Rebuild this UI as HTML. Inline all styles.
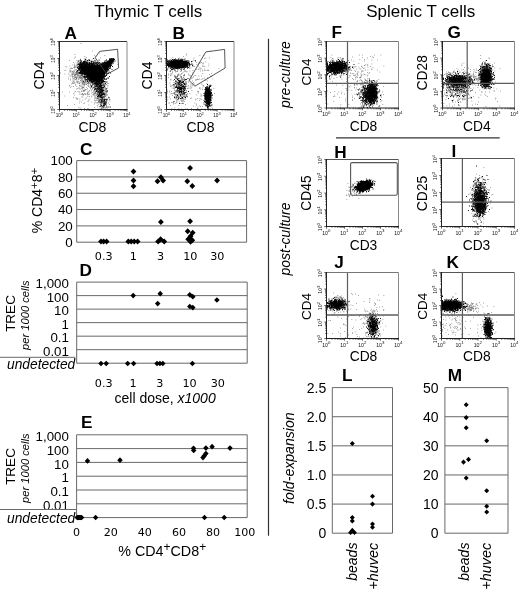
<!DOCTYPE html>
<html lang="en">
<head>
<meta charset="utf-8">
<title>Thymic and splenic T cells</title>
<style>
html,body{margin:0;padding:0;background:#fff;}
body{width:520px;height:595px;overflow:hidden;}
svg{display:block;font-family:"Liberation Sans", Arial, Helvetica, sans-serif;}
</style>
</head>
<body>
<svg width="520" height="595" viewBox="0 0 520 595" font-family='"Liberation Sans", Arial, Helvetica, sans-serif' fill="#000">
<rect x="0" y="0" width="520" height="595" fill="#fff"/>
<text x="148.3" y="17.3" font-size="17" text-anchor="middle">Thymic T cells</text>
<text x="420.7" y="17.3" font-size="17" text-anchor="middle">Splenic T cells</text>
<line x1="268.5" y1="38.8" x2="268.5" y2="535.7" stroke="#333" stroke-width="1.2"/>
<line x1="336" y1="137.8" x2="499.7" y2="137.8" stroke="#333" stroke-width="1.2"/>
<path d="M80.5 43.5h0.72M92 51h0.72M99 53h0.72M74.5 54.5h0.72M94 55.5h0.72M104.5 55.5h0.72M84.5 56.5h0.72M95 56.5h0.72M75 57h0.72M86 57.5h0.72M74 58h0.72M100 58h0.72M80 59h0.72M94.5 59h0.72M92.5 60h0.72M69 60.5h0.72M76.5 60.5h0.72M79 60.5h0.72M85 60.5h0.72M99.5 60.5h0.72M80.5 61h0.72M81.5 61h0.72M86.5 61h0.72M89 61h0.72M91 61h0.72M94.5 61h0.72M79 62h0.72M80 62h0.72M82.5 62h0.72M88 62h0.72M93 62h0.72M73 62.5h0.72M79 62.5h0.72M79.5 62.5h0.72M96 62.5h0.72M96.5 62.5h0.72M76.5 63h0.72M79.5 63h0.72M92 63h0.72M81 63.5h0.72M95.5 63.5h0.72M74 64h0.72M80 64h0.72M77 64.5h0.72M77.5 64.5h0.72M82 64.5h0.72M96.5 64.5h0.72M117.5 64.5h0.72M72.5 65h0.72M74.5 65h0.72M76 65h0.72M74.5 65.5h0.72M76.5 65.5h0.72M77 65.5h0.72M97 65.5h0.72M69.5 66h0.72M74 66h0.72M79 66h0.72M65.5 66.5h0.72M74.5 66.5h0.72M77.5 66.5h0.72M66.5 67h0.72M79 67h0.72M73.5 67.5h0.72M74 67.5h0.72M74.5 67.5h0.72M80 67.5h0.72M108 67.5h0.72M71 68h0.72M74 68h0.72M78 68h0.72M70 68.5h0.72M71.5 68.5h0.72M72 68.5h0.72M77.5 68.5h0.72M78.5 68.5h0.72M69.5 69h0.72M78 69h0.72M78.5 69h0.72M79 69h0.72M76 69.5h0.72M78 69.5h0.72M81.5 69.5h0.72M65.5 70h0.72M74.5 70h0.72M75 70h0.72M79 70h0.72M79.5 70h0.72M82.5 70h0.72M64.5 70.5h0.72M69.5 70.5h0.72M70.5 70.5h0.72M73.5 70.5h0.72M76.5 70.5h0.72M77.5 70.5h0.72M78.5 70.5h0.72M78 71h0.72M79.5 71h0.72M80 71h0.72M70 71.5h0.72M72 71.5h0.72M74 71.5h0.72M77 71.5h0.72M77.5 71.5h0.72M69 72h0.72M70 72h0.72M71 72h0.72M72 72h0.72M72.5 72h0.72M73 72h0.72M73.5 72h0.72M76 72h0.72M76.5 72h0.72M77 72h0.72M77.5 72h0.72M79 72h0.72M82.5 72h0.72M73.5 72.5h0.72M75.5 72.5h0.72M76 72.5h0.72M76.5 72.5h0.72M77.5 72.5h0.72M79.5 72.5h0.72M80.5 72.5h0.72M60 73h0.72M75 73h0.72M77 73h0.72M82.5 73h0.72M83 73h0.72M72 73.5h0.72M73.5 73.5h0.72M76 73.5h0.72M76.5 73.5h0.72M77 73.5h0.72M77.5 73.5h0.72M78 73.5h0.72M81 73.5h0.72M64.5 74h0.72M68 74h0.72M71.5 74h0.72M73.5 74h0.72M74.5 74h0.72M75 74h0.72M76 74h0.72M76.5 74h0.72M78.5 74h0.72M79.5 74h0.72M80.5 74h0.72M71.5 74.5h0.72M72 74.5h0.72M73.5 74.5h0.72M74.5 74.5h0.72M75 74.5h0.72M75.5 74.5h0.72M76 74.5h0.72M77 74.5h0.72M81 74.5h0.72M82 74.5h0.72M82.5 74.5h0.72M84.5 74.5h0.72M69.5 75h0.72M72.5 75h0.72M74.5 75h0.72M77 75h0.72M78 75h0.72M78.5 75h0.72M80 75h0.72M81 75h0.72M82 75h0.72M84.5 75h0.72M85.5 75h0.72M86 75h0.72M104 75h0.72M106.5 75h0.72M74.5 75.5h0.72M75.5 75.5h0.72M77 75.5h0.72M78 75.5h0.72M80 75.5h0.72M86 75.5h0.72M70 76h0.72M71.5 76h0.72M72 76h0.72M74 76h0.72M74.5 76h0.72M78.5 76h0.72M79 76h0.72M79.5 76h0.72M80.5 76h0.72M82.5 76h0.72M83.5 76h0.72M84 76h0.72M85.5 76h0.72M104.5 76h0.72M72.5 76.5h0.72M75.5 76.5h0.72M80 76.5h0.72M81.5 76.5h0.72M82 76.5h0.72M82.5 76.5h0.72M83 76.5h0.72M85.5 76.5h0.72M68.5 77h0.72M72.5 77h0.72M73.5 77h0.72M75 77h0.72M76 77h0.72M77 77h0.72M77.5 77h0.72M78.5 77h0.72M79 77h0.72M80 77h0.72M74.5 77.5h0.72M75 77.5h0.72M76 77.5h0.72M79 77.5h0.72M79.5 77.5h0.72M80.5 77.5h0.72M81 77.5h0.72M82.5 77.5h0.72M84 77.5h0.72M87.5 77.5h0.72M91.5 77.5h0.72M107.5 77.5h0.72M72 78h0.72M74 78h0.72M75.5 78h0.72M76.5 78h0.72M78 78h0.72M80 78h0.72M80.5 78h0.72M81 78h0.72M81.5 78h0.72M82 78h0.72M82.5 78h0.72M83.5 78h0.72M84 78h0.72M85 78h0.72M96.5 78h0.72M100 78h0.72M73.5 78.5h0.72M76 78.5h0.72M76.5 78.5h0.72M79.5 78.5h0.72M80.5 78.5h0.72M81.5 78.5h0.72M85.5 78.5h0.72M88 78.5h0.72M101.5 78.5h0.72M68 79h0.72M70 79h0.72M73.5 79h0.72M76 79h0.72M76.5 79h0.72M78.5 79h0.72M82 79h0.72M101 79h0.72M104.5 79h0.72M75 79.5h0.72M75.5 79.5h0.72M78.5 79.5h0.72M81 79.5h0.72M85 79.5h0.72M86.5 79.5h0.72M101.5 79.5h0.72M103 79.5h0.72M103.5 79.5h0.72M104 79.5h0.72M106 79.5h0.72M70 80h0.72M72.5 80h0.72M74 80h0.72M80.5 80h0.72M82 80h0.72M83.5 80h0.72M88 80h0.72M103 80h0.72M80 80.5h0.72M80.5 80.5h0.72M82 80.5h0.72M83.5 80.5h0.72M85.5 80.5h0.72M87 80.5h0.72M88.5 80.5h0.72M92.5 80.5h0.72M98 80.5h0.72M73 81h0.72M76 81h0.72M77.5 81h0.72M81 81h0.72M84 81h0.72M85 81h0.72M86 81h0.72M97 81h0.72M97.5 81h0.72M101.5 81h0.72M103.5 81h0.72M77 81.5h0.72M78.5 81.5h0.72M82 81.5h0.72M83.5 81.5h0.72M85 81.5h0.72M85.5 81.5h0.72M89 81.5h0.72M89.5 81.5h0.72M90.5 81.5h0.72M101.5 81.5h0.72M72 82h0.72M73 82h0.72M74 82h0.72M76 82h0.72M80.5 82h0.72M81.5 82h0.72M83 82h0.72M86 82h0.72M100 82h0.72M102.5 82h0.72M106 82h0.72M106.5 82h0.72M107 82h0.72M74.5 82.5h0.72M77 82.5h0.72M79.5 82.5h0.72M82 82.5h0.72M83 82.5h0.72M84 82.5h0.72M84.5 82.5h0.72M85.5 82.5h0.72M87.5 82.5h0.72M88 82.5h0.72M90 82.5h0.72M91 82.5h0.72M92 82.5h0.72M97 82.5h0.72M99 82.5h0.72M100 82.5h0.72M100.5 82.5h0.72M101.5 82.5h0.72M102.5 82.5h0.72M72.5 83h0.72M77.5 83h0.72M78 83h0.72M82 83h0.72M82.5 83h0.72M84 83h0.72M85.5 83h0.72M86.5 83h0.72M95 83h0.72M100 83h0.72M100.5 83h0.72M102.5 83h0.72M103 83h0.72M104.5 83h0.72M105 83h0.72M72 83.5h0.72M73 83.5h0.72M74.5 83.5h0.72M79 83.5h0.72M79.5 83.5h0.72M82 83.5h0.72M83.5 83.5h0.72M84.5 83.5h0.72M87 83.5h0.72M87.5 83.5h0.72M88 83.5h0.72M89 83.5h0.72M90 83.5h0.72M93.5 83.5h0.72M94.5 83.5h0.72M96.5 83.5h0.72M98 83.5h0.72M98.5 83.5h0.72M101 83.5h0.72M101.5 83.5h0.72M102 83.5h0.72M103.5 83.5h0.72M107 83.5h0.72M108 83.5h0.72M71 84h0.72M81.5 84h0.72M83 84h0.72M84 84h0.72M88 84h0.72M88.5 84h0.72M90.5 84h0.72M92.5 84h0.72M96.5 84h0.72M98.5 84h0.72M82.5 84.5h0.72M83.5 84.5h0.72M84.5 84.5h0.72M85.5 84.5h0.72M86 84.5h0.72M90 84.5h0.72M95 84.5h0.72M95.5 84.5h0.72M102 84.5h0.72M103 84.5h0.72M104 84.5h0.72M105.5 84.5h0.72M106 84.5h0.72M75 85h0.72M75.5 85h0.72M79.5 85h0.72M84 85h0.72M90 85h0.72M92 85h0.72M94 85h0.72M95.5 85h0.72M98 85h0.72M98.5 85h0.72M103 85h0.72M105.5 85h0.72M69.5 85.5h0.72M79 85.5h0.72M87.5 85.5h0.72M91 85.5h0.72M94 85.5h0.72M97.5 85.5h0.72M98 85.5h0.72M98.5 85.5h0.72M99.5 85.5h0.72M100 85.5h0.72M103 85.5h0.72M104.5 85.5h0.72M107.5 85.5h0.72M69 86h0.72M79.5 86h0.72M80 86h0.72M81 86h0.72M82 86h0.72M83 86h0.72M84 86h0.72M88 86h0.72M88.5 86h0.72M91.5 86h0.72M93.5 86h0.72M97.5 86h0.72M98 86h0.72M99 86h0.72M101.5 86h0.72M103 86h0.72M104.5 86h0.72M107.5 86h0.72M71.5 86.5h0.72M73 86.5h0.72M76.5 86.5h0.72M88.5 86.5h0.72M91.5 86.5h0.72M95 86.5h0.72M96 86.5h0.72M100.5 86.5h0.72M101 86.5h0.72M101.5 86.5h0.72M81 87h0.72M91.5 87h0.72M95 87h0.72M95.5 87h0.72M96.5 87h0.72M97.5 87h0.72M98.5 87h0.72M103.5 87h0.72M70 87.5h0.72M82 87.5h0.72M82.5 87.5h0.72M83 87.5h0.72M83.5 87.5h0.72M86 87.5h0.72M89.5 87.5h0.72M91 87.5h0.72M91.5 87.5h0.72M93 87.5h0.72M94.5 87.5h0.72M96 87.5h0.72M98 87.5h0.72M100 87.5h0.72M100.5 87.5h0.72M101.5 87.5h0.72M103.5 87.5h0.72M104 87.5h0.72M105 87.5h0.72M78 88h0.72M79 88h0.72M82.5 88h0.72M90 88h0.72M92 88h0.72M93.5 88h0.72M94.5 88h0.72M95 88h0.72M95.5 88h0.72M97 88h0.72M99 88h0.72M99.5 88h0.72M102.5 88h0.72M107 88h0.72M77 88.5h0.72M81.5 88.5h0.72M87 88.5h0.72M92.5 88.5h0.72M94 88.5h0.72M94.5 88.5h0.72M96 88.5h0.72M98 88.5h0.72M98.5 88.5h0.72M99.5 88.5h0.72M100.5 88.5h0.72M105 88.5h0.72M105.5 88.5h0.72M106.5 88.5h0.72M76 89h0.72M79.5 89h0.72M80.5 89h0.72M82 89h0.72M84 89h0.72M90 89h0.72M92 89h0.72M95.5 89h0.72M96 89h0.72M99 89h0.72M100.5 89h0.72M103 89h0.72M103.5 89h0.72M104 89h0.72M105.5 89h0.72M85 89.5h0.72M86.5 89.5h0.72M95 89.5h0.72M96 89.5h0.72M99 89.5h0.72M102 89.5h0.72M102.5 89.5h0.72M105 89.5h0.72M83.5 90h0.72M85 90h0.72M91 90h0.72M95 90h0.72M98.5 90h0.72M99 90h0.72M99.5 90h0.72M100 90h0.72M103.5 90h0.72M83 90.5h0.72M84 90.5h0.72M89 90.5h0.72M93.5 90.5h0.72M94 90.5h0.72M98 90.5h0.72M98.5 90.5h0.72M99 90.5h0.72M100 90.5h0.72M101 90.5h0.72M105 90.5h0.72M106.5 90.5h0.72M81 91h0.72M82.5 91h0.72M83.5 91h0.72M84.5 91h0.72M87.5 91h0.72M89 91h0.72M91.5 91h0.72M95.5 91h0.72M97 91h0.72M98.5 91h0.72M99.5 91h0.72M102.5 91h0.72M103 91h0.72M75 91.5h0.72M77.5 91.5h0.72M81.5 91.5h0.72M83.5 91.5h0.72M93 91.5h0.72M94.5 91.5h0.72M95 91.5h0.72M96.5 91.5h0.72M97 91.5h0.72M99 91.5h0.72M100 91.5h0.72M103 91.5h0.72M62 92h0.72M69 92h0.72M74.5 92h0.72M78.5 92h0.72M79.5 92h0.72M88 92h0.72M95.5 92h0.72M100.5 92h0.72M104 92h0.72M104.5 92h0.72M107 92h0.72M87.5 92.5h0.72M92.5 92.5h0.72M95 92.5h0.72M97.5 92.5h0.72M98 92.5h0.72M100.5 92.5h0.72M102 92.5h0.72M102.5 92.5h0.72M103.5 92.5h0.72M106 92.5h0.72M87.5 93h0.72M91 93h0.72M93.5 93h0.72M95 93h0.72M95.5 93h0.72M96.5 93h0.72M100 93h0.72M103 93h0.72M103.5 93h0.72M73 93.5h0.72M82 93.5h0.72M84 93.5h0.72M87 93.5h0.72M93.5 93.5h0.72M97.5 93.5h0.72M98 93.5h0.72M98.5 93.5h0.72M99.5 93.5h0.72M100 93.5h0.72M100.5 93.5h0.72M102 93.5h0.72M102.5 93.5h0.72M103.5 93.5h0.72M104 93.5h0.72M104.5 93.5h0.72M79 94h0.72M80.5 94h0.72M82 94h0.72M82.5 94h0.72M85 94h0.72M86.5 94h0.72M89 94h0.72M94 94h0.72M95.5 94h0.72M96 94h0.72M98.5 94h0.72M100 94h0.72M102.5 94h0.72M103 94h0.72M103.5 94h0.72M105.5 94h0.72M81 94.5h0.72M83 94.5h0.72M83.5 94.5h0.72M85 94.5h0.72M87.5 94.5h0.72M88.5 94.5h0.72M92.5 94.5h0.72M93.5 94.5h0.72M98 94.5h0.72M98.5 94.5h0.72M102.5 94.5h0.72M105 94.5h0.72M105.5 94.5h0.72M106.5 94.5h0.72M74 95h0.72M82.5 95h0.72M83 95h0.72M87.5 95h0.72M93 95h0.72M94.5 95h0.72M96.5 95h0.72M98 95h0.72M100 95h0.72M100.5 95h0.72M104 95h0.72M107 95h0.72M96 95.5h0.72M104 95.5h0.72M105 95.5h0.72M106 95.5h0.72M64.5 96h0.72M91.5 96h0.72M94 96h0.72M95 96h0.72M97 96h0.72M99.5 96h0.72M100 96h0.72M100.5 96h0.72M101.5 96h0.72M102.5 96h0.72M103 96h0.72M104 96h0.72M104.5 96h0.72M87.5 96.5h0.72M89 96.5h0.72M98 96.5h0.72M99.5 96.5h0.72M100.5 96.5h0.72M101 96.5h0.72M102.5 96.5h0.72M103.5 96.5h0.72M105 96.5h0.72M105.5 96.5h0.72M81.5 97h0.72M82.5 97h0.72M91.5 97h0.72M95.5 97h0.72M98.5 97h0.72M99 97h0.72M100.5 97h0.72M101 97h0.72M102.5 97h0.72M108 97h0.72M73 97.5h0.72M94.5 97.5h0.72M96.5 97.5h0.72M98.5 97.5h0.72M99 97.5h0.72M102 97.5h0.72M102.5 97.5h0.72M103.5 97.5h0.72M75.5 98h0.72M76.5 98h0.72M86 98h0.72M95.5 98h0.72M97 98h0.72M99 98h0.72M100.5 98h0.72M101.5 98h0.72M102.5 98h0.72M105.5 98h0.72M95.5 98.5h0.72M97 98.5h0.72M97.5 98.5h0.72M98.5 98.5h0.72M101.5 98.5h0.72M103.5 98.5h0.72M108.5 98.5h0.72M76 99h0.72M77 99h0.72M77.5 99h0.72M79.5 99h0.72M85 99h0.72M89.5 99h0.72M94 99h0.72M96 99h0.72M98.5 99h0.72M101 99h0.72M103.5 99h0.72M104 99h0.72M104.5 99h0.72M106 99h0.72M107 99h0.72M109 99h0.72M98.5 99.5h0.72M100 99.5h0.72M102 99.5h0.72M105 99.5h0.72M106 99.5h0.72M107 99.5h0.72M109.5 99.5h0.72M82.5 100h0.72M88 100h0.72M94.5 100h0.72M96.5 100h0.72M97.5 100h0.72M98.5 100h0.72M99 100h0.72M104.5 100h0.72M105.5 100h0.72M109.5 100h0.72M94.5 100.5h0.72M96.5 100.5h0.72M99 100.5h0.72M79.5 101h0.72M88.5 101h0.72M95 101h0.72M99.5 101h0.72M101 101h0.72M101.5 101h0.72M103 101h0.72M104.5 101h0.72M109.5 101h0.72M87.5 101.5h0.72M98 101.5h0.72M98.5 101.5h0.72M99.5 101.5h0.72M102 101.5h0.72M102.5 101.5h0.72M104 101.5h0.72M105 101.5h0.72M105.5 101.5h0.72M106.5 101.5h0.72M81 102h0.72M91.5 102h0.72M99.5 102h0.72M100 102h0.72M102 102h0.72M102.5 102h0.72M103 102h0.72M103.5 102h0.72M104 102h0.72M106 102h0.72M95.5 102.5h0.72M97 102.5h0.72M98 102.5h0.72M99 102.5h0.72M99.5 102.5h0.72M100 102.5h0.72M100.5 102.5h0.72M101.5 102.5h0.72M102.5 102.5h0.72M103 102.5h0.72M104.5 102.5h0.72M105 102.5h0.72M105.5 102.5h0.72M79 103h0.72M84 103h0.72M94 103h0.72M96.5 103h0.72M97.5 103h0.72M99 103h0.72M100 103h0.72M101 103h0.72M106 103h0.72M106.5 103h0.72M108 103h0.72M83.5 103.5h0.72M100.5 103.5h0.72M101.5 103.5h0.72M103 103.5h0.72M104 103.5h0.72M94 104h0.72M100 104h0.72M103.5 104h0.72M105.5 104h0.72M74 104.5h0.72M98.5 104.5h0.72M100.5 104.5h0.72M103 104.5h0.72M104 104.5h0.72M105 104.5h0.72M105.5 104.5h0.72M109 104.5h0.72M88.5 105h0.72M100 105h0.72M101 105h0.72M102.5 105h0.72M104 105h0.72M104.5 105h0.72M105.5 105h0.72M106 105h0.72M67 105.5h0.72M97 105.5h0.72M102.5 105.5h0.72M106 105.5h0.72M100 106h0.72M100.5 106h0.72M101 106h0.72M100.5 106.5h0.72M101.5 106.5h0.72M102 106.5h0.72M104.5 106.5h0.72M106 106.5h0.72M107.5 106.5h0.72M110 106.5h0.72M97.5 107h0.72M102 107h0.72M103 107h0.72M106 107h0.72M78.5 107.5h0.72M94 107.5h0.72M101.5 107.5h0.72M102.5 107.5h0.72M103 107.5h0.72M103.5 107.5h0.72M105.5 107.5h0.72M106 107.5h0.72M107 107.5h0.72M110 107.5h0.72M80.5 108h0.72M99.5 108h0.72M101 108h0.72M84 108.5h0.72M87.5 108.5h0.72M101 108.5h0.72M105.5 108.5h0.72M79.5 109h0.72M84 109h0.72M87.5 109h0.72M88 109h0.72M100.5 109h0.72M101 109h0.72M101.5 109h0.72M102 109h0.72M102.5 109h0.72M103 109h0.72M104 109h0.72M107 109h0.72" stroke="#5a5a5a" stroke-width="0.72" fill="none"/>
<path d="M93 58.5h0.95M110.5 58.5h0.95M111.5 58.5h0.95M113 58.5h0.95M84.5 59h0.95M109 59h0.95M109.5 59h0.95M110.5 59h0.95M111 59h0.95M112 59h0.95M112.5 59h0.95M113.5 59h0.95M85 59.5h0.95M109 59.5h0.95M110 59.5h0.95M110.5 59.5h0.95M111.5 59.5h0.95M112 59.5h0.95M112.5 59.5h0.95M113 59.5h0.95M114 59.5h0.95M80 60h0.95M85.5 60h0.95M88 60h0.95M89 60h0.95M98.5 60h0.95M106 60h0.95M109 60h0.95M110 60h0.95M110.5 60h0.95M111 60h0.95M111.5 60h0.95M112 60h0.95M112.5 60h0.95M113 60h0.95M87 60.5h0.95M89 60.5h0.95M94.5 60.5h0.95M105.5 60.5h0.95M109 60.5h0.95M109.5 60.5h0.95M110 60.5h0.95M110.5 60.5h0.95M111 60.5h0.95M111.5 60.5h0.95M112 60.5h0.95M112.5 60.5h0.95M78 61h0.95M80 61h0.95M81 61h0.95M84 61h0.95M90.5 61h0.95M104.5 61h0.95M107.5 61h0.95M108 61h0.95M108.5 61h0.95M109 61h0.95M109.5 61h0.95M110 61h0.95M110.5 61h0.95M111 61h0.95M111.5 61h0.95M112 61h0.95M112.5 61h0.95M113 61h0.95M113.5 61h0.95M114.5 61h0.95M83 61.5h0.95M83.5 61.5h0.95M84 61.5h0.95M85.5 61.5h0.95M91 61.5h0.95M92.5 61.5h0.95M107 61.5h0.95M107.5 61.5h0.95M108 61.5h0.95M108.5 61.5h0.95M109 61.5h0.95M109.5 61.5h0.95M110 61.5h0.95M110.5 61.5h0.95M111 61.5h0.95M111.5 61.5h0.95M112 61.5h0.95M112.5 61.5h0.95M77.5 62h0.95M81 62h0.95M84 62h0.95M84.5 62h0.95M85 62h0.95M85.5 62h0.95M87 62h0.95M92.5 62h0.95M94.5 62h0.95M95.5 62h0.95M104 62h0.95M105.5 62h0.95M106 62h0.95M107 62h0.95M107.5 62h0.95M108 62h0.95M108.5 62h0.95M109 62h0.95M109.5 62h0.95M110 62h0.95M110.5 62h0.95M111 62h0.95M111.5 62h0.95M112 62h0.95M80 62.5h0.95M81.5 62.5h0.95M82.5 62.5h0.95M83 62.5h0.95M83.5 62.5h0.95M84 62.5h0.95M86 62.5h0.95M86.5 62.5h0.95M89 62.5h0.95M91 62.5h0.95M93.5 62.5h0.95M97 62.5h0.95M99 62.5h0.95M103.5 62.5h0.95M104 62.5h0.95M104.5 62.5h0.95M105 62.5h0.95M105.5 62.5h0.95M106 62.5h0.95M106.5 62.5h0.95M107 62.5h0.95M107.5 62.5h0.95M108 62.5h0.95M108.5 62.5h0.95M109 62.5h0.95M109.5 62.5h0.95M110 62.5h0.95M110.5 62.5h0.95M111 62.5h0.95M111.5 62.5h0.95M80 63h0.95M83 63h0.95M83.5 63h0.95M84.5 63h0.95M85 63h0.95M86 63h0.95M86.5 63h0.95M87 63h0.95M88 63h0.95M89.5 63h0.95M90.5 63h0.95M93 63h0.95M93.5 63h0.95M94.5 63h0.95M95 63h0.95M96 63h0.95M96.5 63h0.95M100.5 63h0.95M102 63h0.95M102.5 63h0.95M103.5 63h0.95M104 63h0.95M104.5 63h0.95M105.5 63h0.95M106 63h0.95M106.5 63h0.95M107 63h0.95M107.5 63h0.95M108 63h0.95M108.5 63h0.95M109 63h0.95M109.5 63h0.95M110 63h0.95M110.5 63h0.95M112 63h0.95M113 63h0.95M78.5 63.5h0.95M80 63.5h0.95M81.5 63.5h0.95M82 63.5h0.95M82.5 63.5h0.95M83 63.5h0.95M83.5 63.5h0.95M84 63.5h0.95M85.5 63.5h0.95M86 63.5h0.95M87 63.5h0.95M89 63.5h0.95M90 63.5h0.95M90.5 63.5h0.95M91 63.5h0.95M92.5 63.5h0.95M93 63.5h0.95M94.5 63.5h0.95M97.5 63.5h0.95M98 63.5h0.95M100.5 63.5h0.95M102.5 63.5h0.95M103 63.5h0.95M103.5 63.5h0.95M105 63.5h0.95M105.5 63.5h0.95M106 63.5h0.95M106.5 63.5h0.95M107 63.5h0.95M107.5 63.5h0.95M108 63.5h0.95M108.5 63.5h0.95M109 63.5h0.95M109.5 63.5h0.95M110 63.5h0.95M110.5 63.5h0.95M111 63.5h0.95M77.5 64h0.95M79 64h0.95M80.5 64h0.95M81 64h0.95M81.5 64h0.95M82.5 64h0.95M83 64h0.95M83.5 64h0.95M84.5 64h0.95M85 64h0.95M86 64h0.95M86.5 64h0.95M87 64h0.95M88 64h0.95M88.5 64h0.95M89 64h0.95M89.5 64h0.95M91 64h0.95M91.5 64h0.95M92 64h0.95M92.5 64h0.95M93.5 64h0.95M95.5 64h0.95M96 64h0.95M96.5 64h0.95M99.5 64h0.95M101 64h0.95M101.5 64h0.95M102.5 64h0.95M103 64h0.95M103.5 64h0.95M104 64h0.95M105 64h0.95M105.5 64h0.95M106 64h0.95M106.5 64h0.95M107 64h0.95M107.5 64h0.95M108 64h0.95M108.5 64h0.95M109 64h0.95M109.5 64h0.95M110 64h0.95M110.5 64h0.95M111.5 64h0.95M78 64.5h0.95M79 64.5h0.95M80 64.5h0.95M80.5 64.5h0.95M81 64.5h0.95M81.5 64.5h0.95M82.5 64.5h0.95M83.5 64.5h0.95M84 64.5h0.95M84.5 64.5h0.95M85 64.5h0.95M85.5 64.5h0.95M86.5 64.5h0.95M87 64.5h0.95M87.5 64.5h0.95M88 64.5h0.95M88.5 64.5h0.95M89 64.5h0.95M90.5 64.5h0.95M91 64.5h0.95M91.5 64.5h0.95M92.5 64.5h0.95M93.5 64.5h0.95M94.5 64.5h0.95M97 64.5h0.95M98.5 64.5h0.95M99.5 64.5h0.95M100.5 64.5h0.95M101 64.5h0.95M101.5 64.5h0.95M102.5 64.5h0.95M103.5 64.5h0.95M104 64.5h0.95M104.5 64.5h0.95M105 64.5h0.95M105.5 64.5h0.95M106 64.5h0.95M106.5 64.5h0.95M107 64.5h0.95M107.5 64.5h0.95M108 64.5h0.95M108.5 64.5h0.95M109 64.5h0.95M109.5 64.5h0.95M110 64.5h0.95M110.5 64.5h0.95M78.5 65h0.95M79 65h0.95M80 65h0.95M80.5 65h0.95M81.5 65h0.95M82 65h0.95M82.5 65h0.95M83.5 65h0.95M84 65h0.95M84.5 65h0.95M85 65h0.95M85.5 65h0.95M86 65h0.95M86.5 65h0.95M87.5 65h0.95M88 65h0.95M88.5 65h0.95M89 65h0.95M89.5 65h0.95M90 65h0.95M90.5 65h0.95M91 65h0.95M91.5 65h0.95M92 65h0.95M93 65h0.95M93.5 65h0.95M94 65h0.95M94.5 65h0.95M96.5 65h0.95M97 65h0.95M97.5 65h0.95M99 65h0.95M99.5 65h0.95M100 65h0.95M100.5 65h0.95M101 65h0.95M101.5 65h0.95M102 65h0.95M103 65h0.95M103.5 65h0.95M104 65h0.95M104.5 65h0.95M105 65h0.95M105.5 65h0.95M106 65h0.95M106.5 65h0.95M107 65h0.95M107.5 65h0.95M108 65h0.95M108.5 65h0.95M109 65h0.95M109.5 65h0.95M110 65h0.95M79 65.5h0.95M80.5 65.5h0.95M81 65.5h0.95M81.5 65.5h0.95M82 65.5h0.95M82.5 65.5h0.95M83.5 65.5h0.95M84 65.5h0.95M84.5 65.5h0.95M85 65.5h0.95M85.5 65.5h0.95M86 65.5h0.95M86.5 65.5h0.95M87.5 65.5h0.95M88.5 65.5h0.95M89 65.5h0.95M89.5 65.5h0.95M90 65.5h0.95M90.5 65.5h0.95M91 65.5h0.95M91.5 65.5h0.95M92 65.5h0.95M92.5 65.5h0.95M93 65.5h0.95M94 65.5h0.95M95 65.5h0.95M95.5 65.5h0.95M96.5 65.5h0.95M97.5 65.5h0.95M98 65.5h0.95M98.5 65.5h0.95M99.5 65.5h0.95M100.5 65.5h0.95M101.5 65.5h0.95M102 65.5h0.95M102.5 65.5h0.95M103 65.5h0.95M103.5 65.5h0.95M104 65.5h0.95M104.5 65.5h0.95M105 65.5h0.95M105.5 65.5h0.95M106 65.5h0.95M106.5 65.5h0.95M107 65.5h0.95M108 65.5h0.95M108.5 65.5h0.95M109.5 65.5h0.95M110 65.5h0.95M111 65.5h0.95M79.5 66h0.95M80 66h0.95M80.5 66h0.95M81 66h0.95M81.5 66h0.95M82.5 66h0.95M83 66h0.95M83.5 66h0.95M84 66h0.95M84.5 66h0.95M85 66h0.95M85.5 66h0.95M86 66h0.95M86.5 66h0.95M87 66h0.95M87.5 66h0.95M88 66h0.95M88.5 66h0.95M89 66h0.95M89.5 66h0.95M90 66h0.95M90.5 66h0.95M91 66h0.95M91.5 66h0.95M92 66h0.95M92.5 66h0.95M93 66h0.95M94 66h0.95M94.5 66h0.95M95 66h0.95M95.5 66h0.95M96 66h0.95M96.5 66h0.95M97 66h0.95M97.5 66h0.95M98 66h0.95M98.5 66h0.95M99 66h0.95M99.5 66h0.95M100 66h0.95M100.5 66h0.95M101.5 66h0.95M102 66h0.95M102.5 66h0.95M103 66h0.95M103.5 66h0.95M104 66h0.95M104.5 66h0.95M105 66h0.95M105.5 66h0.95M106.5 66h0.95M107 66h0.95M107.5 66h0.95M108 66h0.95M110 66h0.95M78.5 66.5h0.95M79.5 66.5h0.95M80 66.5h0.95M80.5 66.5h0.95M81 66.5h0.95M81.5 66.5h0.95M82 66.5h0.95M82.5 66.5h0.95M83 66.5h0.95M83.5 66.5h0.95M84 66.5h0.95M84.5 66.5h0.95M85 66.5h0.95M85.5 66.5h0.95M86 66.5h0.95M86.5 66.5h0.95M87 66.5h0.95M87.5 66.5h0.95M88 66.5h0.95M88.5 66.5h0.95M89 66.5h0.95M89.5 66.5h0.95M90 66.5h0.95M90.5 66.5h0.95M91 66.5h0.95M91.5 66.5h0.95M92 66.5h0.95M92.5 66.5h0.95M93 66.5h0.95M93.5 66.5h0.95M94 66.5h0.95M94.5 66.5h0.95M95 66.5h0.95M95.5 66.5h0.95M96 66.5h0.95M96.5 66.5h0.95M97 66.5h0.95M97.5 66.5h0.95M99 66.5h0.95M100 66.5h0.95M100.5 66.5h0.95M101 66.5h0.95M101.5 66.5h0.95M102.5 66.5h0.95M103 66.5h0.95M103.5 66.5h0.95M104 66.5h0.95M104.5 66.5h0.95M105 66.5h0.95M105.5 66.5h0.95M106 66.5h0.95M106.5 66.5h0.95M107 66.5h0.95M107.5 66.5h0.95M108 66.5h0.95M108.5 66.5h0.95M109 66.5h0.95M110 66.5h0.95M112 66.5h0.95M75.5 67h0.95M77.5 67h0.95M78.5 67h0.95M79.5 67h0.95M80 67h0.95M80.5 67h0.95M81 67h0.95M81.5 67h0.95M82 67h0.95M82.5 67h0.95M83 67h0.95M83.5 67h0.95M84 67h0.95M84.5 67h0.95M85 67h0.95M85.5 67h0.95M86 67h0.95M86.5 67h0.95M87 67h0.95M87.5 67h0.95M88 67h0.95M88.5 67h0.95M89 67h0.95M89.5 67h0.95M90 67h0.95M90.5 67h0.95M91 67h0.95M91.5 67h0.95M92 67h0.95M92.5 67h0.95M93 67h0.95M93.5 67h0.95M94 67h0.95M94.5 67h0.95M95 67h0.95M95.5 67h0.95M96 67h0.95M96.5 67h0.95M97 67h0.95M97.5 67h0.95M98 67h0.95M98.5 67h0.95M99 67h0.95M100 67h0.95M100.5 67h0.95M101 67h0.95M101.5 67h0.95M102 67h0.95M102.5 67h0.95M103 67h0.95M103.5 67h0.95M104 67h0.95M104.5 67h0.95M105 67h0.95M105.5 67h0.95M106 67h0.95M106.5 67h0.95M107 67h0.95M107.5 67h0.95M108 67h0.95M108.5 67h0.95M110 67h0.95M77 67.5h0.95M79 67.5h0.95M79.5 67.5h0.95M80.5 67.5h0.95M81 67.5h0.95M81.5 67.5h0.95M82 67.5h0.95M82.5 67.5h0.95M83 67.5h0.95M83.5 67.5h0.95M84 67.5h0.95M84.5 67.5h0.95M85 67.5h0.95M85.5 67.5h0.95M86 67.5h0.95M86.5 67.5h0.95M87 67.5h0.95M87.5 67.5h0.95M88 67.5h0.95M88.5 67.5h0.95M89 67.5h0.95M89.5 67.5h0.95M90 67.5h0.95M90.5 67.5h0.95M91 67.5h0.95M91.5 67.5h0.95M92 67.5h0.95M92.5 67.5h0.95M93 67.5h0.95M93.5 67.5h0.95M94 67.5h0.95M94.5 67.5h0.95M95 67.5h0.95M95.5 67.5h0.95M96 67.5h0.95M96.5 67.5h0.95M97 67.5h0.95M97.5 67.5h0.95M98 67.5h0.95M98.5 67.5h0.95M99 67.5h0.95M99.5 67.5h0.95M100 67.5h0.95M100.5 67.5h0.95M101 67.5h0.95M101.5 67.5h0.95M102 67.5h0.95M102.5 67.5h0.95M103 67.5h0.95M103.5 67.5h0.95M104 67.5h0.95M104.5 67.5h0.95M105 67.5h0.95M105.5 67.5h0.95M106 67.5h0.95M106.5 67.5h0.95M107 67.5h0.95M107.5 67.5h0.95M108.5 67.5h0.95M77.5 68h0.95M79.5 68h0.95M80 68h0.95M80.5 68h0.95M81 68h0.95M81.5 68h0.95M82 68h0.95M82.5 68h0.95M83 68h0.95M83.5 68h0.95M84 68h0.95M84.5 68h0.95M85 68h0.95M85.5 68h0.95M86 68h0.95M86.5 68h0.95M87 68h0.95M87.5 68h0.95M88 68h0.95M88.5 68h0.95M89 68h0.95M89.5 68h0.95M90 68h0.95M90.5 68h0.95M91 68h0.95M91.5 68h0.95M92 68h0.95M92.5 68h0.95M93 68h0.95M93.5 68h0.95M94 68h0.95M94.5 68h0.95M95 68h0.95M95.5 68h0.95M96 68h0.95M96.5 68h0.95M97 68h0.95M97.5 68h0.95M98 68h0.95M98.5 68h0.95M99 68h0.95M99.5 68h0.95M100 68h0.95M100.5 68h0.95M101 68h0.95M101.5 68h0.95M102 68h0.95M102.5 68h0.95M103 68h0.95M103.5 68h0.95M104 68h0.95M104.5 68h0.95M105 68h0.95M105.5 68h0.95M106 68h0.95M106.5 68h0.95M107 68h0.95M107.5 68h0.95M110 68h0.95M78 68.5h0.95M79 68.5h0.95M80 68.5h0.95M80.5 68.5h0.95M81 68.5h0.95M81.5 68.5h0.95M82 68.5h0.95M82.5 68.5h0.95M83 68.5h0.95M83.5 68.5h0.95M84 68.5h0.95M84.5 68.5h0.95M85 68.5h0.95M85.5 68.5h0.95M86 68.5h0.95M86.5 68.5h0.95M87 68.5h0.95M87.5 68.5h0.95M88 68.5h0.95M88.5 68.5h0.95M89 68.5h0.95M89.5 68.5h0.95M90 68.5h0.95M90.5 68.5h0.95M91 68.5h0.95M91.5 68.5h0.95M92 68.5h0.95M92.5 68.5h0.95M93 68.5h0.95M93.5 68.5h0.95M94 68.5h0.95M94.5 68.5h0.95M95 68.5h0.95M95.5 68.5h0.95M96 68.5h0.95M96.5 68.5h0.95M97 68.5h0.95M97.5 68.5h0.95M98 68.5h0.95M98.5 68.5h0.95M99 68.5h0.95M99.5 68.5h0.95M100 68.5h0.95M100.5 68.5h0.95M101 68.5h0.95M101.5 68.5h0.95M102 68.5h0.95M102.5 68.5h0.95M103 68.5h0.95M103.5 68.5h0.95M104 68.5h0.95M104.5 68.5h0.95M105 68.5h0.95M105.5 68.5h0.95M106 68.5h0.95M106.5 68.5h0.95M107 68.5h0.95M109 68.5h0.95M109.5 68.5h0.95M79.5 69h0.95M80.5 69h0.95M81 69h0.95M81.5 69h0.95M82 69h0.95M82.5 69h0.95M83 69h0.95M83.5 69h0.95M84 69h0.95M84.5 69h0.95M85 69h0.95M85.5 69h0.95M86 69h0.95M86.5 69h0.95M87 69h0.95M87.5 69h0.95M88 69h0.95M88.5 69h0.95M89 69h0.95M89.5 69h0.95M90 69h0.95M90.5 69h0.95M91 69h0.95M91.5 69h0.95M92 69h0.95M92.5 69h0.95M93 69h0.95M93.5 69h0.95M94 69h0.95M94.5 69h0.95M95 69h0.95M95.5 69h0.95M96 69h0.95M96.5 69h0.95M97 69h0.95M97.5 69h0.95M98 69h0.95M98.5 69h0.95M99 69h0.95M99.5 69h0.95M100 69h0.95M100.5 69h0.95M101 69h0.95M101.5 69h0.95M102 69h0.95M102.5 69h0.95M103 69h0.95M103.5 69h0.95M104.5 69h0.95M105 69h0.95M105.5 69h0.95M106 69h0.95M107 69h0.95M107.5 69h0.95M108 69h0.95M78.5 69.5h0.95M79 69.5h0.95M80.5 69.5h0.95M81 69.5h0.95M82 69.5h0.95M82.5 69.5h0.95M83 69.5h0.95M83.5 69.5h0.95M84 69.5h0.95M84.5 69.5h0.95M85 69.5h0.95M85.5 69.5h0.95M86 69.5h0.95M86.5 69.5h0.95M87 69.5h0.95M87.5 69.5h0.95M88 69.5h0.95M88.5 69.5h0.95M89 69.5h0.95M89.5 69.5h0.95M90 69.5h0.95M90.5 69.5h0.95M91 69.5h0.95M91.5 69.5h0.95M92 69.5h0.95M92.5 69.5h0.95M93 69.5h0.95M93.5 69.5h0.95M94 69.5h0.95M94.5 69.5h0.95M95 69.5h0.95M95.5 69.5h0.95M96 69.5h0.95M96.5 69.5h0.95M97 69.5h0.95M97.5 69.5h0.95M98 69.5h0.95M98.5 69.5h0.95M99 69.5h0.95M99.5 69.5h0.95M100 69.5h0.95M100.5 69.5h0.95M101 69.5h0.95M101.5 69.5h0.95M102 69.5h0.95M102.5 69.5h0.95M103 69.5h0.95M103.5 69.5h0.95M104 69.5h0.95M104.5 69.5h0.95M105 69.5h0.95M105.5 69.5h0.95M106 69.5h0.95M106.5 69.5h0.95M107 69.5h0.95M108 69.5h0.95M111.5 69.5h0.95M78.5 70h0.95M80.5 70h0.95M81 70h0.95M81.5 70h0.95M82 70h0.95M83 70h0.95M83.5 70h0.95M84 70h0.95M84.5 70h0.95M85 70h0.95M85.5 70h0.95M86 70h0.95M86.5 70h0.95M87 70h0.95M87.5 70h0.95M88 70h0.95M88.5 70h0.95M89 70h0.95M89.5 70h0.95M90 70h0.95M90.5 70h0.95M91 70h0.95M91.5 70h0.95M92 70h0.95M92.5 70h0.95M93 70h0.95M93.5 70h0.95M94 70h0.95M94.5 70h0.95M95 70h0.95M95.5 70h0.95M96 70h0.95M96.5 70h0.95M97 70h0.95M97.5 70h0.95M98 70h0.95M98.5 70h0.95M99 70h0.95M99.5 70h0.95M100 70h0.95M100.5 70h0.95M101 70h0.95M101.5 70h0.95M102 70h0.95M102.5 70h0.95M103 70h0.95M103.5 70h0.95M104 70h0.95M104.5 70h0.95M105 70h0.95M106 70h0.95M106.5 70h0.95M77 70.5h0.95M79.5 70.5h0.95M80 70.5h0.95M80.5 70.5h0.95M81 70.5h0.95M81.5 70.5h0.95M82 70.5h0.95M83 70.5h0.95M83.5 70.5h0.95M84 70.5h0.95M84.5 70.5h0.95M85 70.5h0.95M85.5 70.5h0.95M86 70.5h0.95M86.5 70.5h0.95M87 70.5h0.95M87.5 70.5h0.95M88 70.5h0.95M88.5 70.5h0.95M89 70.5h0.95M89.5 70.5h0.95M90 70.5h0.95M90.5 70.5h0.95M91 70.5h0.95M91.5 70.5h0.95M92 70.5h0.95M92.5 70.5h0.95M93 70.5h0.95M93.5 70.5h0.95M94 70.5h0.95M94.5 70.5h0.95M95 70.5h0.95M95.5 70.5h0.95M96 70.5h0.95M96.5 70.5h0.95M97 70.5h0.95M97.5 70.5h0.95M98 70.5h0.95M98.5 70.5h0.95M99 70.5h0.95M99.5 70.5h0.95M100 70.5h0.95M100.5 70.5h0.95M101 70.5h0.95M101.5 70.5h0.95M102 70.5h0.95M102.5 70.5h0.95M103 70.5h0.95M103.5 70.5h0.95M104 70.5h0.95M104.5 70.5h0.95M105 70.5h0.95M106.5 70.5h0.95M107.5 70.5h0.95M80.5 71h0.95M81 71h0.95M81.5 71h0.95M82 71h0.95M82.5 71h0.95M83 71h0.95M83.5 71h0.95M84 71h0.95M85 71h0.95M85.5 71h0.95M86 71h0.95M86.5 71h0.95M87 71h0.95M87.5 71h0.95M88 71h0.95M88.5 71h0.95M89 71h0.95M89.5 71h0.95M90 71h0.95M90.5 71h0.95M91 71h0.95M91.5 71h0.95M92 71h0.95M92.5 71h0.95M93 71h0.95M93.5 71h0.95M94 71h0.95M94.5 71h0.95M95 71h0.95M95.5 71h0.95M96 71h0.95M96.5 71h0.95M97 71h0.95M97.5 71h0.95M98 71h0.95M98.5 71h0.95M99 71h0.95M99.5 71h0.95M100 71h0.95M100.5 71h0.95M101 71h0.95M101.5 71h0.95M102 71h0.95M102.5 71h0.95M103 71h0.95M103.5 71h0.95M104 71h0.95M104.5 71h0.95M105 71h0.95M105.5 71h0.95M106 71h0.95M107 71h0.95M108.5 71h0.95M76.5 71.5h0.95M80 71.5h0.95M81.5 71.5h0.95M82 71.5h0.95M82.5 71.5h0.95M83 71.5h0.95M83.5 71.5h0.95M84 71.5h0.95M84.5 71.5h0.95M85 71.5h0.95M85.5 71.5h0.95M86 71.5h0.95M86.5 71.5h0.95M87 71.5h0.95M87.5 71.5h0.95M88 71.5h0.95M88.5 71.5h0.95M89 71.5h0.95M89.5 71.5h0.95M90 71.5h0.95M90.5 71.5h0.95M91 71.5h0.95M91.5 71.5h0.95M92 71.5h0.95M92.5 71.5h0.95M93 71.5h0.95M93.5 71.5h0.95M94 71.5h0.95M94.5 71.5h0.95M95 71.5h0.95M95.5 71.5h0.95M96 71.5h0.95M96.5 71.5h0.95M97 71.5h0.95M97.5 71.5h0.95M98 71.5h0.95M98.5 71.5h0.95M99 71.5h0.95M99.5 71.5h0.95M100 71.5h0.95M100.5 71.5h0.95M101 71.5h0.95M101.5 71.5h0.95M102 71.5h0.95M102.5 71.5h0.95M103 71.5h0.95M104 71.5h0.95M104.5 71.5h0.95M105 71.5h0.95M106 71.5h0.95M80 72h0.95M80.5 72h0.95M81.5 72h0.95M82 72h0.95M83 72h0.95M83.5 72h0.95M84 72h0.95M84.5 72h0.95M85 72h0.95M85.5 72h0.95M86 72h0.95M86.5 72h0.95M87 72h0.95M87.5 72h0.95M88 72h0.95M88.5 72h0.95M89 72h0.95M89.5 72h0.95M90 72h0.95M90.5 72h0.95M91 72h0.95M91.5 72h0.95M92 72h0.95M92.5 72h0.95M93 72h0.95M93.5 72h0.95M94 72h0.95M94.5 72h0.95M95 72h0.95M95.5 72h0.95M96 72h0.95M96.5 72h0.95M97 72h0.95M97.5 72h0.95M98 72h0.95M98.5 72h0.95M99 72h0.95M99.5 72h0.95M100 72h0.95M100.5 72h0.95M101 72h0.95M101.5 72h0.95M102 72h0.95M102.5 72h0.95M103 72h0.95M103.5 72h0.95M104 72h0.95M104.5 72h0.95M106 72h0.95M106.5 72h0.95M78.5 72.5h0.95M79 72.5h0.95M80 72.5h0.95M81 72.5h0.95M81.5 72.5h0.95M82 72.5h0.95M82.5 72.5h0.95M83.5 72.5h0.95M84 72.5h0.95M84.5 72.5h0.95M85 72.5h0.95M85.5 72.5h0.95M86 72.5h0.95M86.5 72.5h0.95M87 72.5h0.95M87.5 72.5h0.95M88 72.5h0.95M88.5 72.5h0.95M89 72.5h0.95M89.5 72.5h0.95M90 72.5h0.95M90.5 72.5h0.95M91 72.5h0.95M91.5 72.5h0.95M92 72.5h0.95M92.5 72.5h0.95M93 72.5h0.95M93.5 72.5h0.95M94 72.5h0.95M94.5 72.5h0.95M95 72.5h0.95M95.5 72.5h0.95M96 72.5h0.95M96.5 72.5h0.95M97 72.5h0.95M97.5 72.5h0.95M98 72.5h0.95M98.5 72.5h0.95M99 72.5h0.95M99.5 72.5h0.95M100 72.5h0.95M100.5 72.5h0.95M101 72.5h0.95M101.5 72.5h0.95M102 72.5h0.95M102.5 72.5h0.95M103 72.5h0.95M103.5 72.5h0.95M104 72.5h0.95M104.5 72.5h0.95M105 72.5h0.95M105.5 72.5h0.95M109.5 72.5h0.95M78.5 73h0.95M79 73h0.95M81 73h0.95M82 73h0.95M83.5 73h0.95M85 73h0.95M85.5 73h0.95M86 73h0.95M86.5 73h0.95M87 73h0.95M87.5 73h0.95M88 73h0.95M88.5 73h0.95M89 73h0.95M89.5 73h0.95M90 73h0.95M90.5 73h0.95M91 73h0.95M91.5 73h0.95M92 73h0.95M92.5 73h0.95M93 73h0.95M93.5 73h0.95M94 73h0.95M94.5 73h0.95M95 73h0.95M95.5 73h0.95M96 73h0.95M96.5 73h0.95M97 73h0.95M97.5 73h0.95M98 73h0.95M98.5 73h0.95M99 73h0.95M99.5 73h0.95M100 73h0.95M100.5 73h0.95M101 73h0.95M101.5 73h0.95M102 73h0.95M102.5 73h0.95M103 73h0.95M103.5 73h0.95M104 73h0.95M105 73h0.95M105.5 73h0.95M106 73h0.95M108 73h0.95M110 73h0.95M79.5 73.5h0.95M80 73.5h0.95M80.5 73.5h0.95M81.5 73.5h0.95M82 73.5h0.95M82.5 73.5h0.95M83 73.5h0.95M83.5 73.5h0.95M84 73.5h0.95M84.5 73.5h0.95M85 73.5h0.95M85.5 73.5h0.95M86 73.5h0.95M86.5 73.5h0.95M87 73.5h0.95M88 73.5h0.95M88.5 73.5h0.95M89 73.5h0.95M89.5 73.5h0.95M90 73.5h0.95M90.5 73.5h0.95M91 73.5h0.95M91.5 73.5h0.95M92 73.5h0.95M92.5 73.5h0.95M93 73.5h0.95M93.5 73.5h0.95M94 73.5h0.95M94.5 73.5h0.95M95 73.5h0.95M95.5 73.5h0.95M96 73.5h0.95M96.5 73.5h0.95M97 73.5h0.95M97.5 73.5h0.95M98 73.5h0.95M98.5 73.5h0.95M99 73.5h0.95M99.5 73.5h0.95M100 73.5h0.95M100.5 73.5h0.95M101 73.5h0.95M101.5 73.5h0.95M102 73.5h0.95M102.5 73.5h0.95M103 73.5h0.95M103.5 73.5h0.95M104 73.5h0.95M104.5 73.5h0.95M107 73.5h0.95M108 73.5h0.95M81.5 74h0.95M82 74h0.95M83 74h0.95M83.5 74h0.95M84 74h0.95M84.5 74h0.95M85 74h0.95M85.5 74h0.95M86 74h0.95M86.5 74h0.95M87 74h0.95M87.5 74h0.95M88 74h0.95M88.5 74h0.95M89 74h0.95M89.5 74h0.95M90 74h0.95M90.5 74h0.95M91 74h0.95M91.5 74h0.95M92 74h0.95M92.5 74h0.95M93 74h0.95M93.5 74h0.95M94 74h0.95M94.5 74h0.95M95 74h0.95M95.5 74h0.95M96 74h0.95M96.5 74h0.95M97 74h0.95M97.5 74h0.95M98 74h0.95M98.5 74h0.95M99 74h0.95M99.5 74h0.95M100 74h0.95M100.5 74h0.95M101 74h0.95M101.5 74h0.95M102 74h0.95M102.5 74h0.95M103 74h0.95M103.5 74h0.95M104 74h0.95M106 74h0.95M84 74.5h0.95M85 74.5h0.95M85.5 74.5h0.95M86 74.5h0.95M86.5 74.5h0.95M87 74.5h0.95M87.5 74.5h0.95M88 74.5h0.95M88.5 74.5h0.95M89 74.5h0.95M89.5 74.5h0.95M90 74.5h0.95M90.5 74.5h0.95M91 74.5h0.95M91.5 74.5h0.95M92 74.5h0.95M92.5 74.5h0.95M93 74.5h0.95M93.5 74.5h0.95M94 74.5h0.95M94.5 74.5h0.95M95 74.5h0.95M95.5 74.5h0.95M96 74.5h0.95M96.5 74.5h0.95M97 74.5h0.95M97.5 74.5h0.95M98 74.5h0.95M98.5 74.5h0.95M99 74.5h0.95M99.5 74.5h0.95M100 74.5h0.95M100.5 74.5h0.95M101 74.5h0.95M101.5 74.5h0.95M102 74.5h0.95M102.5 74.5h0.95M103 74.5h0.95M104 74.5h0.95M81.5 75h0.95M84 75h0.95M85 75h0.95M86.5 75h0.95M87 75h0.95M87.5 75h0.95M88.5 75h0.95M89 75h0.95M89.5 75h0.95M90 75h0.95M90.5 75h0.95M91 75h0.95M91.5 75h0.95M92 75h0.95M92.5 75h0.95M93 75h0.95M93.5 75h0.95M94 75h0.95M94.5 75h0.95M95 75h0.95M95.5 75h0.95M96 75h0.95M96.5 75h0.95M97 75h0.95M97.5 75h0.95M98 75h0.95M98.5 75h0.95M99 75h0.95M99.5 75h0.95M100 75h0.95M100.5 75h0.95M101 75h0.95M101.5 75h0.95M102 75h0.95M102.5 75h0.95M103 75h0.95M103.5 75h0.95M104.5 75h0.95M106 75h0.95M81.5 75.5h0.95M86.5 75.5h0.95M87 75.5h0.95M87.5 75.5h0.95M88 75.5h0.95M88.5 75.5h0.95M89 75.5h0.95M89.5 75.5h0.95M90 75.5h0.95M90.5 75.5h0.95M91 75.5h0.95M91.5 75.5h0.95M92 75.5h0.95M92.5 75.5h0.95M93 75.5h0.95M93.5 75.5h0.95M94 75.5h0.95M94.5 75.5h0.95M95 75.5h0.95M95.5 75.5h0.95M96 75.5h0.95M96.5 75.5h0.95M97 75.5h0.95M97.5 75.5h0.95M98 75.5h0.95M98.5 75.5h0.95M99 75.5h0.95M99.5 75.5h0.95M100 75.5h0.95M100.5 75.5h0.95M101 75.5h0.95M101.5 75.5h0.95M102 75.5h0.95M102.5 75.5h0.95M103.5 75.5h0.95M104 75.5h0.95M105.5 75.5h0.95M106 75.5h0.95M86 76h0.95M87 76h0.95M88 76h0.95M88.5 76h0.95M89 76h0.95M89.5 76h0.95M90 76h0.95M90.5 76h0.95M91 76h0.95M91.5 76h0.95M92 76h0.95M92.5 76h0.95M93 76h0.95M93.5 76h0.95M94 76h0.95M94.5 76h0.95M95 76h0.95M95.5 76h0.95M96 76h0.95M96.5 76h0.95M97 76h0.95M97.5 76h0.95M98 76h0.95M98.5 76h0.95M99 76h0.95M99.5 76h0.95M100 76h0.95M100.5 76h0.95M101 76h0.95M101.5 76h0.95M102 76h0.95M102.5 76h0.95M83.5 76.5h0.95M84 76.5h0.95M84.5 76.5h0.95M86 76.5h0.95M87 76.5h0.95M88 76.5h0.95M88.5 76.5h0.95M89 76.5h0.95M89.5 76.5h0.95M90 76.5h0.95M90.5 76.5h0.95M91 76.5h0.95M91.5 76.5h0.95M92 76.5h0.95M92.5 76.5h0.95M93 76.5h0.95M93.5 76.5h0.95M94 76.5h0.95M94.5 76.5h0.95M95 76.5h0.95M95.5 76.5h0.95M96 76.5h0.95M96.5 76.5h0.95M97 76.5h0.95M97.5 76.5h0.95M98 76.5h0.95M98.5 76.5h0.95M99 76.5h0.95M99.5 76.5h0.95M100 76.5h0.95M100.5 76.5h0.95M101 76.5h0.95M101.5 76.5h0.95M102.5 76.5h0.95M103 76.5h0.95M103.5 76.5h0.95M104 76.5h0.95M105 76.5h0.95M109 76.5h0.95M83 77h0.95M84 77h0.95M84.5 77h0.95M85 77h0.95M85.5 77h0.95M86 77h0.95M86.5 77h0.95M87 77h0.95M87.5 77h0.95M88.5 77h0.95M89 77h0.95M89.5 77h0.95M90 77h0.95M90.5 77h0.95M91 77h0.95M91.5 77h0.95M92 77h0.95M92.5 77h0.95M93 77h0.95M93.5 77h0.95M94 77h0.95M94.5 77h0.95M95 77h0.95M95.5 77h0.95M96 77h0.95M96.5 77h0.95M97 77h0.95M97.5 77h0.95M98 77h0.95M98.5 77h0.95M99 77h0.95M99.5 77h0.95M100 77h0.95M100.5 77h0.95M101.5 77h0.95M102 77h0.95M102.5 77h0.95M103 77h0.95M84.5 77.5h0.95M85.5 77.5h0.95M88 77.5h0.95M89 77.5h0.95M89.5 77.5h0.95M90 77.5h0.95M90.5 77.5h0.95M91 77.5h0.95M92 77.5h0.95M92.5 77.5h0.95M93 77.5h0.95M93.5 77.5h0.95M94 77.5h0.95M94.5 77.5h0.95M95 77.5h0.95M95.5 77.5h0.95M96 77.5h0.95M96.5 77.5h0.95M97 77.5h0.95M97.5 77.5h0.95M98 77.5h0.95M98.5 77.5h0.95M99 77.5h0.95M99.5 77.5h0.95M100 77.5h0.95M101 77.5h0.95M101.5 77.5h0.95M102 77.5h0.95M102.5 77.5h0.95M103 77.5h0.95M103.5 77.5h0.95M87 78h0.95M87.5 78h0.95M88.5 78h0.95M89.5 78h0.95M90.5 78h0.95M91 78h0.95M91.5 78h0.95M92 78h0.95M92.5 78h0.95M93 78h0.95M93.5 78h0.95M94 78h0.95M94.5 78h0.95M95 78h0.95M95.5 78h0.95M96 78h0.95M97 78h0.95M97.5 78h0.95M98 78h0.95M98.5 78h0.95M99 78h0.95M99.5 78h0.95M100.5 78h0.95M101 78h0.95M102 78h0.95M104 78h0.95M108 78h0.95M84.5 78.5h0.95M87 78.5h0.95M88.5 78.5h0.95M89.5 78.5h0.95M90 78.5h0.95M90.5 78.5h0.95M91 78.5h0.95M91.5 78.5h0.95M92 78.5h0.95M92.5 78.5h0.95M93 78.5h0.95M93.5 78.5h0.95M94 78.5h0.95M94.5 78.5h0.95M95 78.5h0.95M95.5 78.5h0.95M96 78.5h0.95M96.5 78.5h0.95M97 78.5h0.95M97.5 78.5h0.95M98 78.5h0.95M98.5 78.5h0.95M99 78.5h0.95M99.5 78.5h0.95M100 78.5h0.95M100.5 78.5h0.95M101 78.5h0.95M102.5 78.5h0.95M103.5 78.5h0.95M106.5 78.5h0.95M87.5 79h0.95M88 79h0.95M88.5 79h0.95M89 79h0.95M90 79h0.95M90.5 79h0.95M91 79h0.95M91.5 79h0.95M92 79h0.95M92.5 79h0.95M93 79h0.95M94 79h0.95M94.5 79h0.95M95 79h0.95M95.5 79h0.95M96 79h0.95M96.5 79h0.95M97 79h0.95M97.5 79h0.95M98 79h0.95M98.5 79h0.95M99 79h0.95M99.5 79h0.95M100 79h0.95M100.5 79h0.95M101.5 79h0.95M102 79h0.95M102.5 79h0.95M104 79h0.95M105.5 79h0.95M84.5 79.5h0.95M86 79.5h0.95M88.5 79.5h0.95M89 79.5h0.95M89.5 79.5h0.95M90 79.5h0.95M90.5 79.5h0.95M91 79.5h0.95M91.5 79.5h0.95M92 79.5h0.95M92.5 79.5h0.95M93 79.5h0.95M93.5 79.5h0.95M94 79.5h0.95M94.5 79.5h0.95M95 79.5h0.95M95.5 79.5h0.95M96 79.5h0.95M96.5 79.5h0.95M97 79.5h0.95M97.5 79.5h0.95M98 79.5h0.95M98.5 79.5h0.95M99 79.5h0.95M99.5 79.5h0.95M100 79.5h0.95M100.5 79.5h0.95M101 79.5h0.95M102 79.5h0.95M105.5 79.5h0.95M85 80h0.95M86.5 80h0.95M87 80h0.95M87.5 80h0.95M89.5 80h0.95M90 80h0.95M90.5 80h0.95M91 80h0.95M91.5 80h0.95M93 80h0.95M93.5 80h0.95M94 80h0.95M94.5 80h0.95M95 80h0.95M95.5 80h0.95M96 80h0.95M96.5 80h0.95M97 80h0.95M97.5 80h0.95M98 80h0.95M98.5 80h0.95M99 80h0.95M99.5 80h0.95M100.5 80h0.95M101.5 80h0.95M102 80h0.95M89 80.5h0.95M89.5 80.5h0.95M90 80.5h0.95M91 80.5h0.95M91.5 80.5h0.95M93 80.5h0.95M93.5 80.5h0.95M94 80.5h0.95M94.5 80.5h0.95M95 80.5h0.95M95.5 80.5h0.95M96 80.5h0.95M96.5 80.5h0.95M97 80.5h0.95M97.5 80.5h0.95M98.5 80.5h0.95M99 80.5h0.95M99.5 80.5h0.95M100 80.5h0.95M100.5 80.5h0.95M101 80.5h0.95M101.5 80.5h0.95M102 80.5h0.95M103 80.5h0.95M89 81h0.95M90 81h0.95M91 81h0.95M91.5 81h0.95M92 81h0.95M93 81h0.95M94 81h0.95M94.5 81h0.95M95 81h0.95M95.5 81h0.95M96.5 81h0.95M98 81h0.95M98.5 81h0.95M99 81h0.95M99.5 81h0.95M100 81h0.95M102 81h0.95M83 81.5h0.95M87 81.5h0.95M91 81.5h0.95M92 81.5h0.95M92.5 81.5h0.95M93 81.5h0.95M93.5 81.5h0.95M95.5 81.5h0.95M96 81.5h0.95M96.5 81.5h0.95M97 81.5h0.95M97.5 81.5h0.95M98 81.5h0.95M98.5 81.5h0.95M99 81.5h0.95M99.5 81.5h0.95M101 81.5h0.95M102 81.5h0.95M102.5 81.5h0.95M103 81.5h0.95M104 81.5h0.95M104.5 81.5h0.95M88 82h0.95M89.5 82h0.95M91.5 82h0.95M92 82h0.95M93 82h0.95M93.5 82h0.95M94.5 82h0.95M95.5 82h0.95M96 82h0.95M97 82h0.95M97.5 82h0.95M98 82h0.95M98.5 82h0.95M99.5 82h0.95M100.5 82h0.95M101 82h0.95M102 82h0.95M103.5 82h0.95M105.5 82h0.95M91.5 82.5h0.95M92.5 82.5h0.95M94.5 82.5h0.95M95 82.5h0.95M96 82.5h0.95M96.5 82.5h0.95M98.5 82.5h0.95M99.5 82.5h0.95M101 82.5h0.95M102 82.5h0.95M91.5 83h0.95M94.5 83h0.95M96.5 83h0.95M97 83h0.95M97.5 83h0.95M98 83h0.95M98.5 83h0.95M99 83h0.95M101 83h0.95M94 83.5h0.95M95 83.5h0.95M96 83.5h0.95M97 83.5h0.95M97.5 83.5h0.95M99 83.5h0.95M100 83.5h0.95M100.5 83.5h0.95M105 83.5h0.95M92 84h0.95M93 84h0.95M93.5 84h0.95M95 84h0.95M95.5 84h0.95M96 84h0.95M97 84h0.95M97.5 84h0.95M98 84h0.95M99.5 84h0.95M100 84h0.95M100.5 84h0.95M103.5 84h0.95M94.5 84.5h0.95M96.5 84.5h0.95M97 84.5h0.95M97.5 84.5h0.95M98 84.5h0.95M100 84.5h0.95M100.5 84.5h0.95M96 85h0.95M96.5 85h0.95M97.5 85h0.95M99 85h0.95M99.5 85h0.95M100 85h0.95M100.5 85h0.95M102.5 85h0.95M91.5 85.5h0.95M96 85.5h0.95M96.5 85.5h0.95M99 85.5h0.95M100.5 85.5h0.95M101 85.5h0.95M101.5 85.5h0.95M90.5 86h0.95M94.5 86h0.95M95 86h0.95M96 86h0.95M97 86h0.95M98.5 86h0.95M100 86h0.95M100.5 86h0.95M102.5 86h0.95M104 86h0.95M91 86.5h0.95M94.5 86.5h0.95M96.5 86.5h0.95M98.5 86.5h0.95M99 86.5h0.95M100 86.5h0.95M104 86.5h0.95M97 87h0.95M98 87h0.95M99 87h0.95M100.5 87h0.95M101 87h0.95M93.5 87.5h0.95M99.5 87.5h0.95M101 87.5h0.95M102 87.5h0.95M102.5 87.5h0.95M103 87.5h0.95M97.5 88h0.95M98 88h0.95M98.5 88h0.95M100 88h0.95M100.5 88h0.95M101 88h0.95M95 88.5h0.95M96.5 88.5h0.95M97 88.5h0.95M99 88.5h0.95M101.5 88.5h0.95M97 89h0.95M99.5 89h0.95M101 89h0.95M101.5 89h0.95M102.5 89h0.95M106 89h0.95M94 89.5h0.95M95.5 89.5h0.95M98 89.5h0.95M99.5 89.5h0.95M100 89.5h0.95M100.5 89.5h0.95M101 89.5h0.95M96.5 90h0.95M97 90h0.95M101 90h0.95M101.5 90h0.95M102 90h0.95M96.5 90.5h0.95M99.5 90.5h0.95M100.5 90.5h0.95M102 90.5h0.95M102.5 90.5h0.95M103 90.5h0.95M103.5 90.5h0.95M96 91h0.95M99 91h0.95M100 91h0.95M101 91h0.95M102 91h0.95M106.5 91h0.95M107 91h0.95M96 91.5h0.95M98 91.5h0.95M99.5 91.5h0.95M100.5 91.5h0.95M101.5 91.5h0.95M102 91.5h0.95M105.5 91.5h0.95M97 92h0.95M98.5 92h0.95M101 92h0.95M102 92h0.95M98.5 92.5h0.95M99 92.5h0.95M100 92.5h0.95M101 92.5h0.95M94.5 93h0.95M99.5 93h0.95M102.5 93h0.95M105.5 93h0.95M99 93.5h0.95M101 93.5h0.95M103 93.5h0.95M97 94h0.95M102 94h0.95M104 94h0.95M99 94.5h0.95M100.5 94.5h0.95M101 94.5h0.95M102 94.5h0.95M103 94.5h0.95M104 94.5h0.95M97.5 95h0.95M98.5 95h0.95M99.5 95h0.95M101.5 95h0.95M102 95h0.95M98 95.5h0.95M98.5 95.5h0.95M100 95.5h0.95M100.5 95.5h0.95M101 95.5h0.95M99 96h0.95M97 96.5h0.95M97.5 96.5h0.95M98.5 96.5h0.95M100 96.5h0.95M101.5 96.5h0.95M100 97h0.95M103 97h0.95M104 97h0.95M100.5 97.5h0.95M101 97.5h0.95M101.5 97.5h0.95M108.5 97.5h0.95M97.5 98h0.95M102 98h0.95M100.5 99h0.95M102 99h0.95M103.5 99.5h0.95M104 99.5h0.95M104.5 99.5h0.95M105.5 99.5h0.95M99.5 100h0.95M100.5 100h0.95M101 100h0.95M101.5 100h0.95M102.5 100h0.95M106 100h0.95M106.5 100h0.95M101.5 100.5h0.95M104 100.5h0.95M98.5 101h0.95M102.5 101h0.95M103.5 101h0.95M101 101.5h0.95M103.5 101.5h0.95M100.5 102h0.95M101.5 102h0.95M104.5 102h0.95M105.5 102h0.95M101.5 103h0.95M103.5 103h0.95M104 103h0.95M105.5 103h0.95M103.5 103.5h0.95M104.5 103.5h0.95M104.5 104h0.95M105 104h0.95M104.5 104.5h0.95M100.5 105h0.95M103 105h0.95M101 105.5h0.95M103 105.5h0.95M104 105.5h0.95M99.5 106.5h0.95M102.5 106.5h0.95M103.5 107h0.95M108.5 107h0.95" stroke="#000" stroke-width="0.95" fill="none"/>
<polygon points="95.2,57.7 99.6,51.4 117.6,49.3 118.6,68 106.9,74.2" fill="none" stroke="#444" stroke-width="0.9"/>
<line x1="59.5" y1="41.5" x2="127" y2="41.5" stroke="#333" stroke-width="1"/>
<line x1="127" y1="41.5" x2="127" y2="109.5" stroke="#8a8a8a" stroke-width="1"/>
<line x1="59.5" y1="41" x2="59.5" y2="110" stroke="#222" stroke-width="1"/>
<line x1="59" y1="109.5" x2="127.5" y2="109.5" stroke="#222" stroke-width="1"/>
<path d="M59.5 109.5v2.2M59.5 109.5h-2.2M64.58 109.5v1.3M59.5 104.38h-1.3M67.55 109.5v1.3M59.5 101.39h-1.3M69.66 109.5v1.3M59.5 99.26h-1.3M71.3 109.5v1.3M59.5 97.62h-1.3M72.63 109.5v1.3M59.5 96.27h-1.3M73.76 109.5v1.3M59.5 95.13h-1.3M74.74 109.5v1.3M59.5 94.15h-1.3M75.6 109.5v1.3M59.5 93.28h-1.3M76.38 109.5v2.2M59.5 92.5h-2.2M81.45 109.5v1.3M59.5 87.38h-1.3M84.43 109.5v1.3M59.5 84.39h-1.3M86.53 109.5v1.3M59.5 82.26h-1.3M88.17 109.5v1.3M59.5 80.62h-1.3M89.51 109.5v1.3M59.5 79.27h-1.3M90.64 109.5v1.3M59.5 78.13h-1.3M91.61 109.5v1.3M59.5 77.15h-1.3M92.48 109.5v1.3M59.5 76.28h-1.3M93.25 109.5v2.2M59.5 75.5h-2.2M98.33 109.5v1.3M59.5 70.38h-1.3M101.3 109.5v1.3M59.5 67.39h-1.3M103.41 109.5v1.3M59.5 65.26h-1.3M105.05 109.5v1.3M59.5 63.62h-1.3M106.38 109.5v1.3M59.5 62.27h-1.3M107.51 109.5v1.3M59.5 61.13h-1.3M108.49 109.5v1.3M59.5 60.15h-1.3M109.35 109.5v1.3M59.5 59.28h-1.3M110.12 109.5v2.2M59.5 58.5h-2.2M115.2 109.5v1.3M59.5 53.38h-1.3M118.18 109.5v1.3M59.5 50.39h-1.3M120.28 109.5v1.3M59.5 48.26h-1.3M121.92 109.5v1.3M59.5 46.62h-1.3M123.26 109.5v1.3M59.5 45.27h-1.3M124.39 109.5v1.3M59.5 44.13h-1.3M125.36 109.5v1.3M59.5 43.15h-1.3M126.23 109.5v1.3M59.5 42.28h-1.3M127 109.5v2.2M59.5 41.5h-2.2" stroke="#222" stroke-width="0.7" fill="none"/>
<text x="55.65" y="117.07" font-size="4.7" fill="#111">10<tspan dy="-2.12" font-size="3.95">0</tspan></text>
<text x="55.4" y="113.73" font-size="4.7" fill="#111" transform="rotate(-90 55.4 113.73)">10<tspan dy="-2.12" font-size="3.95">0</tspan></text>
<text x="72.52" y="117.07" font-size="4.7" fill="#111">10<tspan dy="-2.12" font-size="3.95">1</tspan></text>
<text x="55.4" y="96.73" font-size="4.7" fill="#111" transform="rotate(-90 55.4 96.73)">10<tspan dy="-2.12" font-size="3.95">1</tspan></text>
<text x="89.4" y="117.07" font-size="4.7" fill="#111">10<tspan dy="-2.12" font-size="3.95">2</tspan></text>
<text x="55.4" y="79.73" font-size="4.7" fill="#111" transform="rotate(-90 55.4 79.73)">10<tspan dy="-2.12" font-size="3.95">2</tspan></text>
<text x="106.27" y="117.07" font-size="4.7" fill="#111">10<tspan dy="-2.12" font-size="3.95">3</tspan></text>
<text x="55.4" y="62.73" font-size="4.7" fill="#111" transform="rotate(-90 55.4 62.73)">10<tspan dy="-2.12" font-size="3.95">3</tspan></text>
<text x="123.15" y="117.07" font-size="4.7" fill="#111">10<tspan dy="-2.12" font-size="3.95">4</tspan></text>
<text x="55.4" y="45.73" font-size="4.7" fill="#111" transform="rotate(-90 55.4 45.73)">10<tspan dy="-2.12" font-size="3.95">4</tspan></text>
<text x="64.4" y="38.6" font-size="17.2" font-weight="bold">A</text>
<text x="44.4" y="75.5" font-size="14" text-anchor="middle" transform="rotate(-90 44.4 75.5)">CD4</text>
<text x="92.4" y="131.6" font-size="14" text-anchor="middle">CD8</text>
<path d="M210.5 51.5h0.72M186 54h0.72M186 55h0.72M199.5 55.5h0.72M203.5 55.5h0.72M183 56.5h0.72M172.5 57.5h0.72M179 58h0.72M193.5 58h0.72M205.5 58h0.72M209 58h0.72M204 58.5h0.72M171 59h0.72M180.5 59h0.72M167 59.5h0.72M170 59.5h0.72M173 59.5h0.72M174.5 59.5h0.72M176.5 59.5h0.72M167 60h0.72M169 60h0.72M172 60h0.72M174 60h0.72M178 60h0.72M178.5 60h0.72M193 60h0.72M175 60.5h0.72M176.5 60.5h0.72M177.5 60.5h0.72M194.5 60.5h0.72M195 60.5h0.72M167 61h0.72M184.5 61h0.72M185.5 61h0.72M188 61h0.72M189 61h0.72M170 61.5h0.72M172.5 61.5h0.72M184.5 61.5h0.72M168.5 62h0.72M171 62h0.72M189 62h0.72M205.5 62h0.72M167 62.5h0.72M169 62.5h0.72M188.5 62.5h0.72M196.5 62.5h0.72M200.5 62.5h0.72M201 62.5h0.72M167 63h0.72M167.5 63h0.72M170.5 63h0.72M191 63h0.72M198.5 63h0.72M203 63h0.72M199.5 63.5h0.72M202.5 63.5h0.72M208.5 64h0.72M189.5 64.5h0.72M192.5 64.5h0.72M196.5 64.5h0.72M167 65h0.72M202.5 65h0.72M198 66h0.72M203.5 66h0.72M208.5 66h0.72M185 66.5h0.72M194 66.5h0.72M202.5 66.5h0.72M204.5 66.5h0.72M168 67h0.72M174 67h0.72M183.5 67h0.72M189 67h0.72M189.5 67h0.72M168 67.5h0.72M169.5 67.5h0.72M175 67.5h0.72M184 67.5h0.72M199.5 67.5h0.72M168.5 68h0.72M169.5 68h0.72M170.5 68h0.72M172.5 68h0.72M173.5 68h0.72M174 68h0.72M187.5 68h0.72M190.5 68h0.72M167 68.5h0.72M170 68.5h0.72M179 68.5h0.72M184 68.5h0.72M189 68.5h0.72M200.5 68.5h0.72M218.5 68.5h0.72M167 69h0.72M172 69h0.72M178.5 69h0.72M181 69h0.72M182.5 69h0.72M198.5 69h0.72M200.5 69h0.72M204.5 69h0.72M167 69.5h0.72M167.5 69.5h0.72M172.5 69.5h0.72M180 69.5h0.72M180.5 69.5h0.72M183 69.5h0.72M196.5 69.5h0.72M198.5 69.5h0.72M178.5 70h0.72M202 70h0.72M207.5 70h0.72M167 70.5h0.72M171.5 70.5h0.72M174 70.5h0.72M174.5 70.5h0.72M175 70.5h0.72M184.5 70.5h0.72M192.5 70.5h0.72M204 70.5h0.72M205.5 70.5h0.72M207.5 70.5h0.72M208 70.5h0.72M175 71h0.72M175.5 71h0.72M177 71h0.72M181 71h0.72M185 71h0.72M189.5 71h0.72M200 71h0.72M202.5 71h0.72M169.5 71.5h0.72M172.5 71.5h0.72M176.5 71.5h0.72M177 71.5h0.72M180 71.5h0.72M184.5 71.5h0.72M186.5 71.5h0.72M175.5 72h0.72M183.5 72h0.72M186.5 72h0.72M172 72.5h0.72M182 73h0.72M192.5 73h0.72M171.5 73.5h0.72M178.5 73.5h0.72M181.5 73.5h0.72M202.5 73.5h0.72M211 73.5h0.72M168 74h0.72M170 74h0.72M181 74h0.72M188 74h0.72M171.5 74.5h0.72M177.5 74.5h0.72M178 74.5h0.72M184 74.5h0.72M192.5 74.5h0.72M209 74.5h0.72M168 75h0.72M178.5 75h0.72M179.5 75h0.72M180 75h0.72M184 75h0.72M188.5 75h0.72M170 75.5h0.72M170.5 75.5h0.72M174 75.5h0.72M178 75.5h0.72M189.5 75.5h0.72M194.5 75.5h0.72M195.5 75.5h0.72M174.5 76h0.72M175 76h0.72M190 76h0.72M198.5 76h0.72M201 76h0.72M210.5 76h0.72M174 76.5h0.72M175 76.5h0.72M176 76.5h0.72M177 76.5h0.72M180 76.5h0.72M193 76.5h0.72M210.5 76.5h0.72M211.5 76.5h0.72M174 77h0.72M175 77h0.72M183.5 77h0.72M191 77h0.72M168 77.5h0.72M180.5 77.5h0.72M183 77.5h0.72M192.5 77.5h0.72M207.5 77.5h0.72M175.5 78h0.72M177 78h0.72M182.5 78h0.72M204 78h0.72M175 78.5h0.72M181 78.5h0.72M184 78.5h0.72M191.5 78.5h0.72M202.5 78.5h0.72M207 78.5h0.72M176 79h0.72M180.5 79h0.72M181.5 79h0.72M182.5 79h0.72M183.5 79h0.72M190.5 79h0.72M197.5 79h0.72M199.5 79h0.72M212.5 79h0.72M170.5 79.5h0.72M178.5 79.5h0.72M181.5 79.5h0.72M182.5 79.5h0.72M183.5 79.5h0.72M195.5 79.5h0.72M196.5 79.5h0.72M197 79.5h0.72M198.5 79.5h0.72M201.5 79.5h0.72M170.5 80h0.72M181.5 80h0.72M182 80h0.72M189.5 80h0.72M204.5 80h0.72M205.5 80h0.72M173 80.5h0.72M181 80.5h0.72M184.5 80.5h0.72M195.5 80.5h0.72M185 81h0.72M192 81h0.72M207 81h0.72M180.5 81.5h0.72M185.5 81.5h0.72M176.5 82h0.72M180 82h0.72M181 82h0.72M182.5 82h0.72M183.5 82h0.72M186.5 82h0.72M188 82h0.72M173.5 82.5h0.72M177 82.5h0.72M180 82.5h0.72M185.5 82.5h0.72M193 82.5h0.72M169.5 83h0.72M174 83h0.72M176 83h0.72M177 83h0.72M177.5 83h0.72M178.5 83h0.72M179.5 83h0.72M180 83h0.72M180.5 83h0.72M184.5 83h0.72M186 83h0.72M176.5 83.5h0.72M180 83.5h0.72M181.5 83.5h0.72M186 83.5h0.72M192 83.5h0.72M206.5 83.5h0.72M185.5 84h0.72M190.5 84h0.72M193 84h0.72M194 84h0.72M201 84h0.72M173 84.5h0.72M174 84.5h0.72M175.5 84.5h0.72M178 84.5h0.72M181 84.5h0.72M182.5 84.5h0.72M185 84.5h0.72M186 84.5h0.72M170 85h0.72M172.5 85h0.72M175.5 85h0.72M177 85h0.72M182.5 85h0.72M183.5 85h0.72M191.5 85h0.72M202 85h0.72M209.5 85h0.72M210 85h0.72M172.5 85.5h0.72M174 85.5h0.72M176.5 85.5h0.72M179.5 85.5h0.72M182.5 85.5h0.72M183.5 85.5h0.72M185 85.5h0.72M188 85.5h0.72M192.5 85.5h0.72M203 85.5h0.72M171 86h0.72M173 86h0.72M174 86h0.72M176 86h0.72M179.5 86h0.72M184.5 86h0.72M186.5 86h0.72M190 86h0.72M170 86.5h0.72M173.5 86.5h0.72M175 86.5h0.72M175.5 86.5h0.72M177 86.5h0.72M177.5 86.5h0.72M180 86.5h0.72M184 86.5h0.72M185.5 86.5h0.72M186.5 86.5h0.72M203.5 86.5h0.72M210.5 86.5h0.72M179.5 87h0.72M180 87h0.72M182 87h0.72M184.5 87h0.72M188.5 87h0.72M191.5 87h0.72M174.5 87.5h0.72M176.5 87.5h0.72M199.5 87.5h0.72M172.5 88h0.72M173.5 88h0.72M178 88h0.72M182 88h0.72M184.5 88h0.72M190 88h0.72M191 88h0.72M202.5 88h0.72M173.5 88.5h0.72M174.5 88.5h0.72M177.5 88.5h0.72M180 88.5h0.72M185.5 88.5h0.72M187 88.5h0.72M188.5 88.5h0.72M199 88.5h0.72M213.5 88.5h0.72M177.5 89h0.72M178 89h0.72M179.5 89h0.72M180 89h0.72M181 89h0.72M182 89h0.72M182.5 89h0.72M200 89h0.72M210.5 89h0.72M176.5 89.5h0.72M178.5 89.5h0.72M179 89.5h0.72M181.5 89.5h0.72M202 89.5h0.72M167 90h0.72M174 90h0.72M184 90h0.72M205.5 90h0.72M174.5 90.5h0.72M176.5 90.5h0.72M178 90.5h0.72M185.5 90.5h0.72M186 90.5h0.72M191.5 90.5h0.72M169.5 91h0.72M175 91h0.72M179.5 91h0.72M180.5 91h0.72M181.5 91h0.72M183 91h0.72M184 91h0.72M184.5 91h0.72M204.5 91h0.72M167 91.5h0.72M171 91.5h0.72M175 91.5h0.72M179 91.5h0.72M182 91.5h0.72M186.5 91.5h0.72M197.5 91.5h0.72M198 91.5h0.72M210.5 91.5h0.72M169 92h0.72M175 92h0.72M177.5 92h0.72M178 92h0.72M180.5 92h0.72M197.5 92h0.72M173.5 92.5h0.72M177.5 92.5h0.72M179.5 92.5h0.72M183.5 92.5h0.72M185 92.5h0.72M204 92.5h0.72M204.5 92.5h0.72M167 93h0.72M175.5 93h0.72M178.5 93h0.72M180.5 93h0.72M183 93h0.72M185.5 93h0.72M198 93h0.72M204.5 93h0.72M171 93.5h0.72M172 93.5h0.72M173 93.5h0.72M178.5 93.5h0.72M181.5 93.5h0.72M182.5 93.5h0.72M183 93.5h0.72M184.5 93.5h0.72M187 93.5h0.72M189.5 93.5h0.72M204 93.5h0.72M204.5 93.5h0.72M214 93.5h0.72M170.5 94h0.72M174.5 94h0.72M179 94h0.72M180.5 94h0.72M182 94h0.72M200.5 94h0.72M174 94.5h0.72M175 94.5h0.72M176.5 94.5h0.72M177 94.5h0.72M181 94.5h0.72M182 94.5h0.72M185.5 94.5h0.72M176.5 95h0.72M181 95h0.72M187 95h0.72M196.5 95h0.72M201.5 95h0.72M204 95h0.72M172 95.5h0.72M180.5 95.5h0.72M182 95.5h0.72M204 95.5h0.72M184.5 96h0.72M185 96h0.72M200.5 96h0.72M201 96h0.72M176.5 96.5h0.72M177.5 96.5h0.72M178 96.5h0.72M183 96.5h0.72M167 97h0.72M169 97h0.72M175 97h0.72M182 97h0.72M184 97h0.72M187 97h0.72M210 97h0.72M176 97.5h0.72M177 97.5h0.72M178.5 97.5h0.72M174 98h0.72M175 98h0.72M177.5 98h0.72M185 98h0.72M191 98h0.72M204 98h0.72M176 98.5h0.72M180.5 98.5h0.72M190 98.5h0.72M197 98.5h0.72M199.5 98.5h0.72M209 98.5h0.72M210.5 98.5h0.72M170 99h0.72M175.5 99h0.72M180.5 99h0.72M181 99h0.72M183.5 99h0.72M185 99h0.72M195.5 99h0.72M200 99h0.72M209.5 99h0.72M184.5 99.5h0.72M201.5 99.5h0.72M167 100h0.72M176 100h0.72M182.5 100h0.72M183 100h0.72M195.5 100h0.72M177.5 100.5h0.72M180.5 100.5h0.72M199 100.5h0.72M203 100.5h0.72M205.5 100.5h0.72M209 100.5h0.72M211 100.5h0.72M176.5 101h0.72M183 101h0.72M210 101h0.72M210.5 101h0.72M184 101.5h0.72M204.5 101.5h0.72M210 101.5h0.72M173 102h0.72M176.5 102h0.72M179 102h0.72M182.5 102h0.72M210.5 102h0.72M171 102.5h0.72M172.5 102.5h0.72M176.5 102.5h0.72M203.5 102.5h0.72M204.5 102.5h0.72M205 102.5h0.72M168.5 103h0.72M169 103h0.72M173 103h0.72M174.5 103h0.72M194.5 103h0.72M175.5 103.5h0.72M180.5 103.5h0.72M181.5 103.5h0.72M207.5 103.5h0.72M209.5 103.5h0.72M173 104h0.72M196 104h0.72M206 104h0.72M211 104h0.72M185 104.5h0.72M204.5 104.5h0.72M205.5 104.5h0.72M196 105h0.72M206.5 105h0.72M208 105h0.72M209.5 105h0.72M210.5 105h0.72M170 105.5h0.72M178.5 105.5h0.72M193 106h0.72M199.5 106h0.72M206.5 106h0.72M200 106.5h0.72M202 106.5h0.72M206.5 106.5h0.72M197.5 107h0.72M208 107h0.72M211.5 107h0.72M174.5 108h0.72M171.5 108.5h0.72M178.5 108.5h0.72M191 108.5h0.72M197 108.5h0.72M197.5 108.5h0.72M208 108.5h0.72M212 108.5h0.72M181 109h0.72M185 109h0.72M186.5 109h0.72M187 109h0.72M201 109h0.72M204.5 109h0.72M210 109h0.72" stroke="#5a5a5a" stroke-width="0.72" fill="none"/>
<path d="M175 59h0.95M178 59h0.95M181.5 59h0.95M184.5 59h0.95M172 59.5h0.95M174 59.5h0.95M177.5 59.5h0.95M180.5 59.5h0.95M181.5 59.5h0.95M183.5 59.5h0.95M172.5 60h0.95M173.5 60h0.95M175 60h0.95M176 60h0.95M179 60h0.95M180 60h0.95M182 60h0.95M167.5 60.5h0.95M170.5 60.5h0.95M171 60.5h0.95M173 60.5h0.95M173.5 60.5h0.95M174.5 60.5h0.95M175.5 60.5h0.95M176 60.5h0.95M177 60.5h0.95M178.5 60.5h0.95M179.5 60.5h0.95M180 60.5h0.95M180.5 60.5h0.95M181 60.5h0.95M181.5 60.5h0.95M182 60.5h0.95M187.5 60.5h0.95M168 61h0.95M169 61h0.95M169.5 61h0.95M171.5 61h0.95M172.5 61h0.95M173.5 61h0.95M174 61h0.95M174.5 61h0.95M175 61h0.95M175.5 61h0.95M177 61h0.95M177.5 61h0.95M178 61h0.95M178.5 61h0.95M179 61h0.95M179.5 61h0.95M180 61h0.95M180.5 61h0.95M181 61h0.95M181.5 61h0.95M182 61h0.95M183 61h0.95M184 61h0.95M185 61h0.95M186 61h0.95M186.5 61h0.95M195 61h0.95M167 61.5h0.95M167.5 61.5h0.95M169.5 61.5h0.95M170.5 61.5h0.95M171 61.5h0.95M172 61.5h0.95M173 61.5h0.95M173.5 61.5h0.95M174 61.5h0.95M174.5 61.5h0.95M175 61.5h0.95M175.5 61.5h0.95M176 61.5h0.95M176.5 61.5h0.95M177 61.5h0.95M177.5 61.5h0.95M178 61.5h0.95M178.5 61.5h0.95M179 61.5h0.95M179.5 61.5h0.95M180 61.5h0.95M180.5 61.5h0.95M181 61.5h0.95M181.5 61.5h0.95M182 61.5h0.95M183 61.5h0.95M183.5 61.5h0.95M184 61.5h0.95M185 61.5h0.95M185.5 61.5h0.95M186 61.5h0.95M191 61.5h0.95M191.5 61.5h0.95M167 62h0.95M168 62h0.95M169.5 62h0.95M170 62h0.95M170.5 62h0.95M171.5 62h0.95M172 62h0.95M172.5 62h0.95M173 62h0.95M173.5 62h0.95M174 62h0.95M174.5 62h0.95M175 62h0.95M175.5 62h0.95M176 62h0.95M176.5 62h0.95M177 62h0.95M177.5 62h0.95M178 62h0.95M178.5 62h0.95M179 62h0.95M179.5 62h0.95M180 62h0.95M180.5 62h0.95M181 62h0.95M181.5 62h0.95M182 62h0.95M182.5 62h0.95M183 62h0.95M183.5 62h0.95M184 62h0.95M184.5 62h0.95M185 62h0.95M185.5 62h0.95M187 62h0.95M187.5 62h0.95M188 62h0.95M168.5 62.5h0.95M169.5 62.5h0.95M170 62.5h0.95M170.5 62.5h0.95M171 62.5h0.95M171.5 62.5h0.95M172 62.5h0.95M172.5 62.5h0.95M173 62.5h0.95M173.5 62.5h0.95M174 62.5h0.95M174.5 62.5h0.95M175 62.5h0.95M175.5 62.5h0.95M176 62.5h0.95M176.5 62.5h0.95M177 62.5h0.95M177.5 62.5h0.95M178 62.5h0.95M178.5 62.5h0.95M179 62.5h0.95M179.5 62.5h0.95M180 62.5h0.95M180.5 62.5h0.95M181 62.5h0.95M181.5 62.5h0.95M182.5 62.5h0.95M183 62.5h0.95M183.5 62.5h0.95M184.5 62.5h0.95M185 62.5h0.95M185.5 62.5h0.95M186 62.5h0.95M186.5 62.5h0.95M187 62.5h0.95M188 62.5h0.95M168 63h0.95M169 63h0.95M169.5 63h0.95M171 63h0.95M171.5 63h0.95M172 63h0.95M172.5 63h0.95M173 63h0.95M173.5 63h0.95M174 63h0.95M174.5 63h0.95M175 63h0.95M175.5 63h0.95M176 63h0.95M176.5 63h0.95M177 63h0.95M177.5 63h0.95M178 63h0.95M178.5 63h0.95M179 63h0.95M179.5 63h0.95M180 63h0.95M180.5 63h0.95M181 63h0.95M181.5 63h0.95M182 63h0.95M182.5 63h0.95M183 63h0.95M183.5 63h0.95M184 63h0.95M184.5 63h0.95M185 63h0.95M186 63h0.95M186.5 63h0.95M187 63h0.95M188.5 63h0.95M167 63.5h0.95M167.5 63.5h0.95M168.5 63.5h0.95M169 63.5h0.95M169.5 63.5h0.95M170 63.5h0.95M170.5 63.5h0.95M171 63.5h0.95M171.5 63.5h0.95M172 63.5h0.95M172.5 63.5h0.95M173 63.5h0.95M173.5 63.5h0.95M174 63.5h0.95M174.5 63.5h0.95M175 63.5h0.95M175.5 63.5h0.95M176 63.5h0.95M176.5 63.5h0.95M177 63.5h0.95M177.5 63.5h0.95M178 63.5h0.95M178.5 63.5h0.95M179 63.5h0.95M179.5 63.5h0.95M180 63.5h0.95M180.5 63.5h0.95M181 63.5h0.95M181.5 63.5h0.95M182 63.5h0.95M182.5 63.5h0.95M183 63.5h0.95M183.5 63.5h0.95M184 63.5h0.95M184.5 63.5h0.95M185 63.5h0.95M185.5 63.5h0.95M186 63.5h0.95M186.5 63.5h0.95M187.5 63.5h0.95M188.5 63.5h0.95M189 63.5h0.95M167 64h0.95M167.5 64h0.95M169 64h0.95M170 64h0.95M170.5 64h0.95M171 64h0.95M171.5 64h0.95M172 64h0.95M172.5 64h0.95M173 64h0.95M173.5 64h0.95M174 64h0.95M174.5 64h0.95M175 64h0.95M175.5 64h0.95M176 64h0.95M176.5 64h0.95M177 64h0.95M177.5 64h0.95M178 64h0.95M178.5 64h0.95M179 64h0.95M179.5 64h0.95M180 64h0.95M180.5 64h0.95M181 64h0.95M181.5 64h0.95M182 64h0.95M182.5 64h0.95M183 64h0.95M183.5 64h0.95M184 64h0.95M184.5 64h0.95M185 64h0.95M185.5 64h0.95M186 64h0.95M186.5 64h0.95M187 64h0.95M187.5 64h0.95M188.5 64h0.95M191.5 64h0.95M167 64.5h0.95M168 64.5h0.95M168.5 64.5h0.95M169.5 64.5h0.95M170 64.5h0.95M170.5 64.5h0.95M171 64.5h0.95M171.5 64.5h0.95M172 64.5h0.95M172.5 64.5h0.95M173 64.5h0.95M173.5 64.5h0.95M174 64.5h0.95M174.5 64.5h0.95M175 64.5h0.95M175.5 64.5h0.95M176 64.5h0.95M176.5 64.5h0.95M177 64.5h0.95M177.5 64.5h0.95M178 64.5h0.95M178.5 64.5h0.95M179 64.5h0.95M179.5 64.5h0.95M180 64.5h0.95M180.5 64.5h0.95M181 64.5h0.95M181.5 64.5h0.95M182 64.5h0.95M182.5 64.5h0.95M183 64.5h0.95M183.5 64.5h0.95M184 64.5h0.95M184.5 64.5h0.95M185 64.5h0.95M185.5 64.5h0.95M186 64.5h0.95M187 64.5h0.95M187.5 64.5h0.95M189 64.5h0.95M190.5 64.5h0.95M168.5 65h0.95M169 65h0.95M170 65h0.95M170.5 65h0.95M171 65h0.95M171.5 65h0.95M172 65h0.95M172.5 65h0.95M173 65h0.95M173.5 65h0.95M174 65h0.95M174.5 65h0.95M175 65h0.95M175.5 65h0.95M176 65h0.95M176.5 65h0.95M177 65h0.95M177.5 65h0.95M178 65h0.95M178.5 65h0.95M179 65h0.95M179.5 65h0.95M180 65h0.95M180.5 65h0.95M181 65h0.95M181.5 65h0.95M182 65h0.95M182.5 65h0.95M183 65h0.95M183.5 65h0.95M184 65h0.95M184.5 65h0.95M185 65h0.95M185.5 65h0.95M186 65h0.95M186.5 65h0.95M187 65h0.95M189 65h0.95M189.5 65h0.95M167 65.5h0.95M168 65.5h0.95M168.5 65.5h0.95M169 65.5h0.95M170 65.5h0.95M170.5 65.5h0.95M171 65.5h0.95M171.5 65.5h0.95M172 65.5h0.95M172.5 65.5h0.95M173 65.5h0.95M173.5 65.5h0.95M174 65.5h0.95M174.5 65.5h0.95M175 65.5h0.95M175.5 65.5h0.95M176 65.5h0.95M176.5 65.5h0.95M177 65.5h0.95M177.5 65.5h0.95M178 65.5h0.95M178.5 65.5h0.95M179 65.5h0.95M179.5 65.5h0.95M180 65.5h0.95M180.5 65.5h0.95M181 65.5h0.95M181.5 65.5h0.95M182 65.5h0.95M182.5 65.5h0.95M183 65.5h0.95M183.5 65.5h0.95M184 65.5h0.95M184.5 65.5h0.95M185 65.5h0.95M185.5 65.5h0.95M186 65.5h0.95M186.5 65.5h0.95M187.5 65.5h0.95M192 65.5h0.95M169 66h0.95M169.5 66h0.95M170 66h0.95M170.5 66h0.95M171.5 66h0.95M172 66h0.95M172.5 66h0.95M173.5 66h0.95M174 66h0.95M174.5 66h0.95M175 66h0.95M175.5 66h0.95M176 66h0.95M176.5 66h0.95M177 66h0.95M177.5 66h0.95M178 66h0.95M178.5 66h0.95M179 66h0.95M179.5 66h0.95M180 66h0.95M180.5 66h0.95M181 66h0.95M181.5 66h0.95M182 66h0.95M182.5 66h0.95M183 66h0.95M183.5 66h0.95M184 66h0.95M184.5 66h0.95M185 66h0.95M185.5 66h0.95M186.5 66h0.95M187 66h0.95M187.5 66h0.95M189 66h0.95M192.5 66h0.95M168 66.5h0.95M168.5 66.5h0.95M169.5 66.5h0.95M170.5 66.5h0.95M171 66.5h0.95M172 66.5h0.95M172.5 66.5h0.95M173 66.5h0.95M173.5 66.5h0.95M174 66.5h0.95M174.5 66.5h0.95M175 66.5h0.95M175.5 66.5h0.95M176 66.5h0.95M176.5 66.5h0.95M177 66.5h0.95M177.5 66.5h0.95M178 66.5h0.95M178.5 66.5h0.95M179 66.5h0.95M179.5 66.5h0.95M180 66.5h0.95M180.5 66.5h0.95M181 66.5h0.95M181.5 66.5h0.95M182 66.5h0.95M182.5 66.5h0.95M183 66.5h0.95M183.5 66.5h0.95M184 66.5h0.95M184.5 66.5h0.95M186 66.5h0.95M187 66.5h0.95M170.5 67h0.95M171.5 67h0.95M172 67h0.95M172.5 67h0.95M173.5 67h0.95M174.5 67h0.95M175 67h0.95M175.5 67h0.95M176 67h0.95M176.5 67h0.95M177 67h0.95M177.5 67h0.95M178 67h0.95M178.5 67h0.95M179 67h0.95M179.5 67h0.95M180 67h0.95M180.5 67h0.95M181 67h0.95M181.5 67h0.95M182 67h0.95M182.5 67h0.95M183 67h0.95M185 67h0.95M187 67h0.95M171 67.5h0.95M171.5 67.5h0.95M172 67.5h0.95M172.5 67.5h0.95M173.5 67.5h0.95M174 67.5h0.95M174.5 67.5h0.95M175.5 67.5h0.95M176 67.5h0.95M176.5 67.5h0.95M177 67.5h0.95M177.5 67.5h0.95M178 67.5h0.95M178.5 67.5h0.95M179 67.5h0.95M179.5 67.5h0.95M180 67.5h0.95M181 67.5h0.95M181.5 67.5h0.95M182 67.5h0.95M183 67.5h0.95M183.5 67.5h0.95M185 67.5h0.95M186.5 67.5h0.95M188 67.5h0.95M170 68h0.95M171 68h0.95M172 68h0.95M174.5 68h0.95M175.5 68h0.95M176.5 68h0.95M177 68h0.95M177.5 68h0.95M178 68h0.95M179 68h0.95M181 68h0.95M181.5 68h0.95M183.5 68h0.95M184 68h0.95M187 68h0.95M173 68.5h0.95M174.5 68.5h0.95M175.5 68.5h0.95M176 68.5h0.95M177.5 68.5h0.95M179.5 68.5h0.95M174.5 69h0.95M177 69h0.95M171 69.5h0.95M172 69.5h0.95M173.5 69.5h0.95M183.5 69.5h0.95M181 70h0.95M170 71h0.95M183.5 75.5h0.95M177 76h0.95M181 77h0.95M175.5 77.5h0.95M176.5 78.5h0.95M178.5 78.5h0.95M187.5 78.5h0.95M177.5 79h0.95M174 79.5h0.95M177 79.5h0.95M185 79.5h0.95M186 79.5h0.95M184 80h0.95M178 80.5h0.95M178.5 80.5h0.95M179.5 80.5h0.95M175 81h0.95M176.5 81h0.95M178.5 81h0.95M179.5 81h0.95M180 81h0.95M182.5 81h0.95M175.5 81.5h0.95M179 81.5h0.95M180 81.5h0.95M182.5 81.5h0.95M183 81.5h0.95M178.5 82h0.95M179 82h0.95M181.5 82h0.95M183 82h0.95M177.5 82.5h0.95M179 82.5h0.95M181.5 82.5h0.95M182 82.5h0.95M175.5 83h0.95M178 83h0.95M181 83h0.95M183 83h0.95M175 83.5h0.95M178.5 83.5h0.95M179.5 83.5h0.95M183.5 83.5h0.95M184.5 83.5h0.95M177.5 84h0.95M178 84h0.95M184 84h0.95M173.5 84.5h0.95M179 84.5h0.95M181.5 84.5h0.95M184 84.5h0.95M184.5 84.5h0.95M207 84.5h0.95M176 85h0.95M177.5 85h0.95M178.5 85h0.95M180 85h0.95M181 85h0.95M181.5 85h0.95M180 85.5h0.95M209.5 85.5h0.95M210.5 85.5h0.95M178.5 86h0.95M181 86h0.95M182.5 86h0.95M183 86h0.95M207.5 86h0.95M176 86.5h0.95M182 86.5h0.95M182.5 86.5h0.95M183 86.5h0.95M184.5 86.5h0.95M209 86.5h0.95M210 86.5h0.95M178 87h0.95M178.5 87h0.95M179 87h0.95M181.5 87h0.95M183 87h0.95M183.5 87h0.95M185 87h0.95M206 87h0.95M206.5 87h0.95M207 87h0.95M209 87h0.95M175 87.5h0.95M176 87.5h0.95M177 87.5h0.95M178.5 87.5h0.95M180 87.5h0.95M181 87.5h0.95M184 87.5h0.95M205 87.5h0.95M206.5 87.5h0.95M208.5 87.5h0.95M209 87.5h0.95M177.5 88h0.95M178.5 88h0.95M179 88h0.95M179.5 88h0.95M180 88h0.95M180.5 88h0.95M181.5 88h0.95M182.5 88h0.95M205.5 88h0.95M207 88h0.95M208 88h0.95M209 88h0.95M177 88.5h0.95M178 88.5h0.95M179 88.5h0.95M179.5 88.5h0.95M180.5 88.5h0.95M181 88.5h0.95M181.5 88.5h0.95M182.5 88.5h0.95M183.5 88.5h0.95M184.5 88.5h0.95M205.5 88.5h0.95M206 88.5h0.95M206.5 88.5h0.95M207.5 88.5h0.95M208.5 88.5h0.95M209 88.5h0.95M177 89h0.95M183.5 89h0.95M184 89h0.95M185 89h0.95M205 89h0.95M205.5 89h0.95M206 89h0.95M207 89h0.95M208 89h0.95M209 89h0.95M179.5 89.5h0.95M180 89.5h0.95M180.5 89.5h0.95M181 89.5h0.95M183 89.5h0.95M204.5 89.5h0.95M205 89.5h0.95M205.5 89.5h0.95M206.5 89.5h0.95M207 89.5h0.95M207.5 89.5h0.95M208 89.5h0.95M208.5 89.5h0.95M210.5 89.5h0.95M177 90h0.95M179 90h0.95M181 90h0.95M205 90h0.95M206 90h0.95M206.5 90h0.95M207 90h0.95M207.5 90h0.95M208 90h0.95M208.5 90h0.95M209 90h0.95M210.5 90h0.95M178.5 90.5h0.95M181.5 90.5h0.95M183.5 90.5h0.95M184 90.5h0.95M205.5 90.5h0.95M206 90.5h0.95M206.5 90.5h0.95M207 90.5h0.95M207.5 90.5h0.95M208 90.5h0.95M208.5 90.5h0.95M209 90.5h0.95M210.5 90.5h0.95M176 91h0.95M177 91h0.95M178.5 91h0.95M180 91h0.95M205.5 91h0.95M206.5 91h0.95M207 91h0.95M207.5 91h0.95M208 91h0.95M208.5 91h0.95M209 91h0.95M209.5 91h0.95M178.5 91.5h0.95M179.5 91.5h0.95M180 91.5h0.95M180.5 91.5h0.95M181 91.5h0.95M182.5 91.5h0.95M183 91.5h0.95M188 91.5h0.95M205 91.5h0.95M205.5 91.5h0.95M206.5 91.5h0.95M207 91.5h0.95M207.5 91.5h0.95M208 91.5h0.95M209 91.5h0.95M209.5 91.5h0.95M176.5 92h0.95M179 92h0.95M179.5 92h0.95M181 92h0.95M183 92h0.95M205 92h0.95M205.5 92h0.95M206 92h0.95M206.5 92h0.95M207 92h0.95M207.5 92h0.95M208.5 92h0.95M209 92h0.95M209.5 92h0.95M210 92h0.95M179 92.5h0.95M181 92.5h0.95M184.5 92.5h0.95M185.5 92.5h0.95M205 92.5h0.95M205.5 92.5h0.95M206 92.5h0.95M206.5 92.5h0.95M207 92.5h0.95M207.5 92.5h0.95M208 92.5h0.95M208.5 92.5h0.95M209 92.5h0.95M210 92.5h0.95M211 92.5h0.95M174 93h0.95M179.5 93h0.95M181 93h0.95M182 93h0.95M183.5 93h0.95M184 93h0.95M205 93h0.95M205.5 93h0.95M206 93h0.95M206.5 93h0.95M207 93h0.95M207.5 93h0.95M208 93h0.95M208.5 93h0.95M209 93h0.95M210 93h0.95M211 93h0.95M183.5 93.5h0.95M203.5 93.5h0.95M205 93.5h0.95M205.5 93.5h0.95M206 93.5h0.95M206.5 93.5h0.95M207 93.5h0.95M207.5 93.5h0.95M208 93.5h0.95M208.5 93.5h0.95M209 93.5h0.95M210 93.5h0.95M210.5 93.5h0.95M183.5 94h0.95M184 94h0.95M204.5 94h0.95M205 94h0.95M205.5 94h0.95M206 94h0.95M206.5 94h0.95M207 94h0.95M207.5 94h0.95M208 94h0.95M208.5 94h0.95M209.5 94h0.95M210 94h0.95M210.5 94h0.95M211 94h0.95M180 94.5h0.95M182.5 94.5h0.95M204.5 94.5h0.95M205 94.5h0.95M205.5 94.5h0.95M206 94.5h0.95M206.5 94.5h0.95M207 94.5h0.95M207.5 94.5h0.95M208 94.5h0.95M208.5 94.5h0.95M209 94.5h0.95M210 94.5h0.95M175.5 95h0.95M177 95h0.95M178.5 95h0.95M186 95h0.95M204.5 95h0.95M205 95h0.95M205.5 95h0.95M206 95h0.95M206.5 95h0.95M207 95h0.95M207.5 95h0.95M208 95h0.95M208.5 95h0.95M209 95h0.95M209.5 95h0.95M210 95h0.95M212 95h0.95M177 95.5h0.95M180 95.5h0.95M203.5 95.5h0.95M205 95.5h0.95M205.5 95.5h0.95M206 95.5h0.95M206.5 95.5h0.95M207 95.5h0.95M207.5 95.5h0.95M208 95.5h0.95M208.5 95.5h0.95M209 95.5h0.95M209.5 95.5h0.95M210 95.5h0.95M210.5 95.5h0.95M211.5 95.5h0.95M183.5 96h0.95M204 96h0.95M205 96h0.95M205.5 96h0.95M206 96h0.95M206.5 96h0.95M207 96h0.95M207.5 96h0.95M208 96h0.95M208.5 96h0.95M209 96h0.95M209.5 96h0.95M210 96h0.95M210.5 96h0.95M180.5 96.5h0.95M186.5 96.5h0.95M204.5 96.5h0.95M205 96.5h0.95M205.5 96.5h0.95M206 96.5h0.95M206.5 96.5h0.95M207 96.5h0.95M207.5 96.5h0.95M208 96.5h0.95M208.5 96.5h0.95M209.5 96.5h0.95M210 96.5h0.95M210.5 96.5h0.95M174 97h0.95M176 97h0.95M178.5 97h0.95M184.5 97h0.95M204.5 97h0.95M205.5 97h0.95M206 97h0.95M206.5 97h0.95M207 97h0.95M207.5 97h0.95M208 97h0.95M208.5 97h0.95M209.5 97h0.95M174 97.5h0.95M181.5 97.5h0.95M182 97.5h0.95M185 97.5h0.95M205 97.5h0.95M205.5 97.5h0.95M206 97.5h0.95M206.5 97.5h0.95M207 97.5h0.95M207.5 97.5h0.95M208 97.5h0.95M208.5 97.5h0.95M209 97.5h0.95M209.5 97.5h0.95M210 97.5h0.95M210.5 97.5h0.95M178.5 98h0.95M182 98h0.95M182.5 98h0.95M204.5 98h0.95M205 98h0.95M205.5 98h0.95M206 98h0.95M206.5 98h0.95M207 98h0.95M207.5 98h0.95M208 98h0.95M208.5 98h0.95M209 98h0.95M209.5 98h0.95M210 98h0.95M211.5 98h0.95M178 98.5h0.95M180 98.5h0.95M181.5 98.5h0.95M205 98.5h0.95M205.5 98.5h0.95M206 98.5h0.95M206.5 98.5h0.95M207 98.5h0.95M207.5 98.5h0.95M208 98.5h0.95M208.5 98.5h0.95M204 99h0.95M205.5 99h0.95M206 99h0.95M206.5 99h0.95M207 99h0.95M207.5 99h0.95M208 99h0.95M208.5 99h0.95M209 99h0.95M210 99h0.95M210.5 99h0.95M177.5 99.5h0.95M205 99.5h0.95M205.5 99.5h0.95M206 99.5h0.95M206.5 99.5h0.95M207 99.5h0.95M207.5 99.5h0.95M208 99.5h0.95M208.5 99.5h0.95M209 99.5h0.95M209.5 99.5h0.95M210 99.5h0.95M205.5 100h0.95M206 100h0.95M206.5 100h0.95M207 100h0.95M207.5 100h0.95M208 100h0.95M208.5 100h0.95M209 100h0.95M209.5 100h0.95M210 100h0.95M210.5 100h0.95M206 100.5h0.95M206.5 100.5h0.95M207 100.5h0.95M207.5 100.5h0.95M208 100.5h0.95M208.5 100.5h0.95M210 100.5h0.95M181.5 101h0.95M204 101h0.95M205.5 101h0.95M206 101h0.95M206.5 101h0.95M207 101h0.95M207.5 101h0.95M208 101h0.95M208.5 101h0.95M209.5 101h0.95M173.5 101.5h0.95M204 101.5h0.95M205.5 101.5h0.95M206 101.5h0.95M206.5 101.5h0.95M207 101.5h0.95M207.5 101.5h0.95M208 101.5h0.95M208.5 101.5h0.95M209 101.5h0.95M205 102h0.95M205.5 102h0.95M206 102h0.95M206.5 102h0.95M207 102h0.95M208 102h0.95M208.5 102h0.95M209 102h0.95M205.5 102.5h0.95M206.5 102.5h0.95M207 102.5h0.95M207.5 102.5h0.95M208 102.5h0.95M208.5 102.5h0.95M209 102.5h0.95M209.5 102.5h0.95M210.5 102.5h0.95M211 102.5h0.95M206.5 103h0.95M207 103h0.95M207.5 103h0.95M208 103h0.95M208.5 103h0.95M209.5 103h0.95M210 103h0.95M179 103.5h0.95M182.5 103.5h0.95M206 103.5h0.95M207 103.5h0.95M208 103.5h0.95M208.5 103.5h0.95M209 103.5h0.95M203.5 104h0.95M205.5 104h0.95M206.5 104h0.95M207.5 104h0.95M208 104h0.95M208.5 104h0.95M207.5 104.5h0.95M208 104.5h0.95M209 104.5h0.95M205.5 105h0.95M207 105h0.95M207.5 105h0.95M208.5 105h0.95M209 105h0.95M211.5 105h0.95M205.5 105.5h0.95M206.5 105.5h0.95M209 105.5h0.95M210.5 105.5h0.95M205.5 106h0.95M207.5 106h0.95M207 106.5h0.95M208 106.5h0.95M209.5 106.5h0.95M207.5 107h0.95M207 107.5h0.95M207.5 107.5h0.95M207 108h0.95M207.5 109h0.95M208.5 109h0.95" stroke="#000" stroke-width="0.95" fill="none"/>
<polygon points="189,80.4 205.8,51.9 224.6,49.4 225.1,68 194.9,86.2" fill="none" stroke="#444" stroke-width="0.9"/>
<line x1="166.5" y1="41.5" x2="234" y2="41.5" stroke="#333" stroke-width="1"/>
<line x1="234" y1="41.5" x2="234" y2="109.5" stroke="#8a8a8a" stroke-width="1"/>
<line x1="166.5" y1="41" x2="166.5" y2="110" stroke="#222" stroke-width="1"/>
<line x1="166" y1="109.5" x2="234.5" y2="109.5" stroke="#222" stroke-width="1"/>
<path d="M166.5 109.5v2.2M166.5 109.5h-2.2M171.58 109.5v1.3M166.5 104.38h-1.3M174.55 109.5v1.3M166.5 101.39h-1.3M176.66 109.5v1.3M166.5 99.26h-1.3M178.3 109.5v1.3M166.5 97.62h-1.3M179.63 109.5v1.3M166.5 96.27h-1.3M180.76 109.5v1.3M166.5 95.13h-1.3M181.74 109.5v1.3M166.5 94.15h-1.3M182.6 109.5v1.3M166.5 93.28h-1.3M183.38 109.5v2.2M166.5 92.5h-2.2M188.45 109.5v1.3M166.5 87.38h-1.3M191.43 109.5v1.3M166.5 84.39h-1.3M193.53 109.5v1.3M166.5 82.26h-1.3M195.17 109.5v1.3M166.5 80.62h-1.3M196.51 109.5v1.3M166.5 79.27h-1.3M197.64 109.5v1.3M166.5 78.13h-1.3M198.61 109.5v1.3M166.5 77.15h-1.3M199.48 109.5v1.3M166.5 76.28h-1.3M200.25 109.5v2.2M166.5 75.5h-2.2M205.33 109.5v1.3M166.5 70.38h-1.3M208.3 109.5v1.3M166.5 67.39h-1.3M210.41 109.5v1.3M166.5 65.26h-1.3M212.05 109.5v1.3M166.5 63.62h-1.3M213.38 109.5v1.3M166.5 62.27h-1.3M214.51 109.5v1.3M166.5 61.13h-1.3M215.49 109.5v1.3M166.5 60.15h-1.3M216.35 109.5v1.3M166.5 59.28h-1.3M217.12 109.5v2.2M166.5 58.5h-2.2M222.2 109.5v1.3M166.5 53.38h-1.3M225.18 109.5v1.3M166.5 50.39h-1.3M227.28 109.5v1.3M166.5 48.26h-1.3M228.92 109.5v1.3M166.5 46.62h-1.3M230.26 109.5v1.3M166.5 45.27h-1.3M231.39 109.5v1.3M166.5 44.13h-1.3M232.36 109.5v1.3M166.5 43.15h-1.3M233.23 109.5v1.3M166.5 42.28h-1.3M234 109.5v2.2M166.5 41.5h-2.2" stroke="#222" stroke-width="0.7" fill="none"/>
<text x="162.65" y="117.07" font-size="4.7" fill="#111">10<tspan dy="-2.12" font-size="3.95">0</tspan></text>
<text x="162.4" y="113.73" font-size="4.7" fill="#111" transform="rotate(-90 162.4 113.73)">10<tspan dy="-2.12" font-size="3.95">0</tspan></text>
<text x="179.52" y="117.07" font-size="4.7" fill="#111">10<tspan dy="-2.12" font-size="3.95">1</tspan></text>
<text x="162.4" y="96.73" font-size="4.7" fill="#111" transform="rotate(-90 162.4 96.73)">10<tspan dy="-2.12" font-size="3.95">1</tspan></text>
<text x="196.4" y="117.07" font-size="4.7" fill="#111">10<tspan dy="-2.12" font-size="3.95">2</tspan></text>
<text x="162.4" y="79.73" font-size="4.7" fill="#111" transform="rotate(-90 162.4 79.73)">10<tspan dy="-2.12" font-size="3.95">2</tspan></text>
<text x="213.27" y="117.07" font-size="4.7" fill="#111">10<tspan dy="-2.12" font-size="3.95">3</tspan></text>
<text x="162.4" y="62.73" font-size="4.7" fill="#111" transform="rotate(-90 162.4 62.73)">10<tspan dy="-2.12" font-size="3.95">3</tspan></text>
<text x="230.15" y="117.07" font-size="4.7" fill="#111">10<tspan dy="-2.12" font-size="3.95">4</tspan></text>
<text x="162.4" y="45.73" font-size="4.7" fill="#111" transform="rotate(-90 162.4 45.73)">10<tspan dy="-2.12" font-size="3.95">4</tspan></text>
<text x="172.6" y="38.6" font-size="17.2" font-weight="bold">B</text>
<text x="152.2" y="75.5" font-size="14" text-anchor="middle" transform="rotate(-90 152.2 75.5)">CD4</text>
<text x="200.5" y="131.6" font-size="14" text-anchor="middle">CD8</text>
<path d="M331.5 55h0.72M359 55h0.72M362 55h0.72M374 55h0.72M380.5 55h0.72M370 56.5h0.72M352 57h0.72M372 57h0.72M330.5 57.5h0.72M338.5 57.5h0.72M340 57.5h0.72M362 57.5h0.72M373 57.5h0.72M337 58h0.72M367 58h0.72M332 58.5h0.72M332.5 58.5h0.72M340.5 59h0.72M341.5 59h0.72M343 59h0.72M331.5 59.5h0.72M337.5 59.5h0.72M341.5 59.5h0.72M342 59.5h0.72M359.5 59.5h0.72M364 59.5h0.72M333.5 60h0.72M339.5 60h0.72M351 60h0.72M371.5 60h0.72M377 60h0.72M337.5 60.5h0.72M330.5 61h0.72M331.5 61h0.72M333 61h0.72M353.5 61h0.72M364 61h0.72M328 61.5h0.72M334 61.5h0.72M331 62h0.72M344.5 62h0.72M346 62h0.72M330 62.5h0.72M335.5 62.5h0.72M338.5 62.5h0.72M327 63h0.72M340 63h0.72M345 63h0.72M342.5 63.5h0.72M345.5 63.5h0.72M358.5 63.5h0.72M341 64h0.72M346 64h0.72M371.5 64h0.72M327.5 64.5h0.72M347.5 64.5h0.72M348.5 64.5h0.72M365.5 64.5h0.72M345.5 65h0.72M367 65h0.72M367.5 65h0.72M334 65.5h0.72M364 65.5h0.72M364.5 65.5h0.72M343 66h0.72M345.5 66h0.72M361.5 66h0.72M383.5 66h0.72M352 66.5h0.72M352.5 66.5h0.72M355.5 66.5h0.72M361 66.5h0.72M370 66.5h0.72M328.5 67h0.72M332.5 67h0.72M353.5 67h0.72M354.5 67h0.72M358.5 67h0.72M367.5 67h0.72M362 67.5h0.72M372.5 67.5h0.72M343 68h0.72M364.5 68h0.72M341 68.5h0.72M348 68.5h0.72M353 68.5h0.72M359.5 68.5h0.72M363 68.5h0.72M347 69h0.72M350 69h0.72M356 69h0.72M360.5 69h0.72M371.5 69h0.72M329 69.5h0.72M339.5 69.5h0.72M349 69.5h0.72M371.5 69.5h0.72M328 70h0.72M335 70h0.72M340.5 70h0.72M341.5 70h0.72M344.5 70h0.72M346 70h0.72M349 70h0.72M350.5 70h0.72M365 70h0.72M367.5 70h0.72M377 70h0.72M328.5 70.5h0.72M330.5 70.5h0.72M343 70.5h0.72M345.5 70.5h0.72M351 70.5h0.72M354.5 70.5h0.72M362.5 70.5h0.72M329 71h0.72M335.5 71h0.72M342 71h0.72M348 71h0.72M361 71h0.72M327 71.5h0.72M328.5 71.5h0.72M336.5 71.5h0.72M339 71.5h0.72M347.5 71.5h0.72M355 71.5h0.72M362.5 71.5h0.72M340.5 72h0.72M342.5 72h0.72M347 72h0.72M348 72h0.72M357 72h0.72M358 72h0.72M361.5 72h0.72M379.5 72h0.72M328 72.5h0.72M329.5 72.5h0.72M334 72.5h0.72M336 72.5h0.72M339 72.5h0.72M340 72.5h0.72M342 72.5h0.72M346.5 72.5h0.72M367 72.5h0.72M369 72.5h0.72M327 73h0.72M329.5 73h0.72M336 73h0.72M339.5 73h0.72M345 73h0.72M350 73h0.72M333 73.5h0.72M339.5 73.5h0.72M344 73.5h0.72M347 73.5h0.72M350.5 73.5h0.72M352 73.5h0.72M353.5 73.5h0.72M357 73.5h0.72M368.5 73.5h0.72M331 74h0.72M332 74h0.72M334 74h0.72M343 74h0.72M343.5 74h0.72M346.5 74h0.72M356.5 74h0.72M360.5 74h0.72M363.5 74h0.72M336.5 74.5h0.72M341.5 74.5h0.72M357 74.5h0.72M361.5 74.5h0.72M364 74.5h0.72M331 75h0.72M332.5 75h0.72M343.5 75h0.72M353.5 75h0.72M355 75h0.72M365.5 75h0.72M367.5 75h0.72M327 75.5h0.72M334.5 75.5h0.72M340.5 75.5h0.72M341 75.5h0.72M349.5 75.5h0.72M353.5 75.5h0.72M354.5 75.5h0.72M357.5 75.5h0.72M361 75.5h0.72M339 76h0.72M349.5 76h0.72M361.5 76h0.72M367 76h0.72M356.5 76.5h0.72M360.5 76.5h0.72M331 77h0.72M340.5 77h0.72M355.5 77h0.72M329 77.5h0.72M336.5 77.5h0.72M348.5 77.5h0.72M355.5 77.5h0.72M357 77.5h0.72M359.5 77.5h0.72M360 77.5h0.72M360.5 77.5h0.72M359.5 78h0.72M329 78.5h0.72M333.5 78.5h0.72M352 78.5h0.72M367.5 78.5h0.72M330 79h0.72M341.5 79h0.72M346.5 79h0.72M355 79h0.72M364.5 79h0.72M329.5 79.5h0.72M353 79.5h0.72M360.5 79.5h0.72M365 79.5h0.72M378.5 79.5h0.72M367.5 80h0.72M357 80.5h0.72M359.5 80.5h0.72M361 80.5h0.72M361.5 80.5h0.72M372.5 80.5h0.72M327 81h0.72M347 81h0.72M367 81h0.72M332 81.5h0.72M346 81.5h0.72M356.5 81.5h0.72M357 81.5h0.72M364 81.5h0.72M368.5 81.5h0.72M361.5 82h0.72M362 82h0.72M362.5 82h0.72M347.5 82.5h0.72M365 82.5h0.72M362 83h0.72M364 83h0.72M329.5 83.5h0.72M367.5 83.5h0.72M354 84h0.72M356.5 84h0.72M359.5 84h0.72M361.5 84h0.72M366 84h0.72M373 84h0.72M354 84.5h0.72M356 84.5h0.72M368 84.5h0.72M377 84.5h0.72M336 85h0.72M354.5 85h0.72M357 85h0.72M360.5 85h0.72M367 85h0.72M342.5 85.5h0.72M354 85.5h0.72M363 85.5h0.72M364 85.5h0.72M364.5 85.5h0.72M365.5 85.5h0.72M368.5 85.5h0.72M369.5 85.5h0.72M371.5 85.5h0.72M348 86h0.72M350.5 86h0.72M374.5 86h0.72M365 86.5h0.72M367.5 86.5h0.72M377.5 86.5h0.72M383 86.5h0.72M349 87h0.72M365 87h0.72M354 87.5h0.72M361 87.5h0.72M362 87.5h0.72M368 87.5h0.72M369.5 87.5h0.72M347 88h0.72M347.5 88h0.72M354 88h0.72M356 88h0.72M362.5 88h0.72M365 88h0.72M345.5 88.5h0.72M359 88.5h0.72M365 88.5h0.72M346 89h0.72M359.5 89h0.72M362.5 89h0.72M364 89h0.72M357 89.5h0.72M358.5 89.5h0.72M359 89.5h0.72M362 89.5h0.72M348.5 90h0.72M355.5 90h0.72M360.5 90h0.72M362.5 90h0.72M364 90h0.72M367.5 90h0.72M346.5 90.5h0.72M351.5 90.5h0.72M362.5 90.5h0.72M365 90.5h0.72M327 91h0.72M360 91h0.72M360.5 91h0.72M363 91h0.72M379.5 91h0.72M334.5 91.5h0.72M360 91.5h0.72M360.5 91.5h0.72M362.5 91.5h0.72M338.5 92h0.72M341.5 92h0.72M361.5 92h0.72M369 92h0.72M382 92h0.72M330 92.5h0.72M358 92.5h0.72M359.5 92.5h0.72M360.5 92.5h0.72M367 92.5h0.72M358 93h0.72M360 93h0.72M365 93h0.72M341 93.5h0.72M356.5 93.5h0.72M361.5 93.5h0.72M337 94h0.72M344 94h0.72M362 94h0.72M362.5 94h0.72M364.5 94h0.72M354.5 94.5h0.72M356 94.5h0.72M357.5 94.5h0.72M358 94.5h0.72M359 94.5h0.72M360.5 94.5h0.72M362 94.5h0.72M363 94.5h0.72M383 94.5h0.72M334 95h0.72M366.5 95h0.72M357 95.5h0.72M359 95.5h0.72M363 95.5h0.72M364.5 95.5h0.72M352 96h0.72M364 96h0.72M365 96h0.72M376 96h0.72M333 96.5h0.72M334.5 96.5h0.72M359 96.5h0.72M360 96.5h0.72M363.5 96.5h0.72M364 96.5h0.72M365.5 96.5h0.72M366 96.5h0.72M376 96.5h0.72M380.5 96.5h0.72M359 97h0.72M360.5 97h0.72M361 97h0.72M363 97h0.72M364 97h0.72M339 97.5h0.72M352 97.5h0.72M360 97.5h0.72M363.5 97.5h0.72M381 97.5h0.72M358.5 98h0.72M359 98h0.72M359.5 98h0.72M363 98h0.72M363.5 98h0.72M367 98h0.72M378 98h0.72M354 98.5h0.72M360 98.5h0.72M362 98.5h0.72M363.5 98.5h0.72M345 99h0.72M367.5 99h0.72M352 99.5h0.72M362 99.5h0.72M362.5 99.5h0.72M363 99.5h0.72M367 99.5h0.72M369.5 99.5h0.72M375 99.5h0.72M361.5 100h0.72M363 100h0.72M366 100h0.72M368.5 100h0.72M375.5 100h0.72M352 100.5h0.72M361 100.5h0.72M381.5 100.5h0.72M345 101h0.72M367 101h0.72M333.5 101.5h0.72M362 101.5h0.72M375 101.5h0.72M380.5 101.5h0.72M362.5 102h0.72M363 102h0.72M364 102h0.72M365 102h0.72M361 102.5h0.72M364 102.5h0.72M367 102.5h0.72M376 102.5h0.72M364 103h0.72M368 103.5h0.72M327.5 104h0.72M360 104h0.72M371.5 104h0.72M374 104h0.72M340.5 104.5h0.72M348.5 104.5h0.72M362 104.5h0.72M365.5 104.5h0.72M372 104.5h0.72M382.5 104.5h0.72M363.5 105h0.72M364.5 105h0.72M366 105.5h0.72M370 105.5h0.72M361 106h0.72M366 106h0.72M368 106h0.72M369.5 106h0.72M363 106.5h0.72M378 106.5h0.72M340 107h0.72M360.5 107h0.72M361.5 107h0.72M353.5 107.5h0.72M359 107.5h0.72M361 107.5h0.72M364 107.5h0.72M366 107.5h0.72M370 107.5h0.72" stroke="#5a5a5a" stroke-width="0.72" fill="none"/>
<path d="M342.5 58.5h0.95M338 59.5h0.95M339 60.5h0.95M341.5 60.5h0.95M347.5 60.5h0.95M332 61h0.95M332.5 61h0.95M336 61h0.95M339 61h0.95M342.5 61h0.95M337.5 61.5h0.95M338.5 61.5h0.95M339 61.5h0.95M339.5 61.5h0.95M340 61.5h0.95M342 61.5h0.95M342.5 61.5h0.95M344 61.5h0.95M327 62h0.95M330 62h0.95M332.5 62h0.95M336 62h0.95M336.5 62h0.95M337.5 62h0.95M339 62h0.95M340.5 62h0.95M341 62h0.95M342.5 62h0.95M344 62h0.95M329 62.5h0.95M331.5 62.5h0.95M332 62.5h0.95M332.5 62.5h0.95M333.5 62.5h0.95M334.5 62.5h0.95M335 62.5h0.95M336.5 62.5h0.95M337 62.5h0.95M337.5 62.5h0.95M340 62.5h0.95M340.5 62.5h0.95M342 62.5h0.95M344.5 62.5h0.95M346 62.5h0.95M349 62.5h0.95M329.5 63h0.95M331.5 63h0.95M332 63h0.95M332.5 63h0.95M333.5 63h0.95M334 63h0.95M335 63h0.95M335.5 63h0.95M336 63h0.95M337 63h0.95M337.5 63h0.95M338 63h0.95M338.5 63h0.95M339 63h0.95M339.5 63h0.95M340.5 63h0.95M341 63h0.95M343.5 63h0.95M327 63.5h0.95M330 63.5h0.95M332.5 63.5h0.95M333 63.5h0.95M334 63.5h0.95M334.5 63.5h0.95M336 63.5h0.95M336.5 63.5h0.95M337 63.5h0.95M337.5 63.5h0.95M338 63.5h0.95M338.5 63.5h0.95M340.5 63.5h0.95M341.5 63.5h0.95M342 63.5h0.95M343 63.5h0.95M343.5 63.5h0.95M344 63.5h0.95M344.5 63.5h0.95M345 63.5h0.95M327 64h0.95M329.5 64h0.95M330 64h0.95M332 64h0.95M332.5 64h0.95M333 64h0.95M333.5 64h0.95M334 64h0.95M334.5 64h0.95M335 64h0.95M335.5 64h0.95M336 64h0.95M336.5 64h0.95M337 64h0.95M337.5 64h0.95M338 64h0.95M338.5 64h0.95M339 64h0.95M339.5 64h0.95M340 64h0.95M340.5 64h0.95M342 64h0.95M343 64h0.95M343.5 64h0.95M344 64h0.95M344.5 64h0.95M345.5 64h0.95M327 64.5h0.95M329 64.5h0.95M329.5 64.5h0.95M330.5 64.5h0.95M331 64.5h0.95M332 64.5h0.95M332.5 64.5h0.95M333 64.5h0.95M333.5 64.5h0.95M334 64.5h0.95M334.5 64.5h0.95M335 64.5h0.95M335.5 64.5h0.95M336 64.5h0.95M336.5 64.5h0.95M337 64.5h0.95M337.5 64.5h0.95M338.5 64.5h0.95M339 64.5h0.95M339.5 64.5h0.95M340 64.5h0.95M340.5 64.5h0.95M341 64.5h0.95M341.5 64.5h0.95M342 64.5h0.95M343.5 64.5h0.95M345 64.5h0.95M345.5 64.5h0.95M353.5 64.5h0.95M327 65h0.95M329 65h0.95M329.5 65h0.95M330 65h0.95M330.5 65h0.95M331.5 65h0.95M332 65h0.95M332.5 65h0.95M333.5 65h0.95M334 65h0.95M334.5 65h0.95M335 65h0.95M335.5 65h0.95M336.5 65h0.95M337 65h0.95M337.5 65h0.95M338 65h0.95M338.5 65h0.95M339 65h0.95M339.5 65h0.95M340 65h0.95M340.5 65h0.95M341 65h0.95M341.5 65h0.95M342 65h0.95M342.5 65h0.95M344 65h0.95M345 65h0.95M327 65.5h0.95M327.5 65.5h0.95M329 65.5h0.95M329.5 65.5h0.95M330 65.5h0.95M330.5 65.5h0.95M331 65.5h0.95M332 65.5h0.95M332.5 65.5h0.95M333 65.5h0.95M333.5 65.5h0.95M334.5 65.5h0.95M335 65.5h0.95M335.5 65.5h0.95M336 65.5h0.95M336.5 65.5h0.95M337 65.5h0.95M337.5 65.5h0.95M338 65.5h0.95M339 65.5h0.95M339.5 65.5h0.95M340 65.5h0.95M340.5 65.5h0.95M341 65.5h0.95M341.5 65.5h0.95M342 65.5h0.95M342.5 65.5h0.95M343 65.5h0.95M343.5 65.5h0.95M344 65.5h0.95M344.5 65.5h0.95M345 65.5h0.95M345.5 65.5h0.95M346 65.5h0.95M327 66h0.95M327.5 66h0.95M328.5 66h0.95M330 66h0.95M330.5 66h0.95M331 66h0.95M331.5 66h0.95M332 66h0.95M332.5 66h0.95M333 66h0.95M333.5 66h0.95M334 66h0.95M334.5 66h0.95M335 66h0.95M335.5 66h0.95M336 66h0.95M336.5 66h0.95M337 66h0.95M337.5 66h0.95M338 66h0.95M338.5 66h0.95M339 66h0.95M339.5 66h0.95M340 66h0.95M341 66h0.95M341.5 66h0.95M342 66h0.95M342.5 66h0.95M343.5 66h0.95M344 66h0.95M344.5 66h0.95M346 66h0.95M346.5 66h0.95M328 66.5h0.95M328.5 66.5h0.95M329 66.5h0.95M330 66.5h0.95M330.5 66.5h0.95M331 66.5h0.95M332 66.5h0.95M333.5 66.5h0.95M334 66.5h0.95M334.5 66.5h0.95M335 66.5h0.95M335.5 66.5h0.95M336 66.5h0.95M336.5 66.5h0.95M337 66.5h0.95M337.5 66.5h0.95M338 66.5h0.95M338.5 66.5h0.95M339 66.5h0.95M339.5 66.5h0.95M340 66.5h0.95M340.5 66.5h0.95M341 66.5h0.95M341.5 66.5h0.95M342 66.5h0.95M343.5 66.5h0.95M344 66.5h0.95M344.5 66.5h0.95M345.5 66.5h0.95M346 66.5h0.95M349.5 66.5h0.95M327 67h0.95M327.5 67h0.95M328 67h0.95M329 67h0.95M329.5 67h0.95M330 67h0.95M330.5 67h0.95M331 67h0.95M331.5 67h0.95M332 67h0.95M333 67h0.95M333.5 67h0.95M334 67h0.95M334.5 67h0.95M335 67h0.95M335.5 67h0.95M336 67h0.95M336.5 67h0.95M337 67h0.95M337.5 67h0.95M338 67h0.95M338.5 67h0.95M339 67h0.95M339.5 67h0.95M340 67h0.95M340.5 67h0.95M341 67h0.95M341.5 67h0.95M342 67h0.95M342.5 67h0.95M343 67h0.95M343.5 67h0.95M344 67h0.95M344.5 67h0.95M345 67h0.95M345.5 67h0.95M346.5 67h0.95M347 67h0.95M348.5 67h0.95M327 67.5h0.95M327.5 67.5h0.95M328 67.5h0.95M329 67.5h0.95M329.5 67.5h0.95M330 67.5h0.95M331 67.5h0.95M331.5 67.5h0.95M332 67.5h0.95M332.5 67.5h0.95M333.5 67.5h0.95M334 67.5h0.95M334.5 67.5h0.95M335 67.5h0.95M335.5 67.5h0.95M336 67.5h0.95M336.5 67.5h0.95M337 67.5h0.95M337.5 67.5h0.95M338 67.5h0.95M338.5 67.5h0.95M339 67.5h0.95M339.5 67.5h0.95M340 67.5h0.95M340.5 67.5h0.95M341 67.5h0.95M341.5 67.5h0.95M342 67.5h0.95M342.5 67.5h0.95M343.5 67.5h0.95M344 67.5h0.95M344.5 67.5h0.95M346 67.5h0.95M348 67.5h0.95M349 67.5h0.95M352 67.5h0.95M327 68h0.95M328 68h0.95M329 68h0.95M329.5 68h0.95M330 68h0.95M330.5 68h0.95M331 68h0.95M331.5 68h0.95M332 68h0.95M332.5 68h0.95M333 68h0.95M333.5 68h0.95M334 68h0.95M334.5 68h0.95M335 68h0.95M335.5 68h0.95M336 68h0.95M336.5 68h0.95M337 68h0.95M337.5 68h0.95M338 68h0.95M338.5 68h0.95M339 68h0.95M339.5 68h0.95M340 68h0.95M340.5 68h0.95M341 68h0.95M341.5 68h0.95M342 68h0.95M342.5 68h0.95M344.5 68h0.95M346 68h0.95M347.5 68h0.95M349.5 68h0.95M327 68.5h0.95M327.5 68.5h0.95M328.5 68.5h0.95M329 68.5h0.95M329.5 68.5h0.95M330.5 68.5h0.95M331 68.5h0.95M331.5 68.5h0.95M332 68.5h0.95M332.5 68.5h0.95M333 68.5h0.95M333.5 68.5h0.95M334 68.5h0.95M334.5 68.5h0.95M335 68.5h0.95M335.5 68.5h0.95M336 68.5h0.95M336.5 68.5h0.95M337 68.5h0.95M337.5 68.5h0.95M338 68.5h0.95M338.5 68.5h0.95M339 68.5h0.95M339.5 68.5h0.95M340 68.5h0.95M340.5 68.5h0.95M341.5 68.5h0.95M342 68.5h0.95M342.5 68.5h0.95M343 68.5h0.95M343.5 68.5h0.95M344 68.5h0.95M344.5 68.5h0.95M345.5 68.5h0.95M346.5 68.5h0.95M347.5 68.5h0.95M327 69h0.95M328 69h0.95M328.5 69h0.95M329 69h0.95M329.5 69h0.95M330 69h0.95M330.5 69h0.95M331 69h0.95M331.5 69h0.95M332 69h0.95M332.5 69h0.95M333 69h0.95M333.5 69h0.95M334 69h0.95M334.5 69h0.95M335 69h0.95M335.5 69h0.95M336 69h0.95M336.5 69h0.95M337 69h0.95M337.5 69h0.95M338 69h0.95M338.5 69h0.95M339 69h0.95M339.5 69h0.95M340 69h0.95M340.5 69h0.95M341 69h0.95M341.5 69h0.95M342.5 69h0.95M343.5 69h0.95M344 69h0.95M345 69h0.95M346 69h0.95M327 69.5h0.95M327.5 69.5h0.95M328 69.5h0.95M331 69.5h0.95M331.5 69.5h0.95M332 69.5h0.95M332.5 69.5h0.95M333 69.5h0.95M333.5 69.5h0.95M334 69.5h0.95M335 69.5h0.95M335.5 69.5h0.95M336 69.5h0.95M336.5 69.5h0.95M337 69.5h0.95M337.5 69.5h0.95M338 69.5h0.95M339 69.5h0.95M340.5 69.5h0.95M341 69.5h0.95M341.5 69.5h0.95M342 69.5h0.95M345.5 69.5h0.95M346.5 69.5h0.95M347.5 69.5h0.95M327 70h0.95M327.5 70h0.95M328.5 70h0.95M329.5 70h0.95M330 70h0.95M330.5 70h0.95M331 70h0.95M331.5 70h0.95M332 70h0.95M332.5 70h0.95M333 70h0.95M333.5 70h0.95M334 70h0.95M334.5 70h0.95M335.5 70h0.95M336 70h0.95M336.5 70h0.95M338 70h0.95M338.5 70h0.95M339 70h0.95M339.5 70h0.95M340 70h0.95M341 70h0.95M342 70h0.95M342.5 70h0.95M343 70h0.95M345.5 70h0.95M348.5 70h0.95M327 70.5h0.95M327.5 70.5h0.95M328 70.5h0.95M329.5 70.5h0.95M330 70.5h0.95M331 70.5h0.95M331.5 70.5h0.95M332 70.5h0.95M332.5 70.5h0.95M333 70.5h0.95M333.5 70.5h0.95M334 70.5h0.95M334.5 70.5h0.95M335 70.5h0.95M335.5 70.5h0.95M336 70.5h0.95M336.5 70.5h0.95M337 70.5h0.95M337.5 70.5h0.95M338 70.5h0.95M338.5 70.5h0.95M339 70.5h0.95M340 70.5h0.95M340.5 70.5h0.95M342 70.5h0.95M343.5 70.5h0.95M327 71h0.95M327.5 71h0.95M328 71h0.95M329.5 71h0.95M330 71h0.95M331.5 71h0.95M332 71h0.95M332.5 71h0.95M333 71h0.95M333.5 71h0.95M334 71h0.95M334.5 71h0.95M335 71h0.95M336 71h0.95M336.5 71h0.95M337 71h0.95M337.5 71h0.95M338.5 71h0.95M339 71h0.95M339.5 71h0.95M340 71h0.95M340.5 71h0.95M341.5 71h0.95M343 71h0.95M343.5 71h0.95M344 71h0.95M345.5 71h0.95M346.5 71h0.95M347 71h0.95M329.5 71.5h0.95M330.5 71.5h0.95M331 71.5h0.95M331.5 71.5h0.95M332 71.5h0.95M332.5 71.5h0.95M333 71.5h0.95M333.5 71.5h0.95M334 71.5h0.95M334.5 71.5h0.95M336 71.5h0.95M337 71.5h0.95M338.5 71.5h0.95M340 71.5h0.95M340.5 71.5h0.95M341.5 71.5h0.95M342.5 71.5h0.95M344.5 71.5h0.95M328.5 72h0.95M329 72h0.95M330 72h0.95M332.5 72h0.95M333 72h0.95M333.5 72h0.95M334 72h0.95M334.5 72h0.95M335.5 72h0.95M336.5 72h0.95M337 72h0.95M338.5 72h0.95M341 72h0.95M342 72h0.95M329 72.5h0.95M330 72.5h0.95M330.5 72.5h0.95M333.5 72.5h0.95M334.5 72.5h0.95M335 72.5h0.95M335.5 72.5h0.95M336.5 72.5h0.95M337 72.5h0.95M337.5 72.5h0.95M338.5 72.5h0.95M339.5 72.5h0.95M341 72.5h0.95M331 73h0.95M333 73h0.95M333.5 73h0.95M334 73h0.95M334.5 73h0.95M335.5 73h0.95M337 73h0.95M338 73h0.95M338.5 73h0.95M339 73h0.95M342.5 73h0.95M327 73.5h0.95M328 73.5h0.95M334.5 73.5h0.95M335 73.5h0.95M335.5 73.5h0.95M337 73.5h0.95M341 73.5h0.95M343.5 73.5h0.95M332.5 74h0.95M327 74.5h0.95M331.5 74.5h0.95M334 74.5h0.95M335.5 74.5h0.95M346 74.5h0.95M335.5 75h0.95M329.5 75.5h0.95M329 76.5h0.95M340 77h0.95M369 79h0.95M365.5 80.5h0.95M369 80.5h0.95M373 80.5h0.95M370.5 81h0.95M371.5 81h0.95M374 81h0.95M376.5 81h0.95M366.5 82h0.95M369 82h0.95M371 82h0.95M371.5 82h0.95M374.5 82h0.95M364.5 82.5h0.95M371.5 82.5h0.95M372 82.5h0.95M367 83h0.95M369 83h0.95M371.5 83h0.95M372 83h0.95M372.5 83h0.95M376 83h0.95M368.5 83.5h0.95M369.5 83.5h0.95M370.5 83.5h0.95M371 83.5h0.95M371.5 83.5h0.95M372.5 83.5h0.95M373.5 83.5h0.95M374 83.5h0.95M360.5 84h0.95M368 84h0.95M369 84h0.95M369.5 84h0.95M371 84h0.95M371.5 84h0.95M372 84h0.95M372.5 84h0.95M376 84h0.95M369 84.5h0.95M370 84.5h0.95M371 84.5h0.95M371.5 84.5h0.95M372 84.5h0.95M372.5 84.5h0.95M373.5 84.5h0.95M374.5 84.5h0.95M376.5 84.5h0.95M362.5 85h0.95M369.5 85h0.95M370 85h0.95M371 85h0.95M372 85h0.95M372.5 85h0.95M373.5 85h0.95M374 85h0.95M375 85h0.95M375.5 85h0.95M376 85h0.95M376.5 85h0.95M367 85.5h0.95M368 85.5h0.95M370.5 85.5h0.95M371 85.5h0.95M372 85.5h0.95M372.5 85.5h0.95M373.5 85.5h0.95M374.5 85.5h0.95M376 85.5h0.95M377.5 85.5h0.95M364.5 86h0.95M365 86h0.95M367.5 86h0.95M369 86h0.95M369.5 86h0.95M370 86h0.95M370.5 86h0.95M371 86h0.95M371.5 86h0.95M372.5 86h0.95M362.5 86.5h0.95M363 86.5h0.95M367 86.5h0.95M368.5 86.5h0.95M369 86.5h0.95M369.5 86.5h0.95M370 86.5h0.95M370.5 86.5h0.95M371 86.5h0.95M371.5 86.5h0.95M372 86.5h0.95M372.5 86.5h0.95M373 86.5h0.95M373.5 86.5h0.95M374 86.5h0.95M374.5 86.5h0.95M375 86.5h0.95M375.5 86.5h0.95M367 87h0.95M368.5 87h0.95M369 87h0.95M369.5 87h0.95M370 87h0.95M370.5 87h0.95M371 87h0.95M371.5 87h0.95M372 87h0.95M372.5 87h0.95M373 87h0.95M374 87h0.95M375 87h0.95M363 87.5h0.95M364.5 87.5h0.95M367 87.5h0.95M367.5 87.5h0.95M368.5 87.5h0.95M369 87.5h0.95M370 87.5h0.95M370.5 87.5h0.95M371 87.5h0.95M372 87.5h0.95M372.5 87.5h0.95M373 87.5h0.95M373.5 87.5h0.95M374 87.5h0.95M375.5 87.5h0.95M364 88h0.95M366 88h0.95M367 88h0.95M367.5 88h0.95M368 88h0.95M368.5 88h0.95M369 88h0.95M369.5 88h0.95M370 88h0.95M370.5 88h0.95M371 88h0.95M371.5 88h0.95M372 88h0.95M372.5 88h0.95M373 88h0.95M373.5 88h0.95M375 88h0.95M375.5 88h0.95M376 88h0.95M364 88.5h0.95M364.5 88.5h0.95M365.5 88.5h0.95M366 88.5h0.95M367 88.5h0.95M367.5 88.5h0.95M368.5 88.5h0.95M369 88.5h0.95M370 88.5h0.95M370.5 88.5h0.95M371 88.5h0.95M371.5 88.5h0.95M372 88.5h0.95M372.5 88.5h0.95M373 88.5h0.95M373.5 88.5h0.95M374 88.5h0.95M374.5 88.5h0.95M375 88.5h0.95M375.5 88.5h0.95M376.5 88.5h0.95M363 89h0.95M365 89h0.95M368.5 89h0.95M369 89h0.95M369.5 89h0.95M370 89h0.95M370.5 89h0.95M371 89h0.95M371.5 89h0.95M372 89h0.95M372.5 89h0.95M373 89h0.95M373.5 89h0.95M374 89h0.95M374.5 89h0.95M375.5 89h0.95M376 89h0.95M376.5 89h0.95M377 89h0.95M361.5 89.5h0.95M364 89.5h0.95M366 89.5h0.95M366.5 89.5h0.95M367.5 89.5h0.95M368 89.5h0.95M368.5 89.5h0.95M369 89.5h0.95M369.5 89.5h0.95M370 89.5h0.95M370.5 89.5h0.95M371 89.5h0.95M371.5 89.5h0.95M372 89.5h0.95M372.5 89.5h0.95M373 89.5h0.95M373.5 89.5h0.95M374 89.5h0.95M375 89.5h0.95M358 90h0.95M364.5 90h0.95M366.5 90h0.95M367 90h0.95M368 90h0.95M368.5 90h0.95M369 90h0.95M369.5 90h0.95M370 90h0.95M370.5 90h0.95M371 90h0.95M371.5 90h0.95M372 90h0.95M372.5 90h0.95M373 90h0.95M374 90h0.95M374.5 90h0.95M375 90h0.95M375.5 90h0.95M376 90h0.95M379 90h0.95M361.5 90.5h0.95M362 90.5h0.95M367.5 90.5h0.95M368 90.5h0.95M368.5 90.5h0.95M369 90.5h0.95M369.5 90.5h0.95M370 90.5h0.95M370.5 90.5h0.95M371 90.5h0.95M371.5 90.5h0.95M372 90.5h0.95M372.5 90.5h0.95M373 90.5h0.95M373.5 90.5h0.95M374 90.5h0.95M374.5 90.5h0.95M361.5 91h0.95M364 91h0.95M364.5 91h0.95M365 91h0.95M365.5 91h0.95M366.5 91h0.95M367 91h0.95M367.5 91h0.95M368 91h0.95M368.5 91h0.95M369 91h0.95M369.5 91h0.95M370 91h0.95M370.5 91h0.95M371 91h0.95M371.5 91h0.95M372 91h0.95M372.5 91h0.95M373 91h0.95M373.5 91h0.95M374 91h0.95M374.5 91h0.95M375 91h0.95M375.5 91h0.95M376.5 91h0.95M365.5 91.5h0.95M366.5 91.5h0.95M367.5 91.5h0.95M368 91.5h0.95M368.5 91.5h0.95M369 91.5h0.95M369.5 91.5h0.95M370 91.5h0.95M370.5 91.5h0.95M371 91.5h0.95M371.5 91.5h0.95M372 91.5h0.95M372.5 91.5h0.95M373 91.5h0.95M373.5 91.5h0.95M374 91.5h0.95M374.5 91.5h0.95M375 91.5h0.95M375.5 91.5h0.95M376 91.5h0.95M378.5 91.5h0.95M361 92h0.95M364 92h0.95M364.5 92h0.95M366 92h0.95M367 92h0.95M367.5 92h0.95M368 92h0.95M368.5 92h0.95M369.5 92h0.95M370 92h0.95M370.5 92h0.95M371 92h0.95M371.5 92h0.95M372 92h0.95M372.5 92h0.95M373 92h0.95M373.5 92h0.95M374 92h0.95M374.5 92h0.95M375 92h0.95M375.5 92h0.95M376 92h0.95M377 92h0.95M378.5 92h0.95M362.5 92.5h0.95M363 92.5h0.95M363.5 92.5h0.95M365 92.5h0.95M365.5 92.5h0.95M366.5 92.5h0.95M367.5 92.5h0.95M368 92.5h0.95M368.5 92.5h0.95M369 92.5h0.95M369.5 92.5h0.95M370 92.5h0.95M370.5 92.5h0.95M371 92.5h0.95M371.5 92.5h0.95M372 92.5h0.95M372.5 92.5h0.95M373 92.5h0.95M373.5 92.5h0.95M374 92.5h0.95M374.5 92.5h0.95M375 92.5h0.95M375.5 92.5h0.95M376 92.5h0.95M376.5 92.5h0.95M363.5 93h0.95M364 93h0.95M366 93h0.95M366.5 93h0.95M367 93h0.95M367.5 93h0.95M368 93h0.95M368.5 93h0.95M369 93h0.95M369.5 93h0.95M370 93h0.95M370.5 93h0.95M371 93h0.95M371.5 93h0.95M372 93h0.95M372.5 93h0.95M373 93h0.95M373.5 93h0.95M374 93h0.95M374.5 93h0.95M376.5 93h0.95M377.5 93h0.95M358.5 93.5h0.95M362.5 93.5h0.95M363.5 93.5h0.95M364 93.5h0.95M365.5 93.5h0.95M366 93.5h0.95M367 93.5h0.95M367.5 93.5h0.95M368 93.5h0.95M368.5 93.5h0.95M369 93.5h0.95M369.5 93.5h0.95M370 93.5h0.95M370.5 93.5h0.95M371 93.5h0.95M371.5 93.5h0.95M372 93.5h0.95M372.5 93.5h0.95M373 93.5h0.95M373.5 93.5h0.95M374 93.5h0.95M374.5 93.5h0.95M375.5 93.5h0.95M376 93.5h0.95M376.5 93.5h0.95M363 94h0.95M363.5 94h0.95M364 94h0.95M365 94h0.95M365.5 94h0.95M366 94h0.95M366.5 94h0.95M367 94h0.95M367.5 94h0.95M368 94h0.95M368.5 94h0.95M369 94h0.95M369.5 94h0.95M370 94h0.95M370.5 94h0.95M371 94h0.95M371.5 94h0.95M372 94h0.95M372.5 94h0.95M373 94h0.95M373.5 94h0.95M374 94h0.95M375 94h0.95M375.5 94h0.95M376 94h0.95M376.5 94h0.95M357 94.5h0.95M362.5 94.5h0.95M365 94.5h0.95M365.5 94.5h0.95M366.5 94.5h0.95M367.5 94.5h0.95M369 94.5h0.95M369.5 94.5h0.95M370.5 94.5h0.95M371 94.5h0.95M371.5 94.5h0.95M372 94.5h0.95M373 94.5h0.95M373.5 94.5h0.95M374 94.5h0.95M374.5 94.5h0.95M375 94.5h0.95M376 94.5h0.95M363 95h0.95M364.5 95h0.95M365.5 95h0.95M366 95h0.95M367 95h0.95M368 95h0.95M368.5 95h0.95M369 95h0.95M369.5 95h0.95M370 95h0.95M370.5 95h0.95M371 95h0.95M371.5 95h0.95M372 95h0.95M372.5 95h0.95M373 95h0.95M373.5 95h0.95M374 95h0.95M374.5 95h0.95M375 95h0.95M375.5 95h0.95M376 95h0.95M376.5 95h0.95M380.5 95h0.95M362.5 95.5h0.95M364 95.5h0.95M365 95.5h0.95M366 95.5h0.95M366.5 95.5h0.95M367.5 95.5h0.95M368 95.5h0.95M368.5 95.5h0.95M369 95.5h0.95M369.5 95.5h0.95M370 95.5h0.95M370.5 95.5h0.95M371 95.5h0.95M371.5 95.5h0.95M372 95.5h0.95M372.5 95.5h0.95M373 95.5h0.95M373.5 95.5h0.95M374 95.5h0.95M374.5 95.5h0.95M375 95.5h0.95M375.5 95.5h0.95M376 95.5h0.95M380 95.5h0.95M364.5 96h0.95M365.5 96h0.95M366 96h0.95M366.5 96h0.95M367 96h0.95M368 96h0.95M368.5 96h0.95M369 96h0.95M369.5 96h0.95M370 96h0.95M370.5 96h0.95M371 96h0.95M371.5 96h0.95M372 96h0.95M372.5 96h0.95M373 96h0.95M373.5 96h0.95M374 96h0.95M374.5 96h0.95M375 96h0.95M375.5 96h0.95M376.5 96h0.95M360.5 96.5h0.95M363 96.5h0.95M364.5 96.5h0.95M365 96.5h0.95M366.5 96.5h0.95M367 96.5h0.95M367.5 96.5h0.95M368 96.5h0.95M368.5 96.5h0.95M369 96.5h0.95M369.5 96.5h0.95M370 96.5h0.95M370.5 96.5h0.95M371 96.5h0.95M371.5 96.5h0.95M372 96.5h0.95M372.5 96.5h0.95M373 96.5h0.95M373.5 96.5h0.95M374 96.5h0.95M374.5 96.5h0.95M375 96.5h0.95M375.5 96.5h0.95M376.5 96.5h0.95M364.5 97h0.95M365 97h0.95M365.5 97h0.95M366 97h0.95M366.5 97h0.95M367.5 97h0.95M368 97h0.95M368.5 97h0.95M369.5 97h0.95M370 97h0.95M370.5 97h0.95M371 97h0.95M371.5 97h0.95M372 97h0.95M372.5 97h0.95M373 97h0.95M373.5 97h0.95M374 97h0.95M374.5 97h0.95M375 97h0.95M375.5 97h0.95M376 97h0.95M376.5 97h0.95M360.5 97.5h0.95M362 97.5h0.95M362.5 97.5h0.95M364 97.5h0.95M365 97.5h0.95M366.5 97.5h0.95M367 97.5h0.95M367.5 97.5h0.95M368 97.5h0.95M368.5 97.5h0.95M369.5 97.5h0.95M370 97.5h0.95M370.5 97.5h0.95M371 97.5h0.95M371.5 97.5h0.95M372 97.5h0.95M372.5 97.5h0.95M373 97.5h0.95M373.5 97.5h0.95M374 97.5h0.95M375 97.5h0.95M375.5 97.5h0.95M377 97.5h0.95M362 98h0.95M366 98h0.95M367.5 98h0.95M368 98h0.95M368.5 98h0.95M369 98h0.95M369.5 98h0.95M370 98h0.95M370.5 98h0.95M371 98h0.95M371.5 98h0.95M372 98h0.95M372.5 98h0.95M373 98h0.95M373.5 98h0.95M374 98h0.95M374.5 98h0.95M375 98h0.95M375.5 98h0.95M376 98h0.95M359 98.5h0.95M363 98.5h0.95M365.5 98.5h0.95M366 98.5h0.95M366.5 98.5h0.95M367 98.5h0.95M367.5 98.5h0.95M368 98.5h0.95M368.5 98.5h0.95M369 98.5h0.95M370 98.5h0.95M370.5 98.5h0.95M371 98.5h0.95M371.5 98.5h0.95M372 98.5h0.95M374 98.5h0.95M374.5 98.5h0.95M375.5 98.5h0.95M376.5 98.5h0.95M362.5 99h0.95M365 99h0.95M366 99h0.95M366.5 99h0.95M367 99h0.95M368 99h0.95M369.5 99h0.95M370 99h0.95M370.5 99h0.95M371 99h0.95M371.5 99h0.95M372 99h0.95M373.5 99h0.95M374 99h0.95M374.5 99h0.95M376 99h0.95M365 99.5h0.95M365.5 99.5h0.95M366.5 99.5h0.95M367.5 99.5h0.95M368 99.5h0.95M368.5 99.5h0.95M369 99.5h0.95M370 99.5h0.95M370.5 99.5h0.95M371.5 99.5h0.95M372 99.5h0.95M372.5 99.5h0.95M373 99.5h0.95M373.5 99.5h0.95M374 99.5h0.95M375.5 99.5h0.95M380 99.5h0.95M363.5 100h0.95M365 100h0.95M365.5 100h0.95M368 100h0.95M369 100h0.95M369.5 100h0.95M370 100h0.95M370.5 100h0.95M371.5 100h0.95M372 100h0.95M372.5 100h0.95M373 100h0.95M376.5 100h0.95M360.5 100.5h0.95M362 100.5h0.95M363.5 100.5h0.95M364 100.5h0.95M365 100.5h0.95M366 100.5h0.95M367.5 100.5h0.95M368 100.5h0.95M369 100.5h0.95M369.5 100.5h0.95M370 100.5h0.95M370.5 100.5h0.95M371 100.5h0.95M371.5 100.5h0.95M372 100.5h0.95M372.5 100.5h0.95M373.5 100.5h0.95M374.5 100.5h0.95M375 100.5h0.95M362.5 101h0.95M366 101h0.95M368.5 101h0.95M369.5 101h0.95M370 101h0.95M371 101h0.95M371.5 101h0.95M372 101h0.95M372.5 101h0.95M373 101h0.95M373.5 101h0.95M374 101h0.95M375.5 101h0.95M377 101h0.95M363.5 101.5h0.95M365 101.5h0.95M366.5 101.5h0.95M368 101.5h0.95M368.5 101.5h0.95M369 101.5h0.95M370 101.5h0.95M370.5 101.5h0.95M371.5 101.5h0.95M372.5 101.5h0.95M373.5 101.5h0.95M376.5 101.5h0.95M363.5 102h0.95M366 102h0.95M366.5 102h0.95M370 102h0.95M370.5 102h0.95M371.5 102h0.95M373.5 102h0.95M374 102h0.95M376.5 102h0.95M365.5 102.5h0.95M366 102.5h0.95M369 102.5h0.95M369.5 102.5h0.95M370 102.5h0.95M370.5 102.5h0.95M371 102.5h0.95M373 102.5h0.95M374 102.5h0.95M362 103h0.95M367 103h0.95M368.5 103h0.95M369.5 103h0.95M372 103h0.95M365 103.5h0.95M370.5 103.5h0.95M371 103.5h0.95M372.5 103.5h0.95M373 103.5h0.95M374 103.5h0.95M364 104h0.95M365.5 104h0.95M368 104h0.95M369.5 104h0.95M376.5 104h0.95M366.5 104.5h0.95M370 104.5h0.95M370.5 104.5h0.95M366 105h0.95M370 105h0.95M370.5 105h0.95M372.5 105h0.95M362.5 106h0.95M363.5 106h0.95M369 106h0.95M379 106h0.95M372 107h0.95M363 107.5h0.95M367 107.5h0.95M369.5 107.5h0.95" stroke="#000" stroke-width="0.95" fill="none"/>
<line x1="347.5" y1="41.5" x2="347.5" y2="108" stroke="#5c5c5c" stroke-width="1.2"/>
<line x1="326.5" y1="83.4" x2="398.5" y2="83.4" stroke="#5c5c5c" stroke-width="1.2"/>
<line x1="326.5" y1="41.5" x2="398.5" y2="41.5" stroke="#777" stroke-width="1"/>
<line x1="398.5" y1="41.5" x2="398.5" y2="108" stroke="#8a8a8a" stroke-width="1"/>
<line x1="326.5" y1="41" x2="326.5" y2="108.5" stroke="#222" stroke-width="1"/>
<line x1="326" y1="108" x2="399" y2="108" stroke="#222" stroke-width="1"/>
<path d="M326.5 108v2.2M326.5 108h-2.2M331.92 108v1.3M326.5 103h-1.3M335.09 108v1.3M326.5 100.07h-1.3M337.34 108v1.3M326.5 97.99h-1.3M339.08 108v1.3M326.5 96.38h-1.3M340.51 108v1.3M326.5 95.06h-1.3M341.71 108v1.3M326.5 93.95h-1.3M342.76 108v1.3M326.5 92.99h-1.3M343.68 108v1.3M326.5 92.14h-1.3M344.5 108v2.2M326.5 91.38h-2.2M349.92 108v1.3M326.5 86.37h-1.3M353.09 108v1.3M326.5 83.44h-1.3M355.34 108v1.3M326.5 81.37h-1.3M357.08 108v1.3M326.5 79.75h-1.3M358.51 108v1.3M326.5 78.44h-1.3M359.71 108v1.3M326.5 77.33h-1.3M360.76 108v1.3M326.5 76.36h-1.3M361.68 108v1.3M326.5 75.51h-1.3M362.5 108v2.2M326.5 74.75h-2.2M367.92 108v1.3M326.5 69.75h-1.3M371.09 108v1.3M326.5 66.82h-1.3M373.34 108v1.3M326.5 64.74h-1.3M375.08 108v1.3M326.5 63.13h-1.3M376.51 108v1.3M326.5 61.81h-1.3M377.71 108v1.3M326.5 60.7h-1.3M378.76 108v1.3M326.5 59.74h-1.3M379.68 108v1.3M326.5 58.89h-1.3M380.5 108v2.2M326.5 58.12h-2.2M385.92 108v1.3M326.5 53.12h-1.3M389.09 108v1.3M326.5 50.19h-1.3M391.34 108v1.3M326.5 48.12h-1.3M393.08 108v1.3M326.5 46.5h-1.3M394.51 108v1.3M326.5 45.19h-1.3M395.71 108v1.3M326.5 44.08h-1.3M396.76 108v1.3M326.5 43.11h-1.3M397.68 108v1.3M326.5 42.26h-1.3M398.5 108v2.2M326.5 41.5h-2.2" stroke="#222" stroke-width="0.7" fill="none"/>
<text x="322.24" y="116.04" font-size="5.2" fill="#111">10<tspan dy="-2.34" font-size="4.37">0</tspan></text>
<text x="322.4" y="112.68" font-size="5.2" fill="#111" transform="rotate(-90 322.4 112.68)">10<tspan dy="-2.34" font-size="4.37">0</tspan></text>
<text x="340.24" y="116.04" font-size="5.2" fill="#111">10<tspan dy="-2.34" font-size="4.37">1</tspan></text>
<text x="322.4" y="96.06" font-size="5.2" fill="#111" transform="rotate(-90 322.4 96.06)">10<tspan dy="-2.34" font-size="4.37">1</tspan></text>
<text x="358.24" y="116.04" font-size="5.2" fill="#111">10<tspan dy="-2.34" font-size="4.37">2</tspan></text>
<text x="322.4" y="79.43" font-size="5.2" fill="#111" transform="rotate(-90 322.4 79.43)">10<tspan dy="-2.34" font-size="4.37">2</tspan></text>
<text x="376.24" y="116.04" font-size="5.2" fill="#111">10<tspan dy="-2.34" font-size="4.37">3</tspan></text>
<text x="322.4" y="62.8" font-size="5.2" fill="#111" transform="rotate(-90 322.4 62.8)">10<tspan dy="-2.34" font-size="4.37">3</tspan></text>
<text x="394.24" y="116.04" font-size="5.2" fill="#111">10<tspan dy="-2.34" font-size="4.37">4</tspan></text>
<text x="322.4" y="46.18" font-size="5.2" fill="#111" transform="rotate(-90 322.4 46.18)">10<tspan dy="-2.34" font-size="4.37">4</tspan></text>
<text x="331.5" y="38.2" font-size="17.2" font-weight="bold">F</text>
<text x="311.3" y="72" font-size="13.5" text-anchor="middle" transform="rotate(-90 311.3 72)">CD4</text>
<text x="363.5" y="131.3" font-size="13.8" text-anchor="middle">CD8</text>
<path d="M480 55.5h0.72M488.5 58h0.72M480.5 58.5h0.72M489 58.5h0.72M485 61h0.72M483.5 61.5h0.72M484 62.5h0.72M485 62.5h0.72M463.5 63h0.72M484.5 63h0.72M494 63h0.72M489.5 63.5h0.72M461.5 64h0.72M481 64h0.72M484 64h0.72M485 64h0.72M481 64.5h0.72M484 64.5h0.72M492 64.5h0.72M482 65h0.72M484.5 65h0.72M461.5 65.5h0.72M479.5 65.5h0.72M481.5 65.5h0.72M488 65.5h0.72M480.5 66h0.72M482 66h0.72M483.5 66h0.72M485 66h0.72M488 66h0.72M490.5 66h0.72M492 66h0.72M485 66.5h0.72M485.5 66.5h0.72M488 66.5h0.72M483 67h0.72M483.5 67h0.72M484.5 67h0.72M486.5 67h0.72M487 67h0.72M490.5 67h0.72M464 67.5h0.72M481 67.5h0.72M481.5 67.5h0.72M483 67.5h0.72M484.5 67.5h0.72M485 67.5h0.72M487 67.5h0.72M488 67.5h0.72M491.5 67.5h0.72M468 68h0.72M490.5 68h0.72M494.5 68h0.72M456.5 68.5h0.72M480.5 68.5h0.72M481.5 68.5h0.72M486 68.5h0.72M486.5 68.5h0.72M499.5 68.5h0.72M476 69h0.72M482.5 69h0.72M484 69h0.72M490 69h0.72M490.5 69h0.72M463 69.5h0.72M470 69.5h0.72M473.5 69.5h0.72M485 69.5h0.72M489 69.5h0.72M491 69.5h0.72M458.5 70h0.72M461.5 70h0.72M480.5 70h0.72M481.5 70h0.72M487.5 70h0.72M492.5 70h0.72M476.5 70.5h0.72M480 70.5h0.72M481 70.5h0.72M491.5 70.5h0.72M454 71h0.72M457 71h0.72M464.5 71h0.72M474.5 71h0.72M480.5 71h0.72M481 71h0.72M482 71h0.72M494.5 71h0.72M457.5 71.5h0.72M470 71.5h0.72M490.5 71.5h0.72M446 72h0.72M448 72h0.72M459.5 72h0.72M463.5 72h0.72M473 72h0.72M478.5 72h0.72M480.5 72h0.72M488 72h0.72M488.5 72h0.72M448.5 72.5h0.72M454.5 72.5h0.72M457 72.5h0.72M459.5 72.5h0.72M467.5 72.5h0.72M475 72.5h0.72M476 72.5h0.72M481.5 72.5h0.72M491 72.5h0.72M452 73h0.72M466 73h0.72M481.5 73h0.72M447.5 73.5h0.72M457 73.5h0.72M464 73.5h0.72M467 73.5h0.72M473 73.5h0.72M479 73.5h0.72M445.5 74h0.72M451.5 74h0.72M455 74h0.72M461 74h0.72M464 74h0.72M468 74h0.72M470.5 74h0.72M478.5 74h0.72M480.5 74h0.72M492 74h0.72M444 74.5h0.72M448 74.5h0.72M449 74.5h0.72M453 74.5h0.72M468.5 74.5h0.72M473 74.5h0.72M493.5 74.5h0.72M453 75h0.72M454.5 75h0.72M457 75h0.72M457.5 75h0.72M458.5 75h0.72M469.5 75h0.72M472.5 75h0.72M473.5 75h0.72M481 75h0.72M481.5 75h0.72M490.5 75h0.72M443 75.5h0.72M446.5 75.5h0.72M447.5 75.5h0.72M451 75.5h0.72M466 75.5h0.72M478 75.5h0.72M491.5 75.5h0.72M447 76h0.72M448.5 76h0.72M452.5 76h0.72M455.5 76h0.72M456 76h0.72M459 76h0.72M462 76h0.72M463 76h0.72M466.5 76h0.72M471.5 76h0.72M473.5 76h0.72M474.5 76h0.72M476.5 76h0.72M479.5 76h0.72M480 76h0.72M494 76h0.72M446.5 76.5h0.72M455.5 76.5h0.72M457 76.5h0.72M457.5 76.5h0.72M461 76.5h0.72M464 76.5h0.72M469.5 76.5h0.72M470 76.5h0.72M471.5 76.5h0.72M473.5 76.5h0.72M475 76.5h0.72M450 77h0.72M452 77h0.72M459.5 77h0.72M461.5 77h0.72M462 77h0.72M464 77h0.72M465.5 77h0.72M470 77h0.72M473 77h0.72M473.5 77h0.72M475.5 77h0.72M478 77h0.72M488 77h0.72M452 77.5h0.72M452.5 77.5h0.72M455 77.5h0.72M457.5 77.5h0.72M459 77.5h0.72M460.5 77.5h0.72M463.5 77.5h0.72M465 77.5h0.72M468 77.5h0.72M468.5 77.5h0.72M470 77.5h0.72M470.5 77.5h0.72M473 77.5h0.72M473.5 77.5h0.72M478 77.5h0.72M479.5 77.5h0.72M483 77.5h0.72M450 78h0.72M455 78h0.72M457.5 78h0.72M458.5 78h0.72M467.5 78h0.72M468 78h0.72M469 78h0.72M470 78h0.72M474.5 78h0.72M476.5 78h0.72M489.5 78h0.72M448 78.5h0.72M449.5 78.5h0.72M459 78.5h0.72M462.5 78.5h0.72M463.5 78.5h0.72M464.5 78.5h0.72M469.5 78.5h0.72M474.5 78.5h0.72M475.5 78.5h0.72M476 78.5h0.72M477.5 78.5h0.72M479 78.5h0.72M448.5 79h0.72M450.5 79h0.72M452 79h0.72M452.5 79h0.72M455.5 79h0.72M463 79h0.72M464 79h0.72M465.5 79h0.72M471.5 79h0.72M478.5 79h0.72M479 79h0.72M480 79h0.72M448.5 79.5h0.72M452 79.5h0.72M456 79.5h0.72M458.5 79.5h0.72M460 79.5h0.72M462 79.5h0.72M463.5 79.5h0.72M471.5 79.5h0.72M472.5 79.5h0.72M476 79.5h0.72M447.5 80h0.72M449 80h0.72M450 80h0.72M451 80h0.72M455 80h0.72M456 80h0.72M462 80h0.72M464 80h0.72M470.5 80h0.72M475.5 80h0.72M476.5 80h0.72M477.5 80h0.72M444.5 80.5h0.72M445.5 80.5h0.72M447.5 80.5h0.72M448 80.5h0.72M449.5 80.5h0.72M452 80.5h0.72M455.5 80.5h0.72M462.5 80.5h0.72M464 80.5h0.72M464.5 80.5h0.72M468.5 80.5h0.72M471 80.5h0.72M472 80.5h0.72M473.5 80.5h0.72M478 80.5h0.72M446.5 81h0.72M448.5 81h0.72M449.5 81h0.72M461.5 81h0.72M463 81h0.72M473 81h0.72M479.5 81h0.72M447.5 81.5h0.72M452.5 81.5h0.72M453 81.5h0.72M462 81.5h0.72M467 81.5h0.72M468 81.5h0.72M468.5 81.5h0.72M470.5 81.5h0.72M471.5 81.5h0.72M477.5 81.5h0.72M443 82h0.72M446 82h0.72M446.5 82h0.72M447.5 82h0.72M454.5 82h0.72M456 82h0.72M461 82h0.72M463.5 82h0.72M466 82h0.72M467.5 82h0.72M487 82h0.72M492 82h0.72M495 82h0.72M446.5 82.5h0.72M448 82.5h0.72M450 82.5h0.72M451.5 82.5h0.72M454.5 82.5h0.72M457 82.5h0.72M461.5 82.5h0.72M463.5 82.5h0.72M465.5 82.5h0.72M466.5 82.5h0.72M469 82.5h0.72M471 82.5h0.72M472.5 82.5h0.72M448.5 83h0.72M449 83h0.72M450.5 83h0.72M457 83h0.72M464 83h0.72M467 83h0.72M470.5 83h0.72M478.5 83h0.72M487 83h0.72M490 83h0.72M449 83.5h0.72M449.5 83.5h0.72M450 83.5h0.72M454 83.5h0.72M459 83.5h0.72M459.5 83.5h0.72M461 83.5h0.72M462.5 83.5h0.72M466 83.5h0.72M471 83.5h0.72M472 83.5h0.72M472.5 83.5h0.72M485 83.5h0.72M489 83.5h0.72M497.5 83.5h0.72M446 84h0.72M447 84h0.72M448 84h0.72M448.5 84h0.72M450.5 84h0.72M451.5 84h0.72M452.5 84h0.72M453 84h0.72M453.5 84h0.72M454 84h0.72M455.5 84h0.72M457.5 84h0.72M458 84h0.72M458.5 84h0.72M459 84h0.72M461 84h0.72M468.5 84h0.72M469 84h0.72M481 84h0.72M481.5 84h0.72M493 84h0.72M445 84.5h0.72M446 84.5h0.72M447.5 84.5h0.72M448 84.5h0.72M450.5 84.5h0.72M452 84.5h0.72M453.5 84.5h0.72M456 84.5h0.72M462 84.5h0.72M464 84.5h0.72M466.5 84.5h0.72M469 84.5h0.72M471.5 84.5h0.72M474.5 84.5h0.72M480.5 84.5h0.72M481 84.5h0.72M443.5 85h0.72M444.5 85h0.72M449.5 85h0.72M450 85h0.72M450.5 85h0.72M452.5 85h0.72M455.5 85h0.72M457 85h0.72M459.5 85h0.72M461 85h0.72M463 85h0.72M467 85h0.72M472.5 85h0.72M480 85h0.72M480.5 85h0.72M481.5 85h0.72M443 85.5h0.72M446 85.5h0.72M446.5 85.5h0.72M448 85.5h0.72M450.5 85.5h0.72M451 85.5h0.72M453 85.5h0.72M454 85.5h0.72M458.5 85.5h0.72M459 85.5h0.72M462 85.5h0.72M468 85.5h0.72M468.5 85.5h0.72M475.5 85.5h0.72M478 85.5h0.72M480.5 85.5h0.72M484.5 85.5h0.72M443 86h0.72M448.5 86h0.72M450.5 86h0.72M455 86h0.72M458 86h0.72M459.5 86h0.72M465 86h0.72M465.5 86h0.72M468.5 86h0.72M469.5 86h0.72M443 86.5h0.72M449 86.5h0.72M451 86.5h0.72M452 86.5h0.72M452.5 86.5h0.72M454 86.5h0.72M457.5 86.5h0.72M458 86.5h0.72M458.5 86.5h0.72M460.5 86.5h0.72M462 86.5h0.72M462.5 86.5h0.72M490 86.5h0.72M443 87h0.72M448 87h0.72M449.5 87h0.72M451 87h0.72M453.5 87h0.72M457 87h0.72M459 87h0.72M459.5 87h0.72M463 87h0.72M490.5 87h0.72M491 87h0.72M443 87.5h0.72M446.5 87.5h0.72M448 87.5h0.72M448.5 87.5h0.72M449 87.5h0.72M450.5 87.5h0.72M453.5 87.5h0.72M455 87.5h0.72M456.5 87.5h0.72M459 87.5h0.72M462 87.5h0.72M477.5 87.5h0.72M485.5 87.5h0.72M448 88h0.72M448.5 88h0.72M454.5 88h0.72M455 88h0.72M456 88h0.72M456.5 88h0.72M458 88h0.72M459.5 88h0.72M460 88h0.72M461 88h0.72M462 88h0.72M463.5 88h0.72M464 88h0.72M469.5 88h0.72M473 88h0.72M482 88h0.72M493.5 88h0.72M450 88.5h0.72M453.5 88.5h0.72M457 88.5h0.72M458.5 88.5h0.72M461.5 88.5h0.72M468 88.5h0.72M470.5 88.5h0.72M490 88.5h0.72M445.5 89h0.72M450 89h0.72M450.5 89h0.72M451 89h0.72M455 89h0.72M457.5 89h0.72M458 89h0.72M462 89h0.72M464 89h0.72M468.5 89h0.72M483.5 89h0.72M486 89h0.72M496.5 89h0.72M448 89.5h0.72M452 89.5h0.72M453.5 89.5h0.72M458.5 89.5h0.72M461.5 89.5h0.72M472 89.5h0.72M448 90h0.72M448.5 90h0.72M450 90h0.72M451 90h0.72M451.5 90h0.72M453.5 90h0.72M455.5 90h0.72M458.5 90h0.72M460 90h0.72M460.5 90h0.72M464 90h0.72M479.5 90h0.72M443.5 90.5h0.72M449 90.5h0.72M454.5 90.5h0.72M455 90.5h0.72M455.5 90.5h0.72M456.5 90.5h0.72M457 90.5h0.72M462 90.5h0.72M463 90.5h0.72M464 90.5h0.72M468 90.5h0.72M446.5 91h0.72M455 91h0.72M458.5 91h0.72M460.5 91h0.72M461 91h0.72M462 91h0.72M462.5 91h0.72M463 91h0.72M464 91h0.72M467.5 91h0.72M493.5 91h0.72M494 91h0.72M500 91h0.72M449 91.5h0.72M456 91.5h0.72M457.5 91.5h0.72M467 91.5h0.72M481.5 91.5h0.72M450.5 92h0.72M451.5 92h0.72M454 92h0.72M456 92h0.72M461 92h0.72M461.5 92h0.72M467 92h0.72M468.5 92h0.72M485 92h0.72M489 92h0.72M449 92.5h0.72M450 92.5h0.72M460.5 92.5h0.72M461 92.5h0.72M463 92.5h0.72M463.5 92.5h0.72M475 92.5h0.72M481.5 92.5h0.72M444 93h0.72M451.5 93h0.72M458 93h0.72M459 93h0.72M461.5 93h0.72M462 93h0.72M465 93h0.72M466.5 93h0.72M451.5 93.5h0.72M452 93.5h0.72M455 93.5h0.72M456 93.5h0.72M460.5 93.5h0.72M465.5 93.5h0.72M450.5 94h0.72M451.5 94h0.72M458.5 94h0.72M466 94h0.72M484.5 94h0.72M444.5 94.5h0.72M451 94.5h0.72M452 94.5h0.72M455 94.5h0.72M459.5 94.5h0.72M463 94.5h0.72M464.5 94.5h0.72M449 95h0.72M454 95h0.72M454.5 95h0.72M460 95h0.72M469 95h0.72M480.5 95h0.72M445 95.5h0.72M452 95.5h0.72M456 95.5h0.72M459 95.5h0.72M465.5 95.5h0.72M466.5 95.5h0.72M485.5 95.5h0.72M443 96h0.72M447.5 96h0.72M450 96h0.72M454 96h0.72M453 96.5h0.72M457 96.5h0.72M463.5 96.5h0.72M473 96.5h0.72M487 96.5h0.72M446 97h0.72M456 97h0.72M456.5 97h0.72M464.5 97h0.72M467 97h0.72M470.5 97h0.72M463.5 97.5h0.72M478.5 97.5h0.72M458 98h0.72M460.5 98h0.72M469 98h0.72M470 98h0.72M495.5 98h0.72M460.5 98.5h0.72M468 98.5h0.72M471 98.5h0.72M458.5 99h0.72M462 99h0.72M464.5 99h0.72M465 99h0.72M495 99h0.72M445.5 99.5h0.72M459 99.5h0.72M464 99.5h0.72M453 100h0.72M457.5 100h0.72M458.5 100h0.72M462.5 100h0.72M467 100h0.72M451.5 100.5h0.72M452.5 100.5h0.72M457.5 100.5h0.72M471.5 101h0.72M452 101.5h0.72M457.5 101.5h0.72M497 101.5h0.72M455 102h0.72M460 102h0.72M460.5 102h0.72M478 102h0.72M452.5 102.5h0.72M443.5 103.5h0.72M449 104h0.72M475 104h0.72M477 104.5h0.72M454 105h0.72M472 105h0.72M459.5 105.5h0.72M443 106h0.72M446.5 106h0.72M449 106h0.72M499.5 106h0.72M452 106.5h0.72M485.5 106.5h0.72M453.5 107.5h0.72" stroke="#5a5a5a" stroke-width="0.72" fill="none"/>
<path d="M486 60.5h0.95M482 63h0.95M484.5 63.5h0.95M487.5 63.5h0.95M482 64h0.95M486.5 64h0.95M485.5 64.5h0.95M486 64.5h0.95M488 64.5h0.95M488.5 64.5h0.95M487 65h0.95M486 65.5h0.95M489 65.5h0.95M490 65.5h0.95M485.5 66h0.95M486.5 66h0.95M487 66h0.95M487.5 66h0.95M480.5 66.5h0.95M483 66.5h0.95M484 66.5h0.95M486 66.5h0.95M486.5 66.5h0.95M492.5 66.5h0.95M480 67h0.95M481.5 67h0.95M482 67h0.95M484 67h0.95M485.5 67h0.95M486 67h0.95M487.5 67h0.95M489 67h0.95M482 67.5h0.95M482.5 67.5h0.95M483.5 67.5h0.95M486.5 67.5h0.95M489 67.5h0.95M483.5 68h0.95M485 68h0.95M486 68h0.95M487 68h0.95M487.5 68h0.95M489 68h0.95M489.5 68h0.95M490 68h0.95M480 68.5h0.95M482.5 68.5h0.95M484 68.5h0.95M485.5 68.5h0.95M490.5 68.5h0.95M491 68.5h0.95M480.5 69h0.95M482 69h0.95M483.5 69h0.95M484.5 69h0.95M485 69h0.95M485.5 69h0.95M486.5 69h0.95M487 69h0.95M487.5 69h0.95M488 69h0.95M488.5 69h0.95M489.5 69h0.95M479 69.5h0.95M480.5 69.5h0.95M483 69.5h0.95M483.5 69.5h0.95M484.5 69.5h0.95M486 69.5h0.95M486.5 69.5h0.95M487 69.5h0.95M488.5 69.5h0.95M490.5 69.5h0.95M482 70h0.95M482.5 70h0.95M483 70h0.95M483.5 70h0.95M484 70h0.95M484.5 70h0.95M485.5 70h0.95M486 70h0.95M486.5 70h0.95M487 70h0.95M488 70h0.95M489 70h0.95M478 70.5h0.95M481.5 70.5h0.95M482 70.5h0.95M482.5 70.5h0.95M483 70.5h0.95M483.5 70.5h0.95M484 70.5h0.95M484.5 70.5h0.95M485 70.5h0.95M485.5 70.5h0.95M486 70.5h0.95M486.5 70.5h0.95M487 70.5h0.95M487.5 70.5h0.95M488 70.5h0.95M488.5 70.5h0.95M489.5 70.5h0.95M490 70.5h0.95M481.5 71h0.95M482.5 71h0.95M483 71h0.95M483.5 71h0.95M484 71h0.95M485 71h0.95M485.5 71h0.95M486 71h0.95M486.5 71h0.95M487 71h0.95M487.5 71h0.95M488 71h0.95M488.5 71h0.95M489 71h0.95M489.5 71h0.95M490 71h0.95M491 71h0.95M457 71.5h0.95M479.5 71.5h0.95M480 71.5h0.95M482.5 71.5h0.95M483 71.5h0.95M483.5 71.5h0.95M484.5 71.5h0.95M485 71.5h0.95M485.5 71.5h0.95M486 71.5h0.95M486.5 71.5h0.95M487 71.5h0.95M487.5 71.5h0.95M488 71.5h0.95M489.5 71.5h0.95M491 71.5h0.95M453 72h0.95M481 72h0.95M482.5 72h0.95M483 72h0.95M484 72h0.95M484.5 72h0.95M485 72h0.95M485.5 72h0.95M486 72h0.95M486.5 72h0.95M487 72h0.95M487.5 72h0.95M489.5 72h0.95M490 72h0.95M490.5 72h0.95M491 72h0.95M462.5 72.5h0.95M480 72.5h0.95M482.5 72.5h0.95M483 72.5h0.95M483.5 72.5h0.95M484 72.5h0.95M484.5 72.5h0.95M485 72.5h0.95M485.5 72.5h0.95M486 72.5h0.95M486.5 72.5h0.95M487 72.5h0.95M487.5 72.5h0.95M488 72.5h0.95M488.5 72.5h0.95M489 72.5h0.95M493 72.5h0.95M449.5 73h0.95M455 73h0.95M465.5 73h0.95M478.5 73h0.95M482 73h0.95M482.5 73h0.95M483 73h0.95M483.5 73h0.95M484 73h0.95M484.5 73h0.95M485 73h0.95M485.5 73h0.95M486 73h0.95M486.5 73h0.95M487 73h0.95M487.5 73h0.95M488 73h0.95M488.5 73h0.95M489 73h0.95M493 73h0.95M458 73.5h0.95M463.5 73.5h0.95M479.5 73.5h0.95M481 73.5h0.95M481.5 73.5h0.95M482.5 73.5h0.95M483 73.5h0.95M483.5 73.5h0.95M484 73.5h0.95M484.5 73.5h0.95M485 73.5h0.95M485.5 73.5h0.95M486 73.5h0.95M486.5 73.5h0.95M487 73.5h0.95M487.5 73.5h0.95M488 73.5h0.95M488.5 73.5h0.95M489 73.5h0.95M490 73.5h0.95M490.5 73.5h0.95M491.5 73.5h0.95M446.5 74h0.95M450 74h0.95M455.5 74h0.95M458 74h0.95M463 74h0.95M469 74h0.95M480 74h0.95M481.5 74h0.95M482 74h0.95M483 74h0.95M483.5 74h0.95M484 74h0.95M484.5 74h0.95M485 74h0.95M485.5 74h0.95M486 74h0.95M486.5 74h0.95M487 74h0.95M487.5 74h0.95M488 74h0.95M488.5 74h0.95M489 74h0.95M490.5 74h0.95M448.5 74.5h0.95M479 74.5h0.95M480.5 74.5h0.95M481 74.5h0.95M481.5 74.5h0.95M482 74.5h0.95M482.5 74.5h0.95M483 74.5h0.95M484 74.5h0.95M484.5 74.5h0.95M485 74.5h0.95M485.5 74.5h0.95M486 74.5h0.95M486.5 74.5h0.95M487 74.5h0.95M487.5 74.5h0.95M488 74.5h0.95M488.5 74.5h0.95M489 74.5h0.95M489.5 74.5h0.95M490 74.5h0.95M490.5 74.5h0.95M492.5 74.5h0.95M449.5 75h0.95M450.5 75h0.95M456 75h0.95M467 75h0.95M468 75h0.95M478 75h0.95M480 75h0.95M480.5 75h0.95M482 75h0.95M482.5 75h0.95M483 75h0.95M483.5 75h0.95M484 75h0.95M484.5 75h0.95M485 75h0.95M485.5 75h0.95M486 75h0.95M486.5 75h0.95M487 75h0.95M487.5 75h0.95M488 75h0.95M488.5 75h0.95M489 75h0.95M489.5 75h0.95M490 75h0.95M493 75h0.95M451.5 75.5h0.95M454 75.5h0.95M455 75.5h0.95M455.5 75.5h0.95M456 75.5h0.95M456.5 75.5h0.95M457.5 75.5h0.95M459 75.5h0.95M460.5 75.5h0.95M462 75.5h0.95M465.5 75.5h0.95M466.5 75.5h0.95M478.5 75.5h0.95M479.5 75.5h0.95M481 75.5h0.95M481.5 75.5h0.95M482 75.5h0.95M482.5 75.5h0.95M483 75.5h0.95M483.5 75.5h0.95M484 75.5h0.95M484.5 75.5h0.95M485 75.5h0.95M485.5 75.5h0.95M486 75.5h0.95M486.5 75.5h0.95M487 75.5h0.95M487.5 75.5h0.95M488 75.5h0.95M488.5 75.5h0.95M489 75.5h0.95M490 75.5h0.95M490.5 75.5h0.95M494 75.5h0.95M446.5 76h0.95M451 76h0.95M452 76h0.95M454 76h0.95M454.5 76h0.95M456.5 76h0.95M458.5 76h0.95M459.5 76h0.95M460 76h0.95M461 76h0.95M463.5 76h0.95M464 76h0.95M467 76h0.95M470.5 76h0.95M481 76h0.95M481.5 76h0.95M482 76h0.95M482.5 76h0.95M483.5 76h0.95M484 76h0.95M484.5 76h0.95M485 76h0.95M485.5 76h0.95M486 76h0.95M486.5 76h0.95M487 76h0.95M487.5 76h0.95M488 76h0.95M488.5 76h0.95M489 76h0.95M489.5 76h0.95M490 76h0.95M490.5 76h0.95M447.5 76.5h0.95M448.5 76.5h0.95M453 76.5h0.95M453.5 76.5h0.95M454 76.5h0.95M456 76.5h0.95M456.5 76.5h0.95M458 76.5h0.95M458.5 76.5h0.95M459 76.5h0.95M459.5 76.5h0.95M460 76.5h0.95M462 76.5h0.95M464.5 76.5h0.95M481 76.5h0.95M482 76.5h0.95M482.5 76.5h0.95M483 76.5h0.95M483.5 76.5h0.95M484 76.5h0.95M484.5 76.5h0.95M485 76.5h0.95M485.5 76.5h0.95M486 76.5h0.95M486.5 76.5h0.95M487 76.5h0.95M488 76.5h0.95M488.5 76.5h0.95M489 76.5h0.95M489.5 76.5h0.95M490.5 76.5h0.95M492 76.5h0.95M448.5 77h0.95M449 77h0.95M451.5 77h0.95M452.5 77h0.95M453.5 77h0.95M454 77h0.95M454.5 77h0.95M455.5 77h0.95M456 77h0.95M457 77h0.95M457.5 77h0.95M458 77h0.95M459 77h0.95M460 77h0.95M460.5 77h0.95M461 77h0.95M462.5 77h0.95M463 77h0.95M464.5 77h0.95M466.5 77h0.95M468.5 77h0.95M469 77h0.95M479.5 77h0.95M480 77h0.95M480.5 77h0.95M481 77h0.95M481.5 77h0.95M482 77h0.95M482.5 77h0.95M483.5 77h0.95M484 77h0.95M484.5 77h0.95M485 77h0.95M485.5 77h0.95M486 77h0.95M486.5 77h0.95M487 77h0.95M488.5 77h0.95M489 77h0.95M489.5 77h0.95M490 77h0.95M490.5 77h0.95M491 77h0.95M491.5 77h0.95M446.5 77.5h0.95M447 77.5h0.95M447.5 77.5h0.95M449 77.5h0.95M449.5 77.5h0.95M450 77.5h0.95M451 77.5h0.95M451.5 77.5h0.95M453 77.5h0.95M453.5 77.5h0.95M454 77.5h0.95M455.5 77.5h0.95M456.5 77.5h0.95M458.5 77.5h0.95M460 77.5h0.95M461.5 77.5h0.95M462 77.5h0.95M462.5 77.5h0.95M464.5 77.5h0.95M465.5 77.5h0.95M469.5 77.5h0.95M480.5 77.5h0.95M481.5 77.5h0.95M482 77.5h0.95M483.5 77.5h0.95M484 77.5h0.95M484.5 77.5h0.95M485 77.5h0.95M485.5 77.5h0.95M486 77.5h0.95M486.5 77.5h0.95M487 77.5h0.95M487.5 77.5h0.95M488 77.5h0.95M488.5 77.5h0.95M489 77.5h0.95M489.5 77.5h0.95M490 77.5h0.95M490.5 77.5h0.95M494 77.5h0.95M443 78h0.95M449 78h0.95M449.5 78h0.95M450.5 78h0.95M451 78h0.95M452 78h0.95M453.5 78h0.95M455.5 78h0.95M456 78h0.95M457 78h0.95M458 78h0.95M459 78h0.95M460 78h0.95M460.5 78h0.95M461 78h0.95M461.5 78h0.95M463 78h0.95M464 78h0.95M464.5 78h0.95M465.5 78h0.95M466 78h0.95M466.5 78h0.95M467 78h0.95M479.5 78h0.95M480 78h0.95M481 78h0.95M481.5 78h0.95M482 78h0.95M482.5 78h0.95M483 78h0.95M483.5 78h0.95M484 78h0.95M484.5 78h0.95M485 78h0.95M485.5 78h0.95M486 78h0.95M486.5 78h0.95M487 78h0.95M487.5 78h0.95M488 78h0.95M488.5 78h0.95M489 78h0.95M490.5 78h0.95M491 78h0.95M443 78.5h0.95M445 78.5h0.95M447 78.5h0.95M448.5 78.5h0.95M449 78.5h0.95M450 78.5h0.95M450.5 78.5h0.95M452 78.5h0.95M453 78.5h0.95M453.5 78.5h0.95M454 78.5h0.95M454.5 78.5h0.95M455 78.5h0.95M455.5 78.5h0.95M456 78.5h0.95M456.5 78.5h0.95M457 78.5h0.95M457.5 78.5h0.95M458 78.5h0.95M458.5 78.5h0.95M459.5 78.5h0.95M460 78.5h0.95M460.5 78.5h0.95M461.5 78.5h0.95M462 78.5h0.95M463 78.5h0.95M464 78.5h0.95M465 78.5h0.95M466 78.5h0.95M470.5 78.5h0.95M481 78.5h0.95M481.5 78.5h0.95M482 78.5h0.95M482.5 78.5h0.95M483 78.5h0.95M483.5 78.5h0.95M484 78.5h0.95M484.5 78.5h0.95M485 78.5h0.95M485.5 78.5h0.95M486 78.5h0.95M486.5 78.5h0.95M487 78.5h0.95M487.5 78.5h0.95M488 78.5h0.95M488.5 78.5h0.95M489 78.5h0.95M489.5 78.5h0.95M490.5 78.5h0.95M492.5 78.5h0.95M448 79h0.95M449 79h0.95M449.5 79h0.95M450 79h0.95M451 79h0.95M453 79h0.95M453.5 79h0.95M454.5 79h0.95M455 79h0.95M456 79h0.95M456.5 79h0.95M457 79h0.95M457.5 79h0.95M458 79h0.95M458.5 79h0.95M459 79h0.95M459.5 79h0.95M460 79h0.95M460.5 79h0.95M461.5 79h0.95M462 79h0.95M463.5 79h0.95M464.5 79h0.95M465 79h0.95M466.5 79h0.95M468.5 79h0.95M469 79h0.95M471 79h0.95M477.5 79h0.95M480.5 79h0.95M481 79h0.95M481.5 79h0.95M482 79h0.95M482.5 79h0.95M483 79h0.95M483.5 79h0.95M484 79h0.95M484.5 79h0.95M485 79h0.95M485.5 79h0.95M486 79h0.95M486.5 79h0.95M487 79h0.95M487.5 79h0.95M488.5 79h0.95M489 79h0.95M489.5 79h0.95M490 79h0.95M490.5 79h0.95M491.5 79h0.95M492.5 79h0.95M493.5 79h0.95M443 79.5h0.95M446 79.5h0.95M446.5 79.5h0.95M447 79.5h0.95M449 79.5h0.95M449.5 79.5h0.95M450 79.5h0.95M450.5 79.5h0.95M451 79.5h0.95M451.5 79.5h0.95M452.5 79.5h0.95M453 79.5h0.95M453.5 79.5h0.95M454 79.5h0.95M454.5 79.5h0.95M455 79.5h0.95M455.5 79.5h0.95M456.5 79.5h0.95M457 79.5h0.95M457.5 79.5h0.95M458 79.5h0.95M459 79.5h0.95M459.5 79.5h0.95M460.5 79.5h0.95M461 79.5h0.95M461.5 79.5h0.95M462.5 79.5h0.95M463 79.5h0.95M465.5 79.5h0.95M467 79.5h0.95M467.5 79.5h0.95M469 79.5h0.95M469.5 79.5h0.95M470.5 79.5h0.95M474 79.5h0.95M479.5 79.5h0.95M480.5 79.5h0.95M481 79.5h0.95M481.5 79.5h0.95M482 79.5h0.95M482.5 79.5h0.95M483 79.5h0.95M483.5 79.5h0.95M484 79.5h0.95M484.5 79.5h0.95M485 79.5h0.95M486 79.5h0.95M486.5 79.5h0.95M487 79.5h0.95M487.5 79.5h0.95M488 79.5h0.95M488.5 79.5h0.95M489.5 79.5h0.95M490 79.5h0.95M490.5 79.5h0.95M492 79.5h0.95M493.5 79.5h0.95M445 80h0.95M445.5 80h0.95M449.5 80h0.95M451.5 80h0.95M452 80h0.95M452.5 80h0.95M453 80h0.95M453.5 80h0.95M454 80h0.95M454.5 80h0.95M455.5 80h0.95M457 80h0.95M457.5 80h0.95M458 80h0.95M458.5 80h0.95M459 80h0.95M459.5 80h0.95M460 80h0.95M460.5 80h0.95M461 80h0.95M461.5 80h0.95M467 80h0.95M472 80h0.95M474 80h0.95M480 80h0.95M481 80h0.95M481.5 80h0.95M482.5 80h0.95M483 80h0.95M483.5 80h0.95M484 80h0.95M484.5 80h0.95M485 80h0.95M485.5 80h0.95M486 80h0.95M486.5 80h0.95M487 80h0.95M487.5 80h0.95M488 80h0.95M488.5 80h0.95M489 80h0.95M489.5 80h0.95M490 80h0.95M490.5 80h0.95M491 80h0.95M491.5 80h0.95M446.5 80.5h0.95M449 80.5h0.95M450.5 80.5h0.95M451 80.5h0.95M452.5 80.5h0.95M453.5 80.5h0.95M454 80.5h0.95M454.5 80.5h0.95M455 80.5h0.95M456 80.5h0.95M457 80.5h0.95M457.5 80.5h0.95M458 80.5h0.95M458.5 80.5h0.95M459 80.5h0.95M459.5 80.5h0.95M460 80.5h0.95M460.5 80.5h0.95M461.5 80.5h0.95M462 80.5h0.95M463.5 80.5h0.95M465.5 80.5h0.95M466.5 80.5h0.95M467.5 80.5h0.95M468 80.5h0.95M470.5 80.5h0.95M481.5 80.5h0.95M482.5 80.5h0.95M483 80.5h0.95M483.5 80.5h0.95M484 80.5h0.95M484.5 80.5h0.95M485 80.5h0.95M485.5 80.5h0.95M486 80.5h0.95M486.5 80.5h0.95M487 80.5h0.95M487.5 80.5h0.95M488 80.5h0.95M488.5 80.5h0.95M489 80.5h0.95M489.5 80.5h0.95M490 80.5h0.95M490.5 80.5h0.95M445.5 81h0.95M448 81h0.95M449 81h0.95M450 81h0.95M450.5 81h0.95M451 81h0.95M451.5 81h0.95M452 81h0.95M453 81h0.95M453.5 81h0.95M454.5 81h0.95M455 81h0.95M455.5 81h0.95M456 81h0.95M456.5 81h0.95M457 81h0.95M458 81h0.95M458.5 81h0.95M459.5 81h0.95M460.5 81h0.95M461 81h0.95M462 81h0.95M462.5 81h0.95M463.5 81h0.95M464 81h0.95M465.5 81h0.95M466.5 81h0.95M467.5 81h0.95M468 81h0.95M468.5 81h0.95M469 81h0.95M470 81h0.95M481 81h0.95M481.5 81h0.95M482 81h0.95M482.5 81h0.95M483.5 81h0.95M484 81h0.95M484.5 81h0.95M485 81h0.95M485.5 81h0.95M486 81h0.95M486.5 81h0.95M487 81h0.95M487.5 81h0.95M488 81h0.95M488.5 81h0.95M490.5 81h0.95M445.5 81.5h0.95M446.5 81.5h0.95M449.5 81.5h0.95M450 81.5h0.95M451 81.5h0.95M451.5 81.5h0.95M452 81.5h0.95M453.5 81.5h0.95M454 81.5h0.95M454.5 81.5h0.95M455 81.5h0.95M455.5 81.5h0.95M456.5 81.5h0.95M457 81.5h0.95M457.5 81.5h0.95M458 81.5h0.95M458.5 81.5h0.95M459.5 81.5h0.95M460 81.5h0.95M461 81.5h0.95M461.5 81.5h0.95M462.5 81.5h0.95M463 81.5h0.95M463.5 81.5h0.95M464 81.5h0.95M465 81.5h0.95M466 81.5h0.95M466.5 81.5h0.95M469 81.5h0.95M472 81.5h0.95M480.5 81.5h0.95M481 81.5h0.95M481.5 81.5h0.95M482 81.5h0.95M482.5 81.5h0.95M483 81.5h0.95M483.5 81.5h0.95M484 81.5h0.95M484.5 81.5h0.95M485 81.5h0.95M486 81.5h0.95M486.5 81.5h0.95M487 81.5h0.95M487.5 81.5h0.95M488 81.5h0.95M489.5 81.5h0.95M447 82h0.95M448 82h0.95M448.5 82h0.95M449.5 82h0.95M451 82h0.95M451.5 82h0.95M452.5 82h0.95M453 82h0.95M453.5 82h0.95M454 82h0.95M455 82h0.95M455.5 82h0.95M456.5 82h0.95M457 82h0.95M457.5 82h0.95M458 82h0.95M458.5 82h0.95M459 82h0.95M459.5 82h0.95M460 82h0.95M460.5 82h0.95M461.5 82h0.95M462 82h0.95M462.5 82h0.95M463 82h0.95M465.5 82h0.95M466.5 82h0.95M467 82h0.95M468 82h0.95M469 82h0.95M470 82h0.95M480.5 82h0.95M481.5 82h0.95M482 82h0.95M482.5 82h0.95M483 82h0.95M483.5 82h0.95M484 82h0.95M484.5 82h0.95M485 82h0.95M485.5 82h0.95M486 82h0.95M486.5 82h0.95M487.5 82h0.95M488 82h0.95M488.5 82h0.95M489 82h0.95M490.5 82h0.95M444 82.5h0.95M448.5 82.5h0.95M449 82.5h0.95M452 82.5h0.95M452.5 82.5h0.95M453 82.5h0.95M453.5 82.5h0.95M454 82.5h0.95M455 82.5h0.95M455.5 82.5h0.95M456 82.5h0.95M456.5 82.5h0.95M458 82.5h0.95M458.5 82.5h0.95M459 82.5h0.95M459.5 82.5h0.95M460 82.5h0.95M462.5 82.5h0.95M463 82.5h0.95M464 82.5h0.95M465 82.5h0.95M472 82.5h0.95M480 82.5h0.95M480.5 82.5h0.95M481 82.5h0.95M481.5 82.5h0.95M482.5 82.5h0.95M483.5 82.5h0.95M484 82.5h0.95M484.5 82.5h0.95M485 82.5h0.95M485.5 82.5h0.95M486 82.5h0.95M486.5 82.5h0.95M487 82.5h0.95M487.5 82.5h0.95M488 82.5h0.95M488.5 82.5h0.95M489 82.5h0.95M489.5 82.5h0.95M490 82.5h0.95M443 83h0.95M447.5 83h0.95M450 83h0.95M451 83h0.95M451.5 83h0.95M453 83h0.95M453.5 83h0.95M454 83h0.95M454.5 83h0.95M455 83h0.95M455.5 83h0.95M456 83h0.95M457.5 83h0.95M458 83h0.95M459 83h0.95M459.5 83h0.95M460 83h0.95M461 83h0.95M461.5 83h0.95M462.5 83h0.95M463 83h0.95M464.5 83h0.95M465 83h0.95M466.5 83h0.95M468 83h0.95M469.5 83h0.95M473 83h0.95M473.5 83h0.95M483 83h0.95M484 83h0.95M484.5 83h0.95M485 83h0.95M485.5 83h0.95M486 83h0.95M486.5 83h0.95M487.5 83h0.95M488 83h0.95M488.5 83h0.95M489 83h0.95M489.5 83h0.95M492 83h0.95M447 83.5h0.95M447.5 83.5h0.95M450.5 83.5h0.95M451 83.5h0.95M451.5 83.5h0.95M452 83.5h0.95M452.5 83.5h0.95M453 83.5h0.95M454.5 83.5h0.95M455 83.5h0.95M455.5 83.5h0.95M456 83.5h0.95M456.5 83.5h0.95M457 83.5h0.95M457.5 83.5h0.95M458 83.5h0.95M458.5 83.5h0.95M460 83.5h0.95M460.5 83.5h0.95M461.5 83.5h0.95M462 83.5h0.95M463 83.5h0.95M463.5 83.5h0.95M465.5 83.5h0.95M466.5 83.5h0.95M482 83.5h0.95M483 83.5h0.95M483.5 83.5h0.95M484 83.5h0.95M484.5 83.5h0.95M485.5 83.5h0.95M486 83.5h0.95M486.5 83.5h0.95M487 83.5h0.95M487.5 83.5h0.95M489.5 83.5h0.95M490.5 83.5h0.95M492 83.5h0.95M443 84h0.95M443.5 84h0.95M447.5 84h0.95M450 84h0.95M451 84h0.95M452 84h0.95M454.5 84h0.95M456 84h0.95M456.5 84h0.95M457 84h0.95M459.5 84h0.95M460.5 84h0.95M462 84h0.95M462.5 84h0.95M465.5 84h0.95M467.5 84h0.95M469.5 84h0.95M483.5 84h0.95M484 84h0.95M485 84h0.95M485.5 84h0.95M486 84h0.95M486.5 84h0.95M487 84h0.95M488.5 84h0.95M489 84h0.95M489.5 84h0.95M492.5 84h0.95M443 84.5h0.95M446.5 84.5h0.95M448.5 84.5h0.95M451 84.5h0.95M453 84.5h0.95M454 84.5h0.95M454.5 84.5h0.95M455.5 84.5h0.95M456.5 84.5h0.95M457 84.5h0.95M458 84.5h0.95M458.5 84.5h0.95M459 84.5h0.95M460 84.5h0.95M460.5 84.5h0.95M461.5 84.5h0.95M462.5 84.5h0.95M463.5 84.5h0.95M464.5 84.5h0.95M467 84.5h0.95M469.5 84.5h0.95M470 84.5h0.95M481.5 84.5h0.95M482 84.5h0.95M483.5 84.5h0.95M484 84.5h0.95M485 84.5h0.95M485.5 84.5h0.95M486.5 84.5h0.95M487 84.5h0.95M487.5 84.5h0.95M488 84.5h0.95M488.5 84.5h0.95M491 84.5h0.95M493.5 84.5h0.95M446.5 85h0.95M448 85h0.95M454 85h0.95M455 85h0.95M456 85h0.95M456.5 85h0.95M460.5 85h0.95M461.5 85h0.95M464 85h0.95M465 85h0.95M465.5 85h0.95M478 85h0.95M483 85h0.95M483.5 85h0.95M484 85h0.95M485.5 85h0.95M486 85h0.95M486.5 85h0.95M487 85h0.95M488.5 85h0.95M451.5 85.5h0.95M452.5 85.5h0.95M453.5 85.5h0.95M455 85.5h0.95M455.5 85.5h0.95M456 85.5h0.95M456.5 85.5h0.95M457.5 85.5h0.95M459.5 85.5h0.95M461 85.5h0.95M461.5 85.5h0.95M463 85.5h0.95M463.5 85.5h0.95M465 85.5h0.95M467.5 85.5h0.95M480 85.5h0.95M483 85.5h0.95M483.5 85.5h0.95M485.5 85.5h0.95M486 85.5h0.95M486.5 85.5h0.95M452 86h0.95M452.5 86h0.95M456.5 86h0.95M457 86h0.95M459 86h0.95M461 86h0.95M461.5 86h0.95M462.5 86h0.95M463 86h0.95M463.5 86h0.95M481 86h0.95M482.5 86h0.95M483.5 86h0.95M484.5 86h0.95M485 86h0.95M486.5 86h0.95M487.5 86h0.95M488 86h0.95M488.5 86h0.95M449.5 86.5h0.95M453 86.5h0.95M454.5 86.5h0.95M459 86.5h0.95M464 86.5h0.95M465 86.5h0.95M483.5 86.5h0.95M484 86.5h0.95M484.5 86.5h0.95M485.5 86.5h0.95M486 86.5h0.95M486.5 86.5h0.95M487 86.5h0.95M487.5 86.5h0.95M489 86.5h0.95M446.5 87h0.95M448.5 87h0.95M451.5 87h0.95M452 87h0.95M456 87h0.95M456.5 87h0.95M461 87h0.95M465.5 87h0.95M466.5 87h0.95M467.5 87h0.95M469 87h0.95M481.5 87h0.95M482 87h0.95M484 87h0.95M485.5 87h0.95M488 87h0.95M489.5 87h0.95M449.5 87.5h0.95M453 87.5h0.95M454.5 87.5h0.95M457 87.5h0.95M457.5 87.5h0.95M458 87.5h0.95M460.5 87.5h0.95M462.5 87.5h0.95M465.5 87.5h0.95M466 87.5h0.95M466.5 87.5h0.95M482.5 87.5h0.95M485 87.5h0.95M490.5 87.5h0.95M491 87.5h0.95M443 88h0.95M447 88h0.95M449 88h0.95M453 88h0.95M455.5 88h0.95M463 88h0.95M464.5 88h0.95M484.5 88h0.95M485.5 88h0.95M487.5 88h0.95M456.5 88.5h0.95M484.5 88.5h0.95M488.5 88.5h0.95M459.5 89h0.95M462.5 89h0.95M464.5 89h0.95M489.5 89h0.95M450.5 89.5h0.95M453 89.5h0.95M455 89.5h0.95M456.5 89.5h0.95M458 89.5h0.95M460 89.5h0.95M461 89.5h0.95M446 90h0.95M449.5 90h0.95M456 90h0.95M456.5 90h0.95M458 90h0.95M452.5 90.5h0.95M454 90.5h0.95M459 90.5h0.95M466 90.5h0.95M471.5 90.5h0.95M447.5 91h0.95M455.5 91h0.95M457 91h0.95M461.5 91h0.95M463.5 91h0.95M466 91h0.95M470 91h0.95M460.5 91.5h0.95M464.5 91.5h0.95M450 92h0.95M452.5 92h0.95M459 92h0.95M463 92h0.95M464.5 92h0.95M446 92.5h0.95M464.5 92.5h0.95M446.5 93h0.95M457 93h0.95M455 94h0.95M468 94h0.95M455.5 95h0.95M446.5 95.5h0.95M451 95.5h0.95M457 95.5h0.95M457.5 95.5h0.95M458 95.5h0.95M462 95.5h0.95M464.5 95.5h0.95M451.5 96h0.95M453 96h0.95M463.5 96h0.95M450 96.5h0.95M459 96.5h0.95M462.5 96.5h0.95M463 96.5h0.95M453 97h0.95M471 97.5h0.95M448 98.5h0.95M462.5 99h0.95M452 100.5h0.95M458 102.5h0.95M458 105h0.95" stroke="#000" stroke-width="0.95" fill="none"/>
<line x1="467.2" y1="41.5" x2="467.2" y2="108" stroke="#5c5c5c" stroke-width="1.2"/>
<line x1="442.5" y1="83.4" x2="514.5" y2="83.4" stroke="#5c5c5c" stroke-width="1.2"/>
<line x1="442.5" y1="41.5" x2="514.5" y2="41.5" stroke="#555" stroke-width="1"/>
<line x1="514.5" y1="41.5" x2="514.5" y2="108" stroke="#8a8a8a" stroke-width="1"/>
<line x1="442.5" y1="41" x2="442.5" y2="108.5" stroke="#222" stroke-width="1"/>
<line x1="442" y1="108" x2="515" y2="108" stroke="#222" stroke-width="1"/>
<path d="M442.5 108v2.2M442.5 108h-2.2M447.92 108v1.3M442.5 103h-1.3M451.09 108v1.3M442.5 100.07h-1.3M453.34 108v1.3M442.5 97.99h-1.3M455.08 108v1.3M442.5 96.38h-1.3M456.51 108v1.3M442.5 95.06h-1.3M457.71 108v1.3M442.5 93.95h-1.3M458.76 108v1.3M442.5 92.99h-1.3M459.68 108v1.3M442.5 92.14h-1.3M460.5 108v2.2M442.5 91.38h-2.2M465.92 108v1.3M442.5 86.37h-1.3M469.09 108v1.3M442.5 83.44h-1.3M471.34 108v1.3M442.5 81.37h-1.3M473.08 108v1.3M442.5 79.75h-1.3M474.51 108v1.3M442.5 78.44h-1.3M475.71 108v1.3M442.5 77.33h-1.3M476.76 108v1.3M442.5 76.36h-1.3M477.68 108v1.3M442.5 75.51h-1.3M478.5 108v2.2M442.5 74.75h-2.2M483.92 108v1.3M442.5 69.75h-1.3M487.09 108v1.3M442.5 66.82h-1.3M489.34 108v1.3M442.5 64.74h-1.3M491.08 108v1.3M442.5 63.13h-1.3M492.51 108v1.3M442.5 61.81h-1.3M493.71 108v1.3M442.5 60.7h-1.3M494.76 108v1.3M442.5 59.74h-1.3M495.68 108v1.3M442.5 58.89h-1.3M496.5 108v2.2M442.5 58.12h-2.2M501.92 108v1.3M442.5 53.12h-1.3M505.09 108v1.3M442.5 50.19h-1.3M507.34 108v1.3M442.5 48.12h-1.3M509.08 108v1.3M442.5 46.5h-1.3M510.51 108v1.3M442.5 45.19h-1.3M511.71 108v1.3M442.5 44.08h-1.3M512.76 108v1.3M442.5 43.11h-1.3M513.68 108v1.3M442.5 42.26h-1.3M514.5 108v2.2M442.5 41.5h-2.2" stroke="#222" stroke-width="0.7" fill="none"/>
<text x="438.24" y="116.04" font-size="5.2" fill="#111">10<tspan dy="-2.34" font-size="4.37">0</tspan></text>
<text x="438.4" y="112.68" font-size="5.2" fill="#111" transform="rotate(-90 438.4 112.68)">10<tspan dy="-2.34" font-size="4.37">0</tspan></text>
<text x="456.24" y="116.04" font-size="5.2" fill="#111">10<tspan dy="-2.34" font-size="4.37">1</tspan></text>
<text x="438.4" y="96.06" font-size="5.2" fill="#111" transform="rotate(-90 438.4 96.06)">10<tspan dy="-2.34" font-size="4.37">1</tspan></text>
<text x="474.24" y="116.04" font-size="5.2" fill="#111">10<tspan dy="-2.34" font-size="4.37">2</tspan></text>
<text x="438.4" y="79.43" font-size="5.2" fill="#111" transform="rotate(-90 438.4 79.43)">10<tspan dy="-2.34" font-size="4.37">2</tspan></text>
<text x="492.24" y="116.04" font-size="5.2" fill="#111">10<tspan dy="-2.34" font-size="4.37">3</tspan></text>
<text x="438.4" y="62.8" font-size="5.2" fill="#111" transform="rotate(-90 438.4 62.8)">10<tspan dy="-2.34" font-size="4.37">3</tspan></text>
<text x="510.24" y="116.04" font-size="5.2" fill="#111">10<tspan dy="-2.34" font-size="4.37">4</tspan></text>
<text x="438.4" y="46.18" font-size="5.2" fill="#111" transform="rotate(-90 438.4 46.18)">10<tspan dy="-2.34" font-size="4.37">4</tspan></text>
<text x="447.6" y="38.2" font-size="17.2" font-weight="bold">G</text>
<text x="427.5" y="72.8" font-size="13.9" text-anchor="middle" transform="rotate(-90 427.5 72.8)">CD28</text>
<text x="476.8" y="131.3" font-size="13.8" text-anchor="middle">CD4</text>
<path d="M369 179.5h0.72M373.5 180.5h0.72M368 181h0.72M368.5 181h0.72M356 181.5h0.72M370.5 181.5h0.72M372.5 182.5h0.72M354.5 183h0.72M369.5 183h0.72M347.5 183.5h0.72M354.5 183.5h0.72M357.5 183.5h0.72M352.5 184h0.72M358 184h0.72M372 184h0.72M374.5 184h0.72M352.5 184.5h0.72M352 185.5h0.72M352.5 186h0.72M350 186.5h0.72M350.5 186.5h0.72M351.5 186.5h0.72M352.5 186.5h0.72M348.5 187h0.72M352.5 187h0.72M355.5 187h0.72M349 187.5h0.72M351 187.5h0.72M357 187.5h0.72M369 187.5h0.72M355 188h0.72M354 188.5h0.72M352.5 189h0.72M373.5 189h0.72M349.5 189.5h0.72M350 189.5h0.72M353 189.5h0.72M353.5 189.5h0.72M356 189.5h0.72M352 190h0.72M353 190h0.72M354.5 190h0.72M356 190h0.72M366.5 190h0.72M346.5 190.5h0.72M349.5 190.5h0.72M352.5 190.5h0.72M357.5 190.5h0.72M367 190.5h0.72M369.5 190.5h0.72M348.5 191h0.72M352 191h0.72M359 191h0.72M366 191h0.72M349 191.5h0.72M360 191.5h0.72M368.5 191.5h0.72M353.5 192h0.72M357 192h0.72M350 192.5h0.72M356 192.5h0.72M356.5 192.5h0.72M359 192.5h0.72M366 192.5h0.72M354.5 193h0.72M358.5 193h0.72M360.5 193h0.72M351 193.5h0.72M358 193.5h0.72M348 194h0.72M354.5 194h0.72M356 194h0.72M356 194.5h0.72M346 195h0.72M348.5 195h0.72M349 195h0.72M346.5 195.5h0.72M349.5 196h0.72M352 196h0.72M349 196.5h0.72M358.5 198.5h0.72M346.5 199.5h0.72" stroke="#5a5a5a" stroke-width="0.72" fill="none"/>
<path d="M366 179h0.95M367.5 180h0.95M369 180h0.95M370.5 180h0.95M366 180.5h0.95M366.5 180.5h0.95M367 180.5h0.95M369 180.5h0.95M369.5 180.5h0.95M370 180.5h0.95M360.5 181h0.95M361 181h0.95M361.5 181h0.95M363 181h0.95M365.5 181h0.95M367 181h0.95M367.5 181h0.95M369 181h0.95M372.5 181h0.95M357.5 181.5h0.95M359.5 181.5h0.95M360 181.5h0.95M360.5 181.5h0.95M361 181.5h0.95M361.5 181.5h0.95M362 181.5h0.95M362.5 181.5h0.95M363 181.5h0.95M364 181.5h0.95M364.5 181.5h0.95M365 181.5h0.95M365.5 181.5h0.95M366 181.5h0.95M366.5 181.5h0.95M368 181.5h0.95M369.5 181.5h0.95M370 181.5h0.95M372 181.5h0.95M374.5 181.5h0.95M360 182h0.95M362 182h0.95M362.5 182h0.95M363 182h0.95M363.5 182h0.95M364 182h0.95M364.5 182h0.95M365 182h0.95M366 182h0.95M366.5 182h0.95M367 182h0.95M367.5 182h0.95M368 182h0.95M369 182h0.95M369.5 182h0.95M358 182.5h0.95M359.5 182.5h0.95M360.5 182.5h0.95M361 182.5h0.95M361.5 182.5h0.95M362 182.5h0.95M362.5 182.5h0.95M363.5 182.5h0.95M364 182.5h0.95M364.5 182.5h0.95M365 182.5h0.95M365.5 182.5h0.95M366 182.5h0.95M366.5 182.5h0.95M367 182.5h0.95M367.5 182.5h0.95M368 182.5h0.95M368.5 182.5h0.95M369.5 182.5h0.95M370 182.5h0.95M370.5 182.5h0.95M357.5 183h0.95M360.5 183h0.95M361 183h0.95M361.5 183h0.95M362 183h0.95M362.5 183h0.95M363 183h0.95M363.5 183h0.95M364 183h0.95M364.5 183h0.95M365 183h0.95M365.5 183h0.95M366 183h0.95M366.5 183h0.95M367 183h0.95M367.5 183h0.95M368 183h0.95M368.5 183h0.95M369 183h0.95M370 183h0.95M370.5 183h0.95M371.5 183h0.95M372 183h0.95M372.5 183h0.95M358 183.5h0.95M359 183.5h0.95M359.5 183.5h0.95M360 183.5h0.95M360.5 183.5h0.95M361 183.5h0.95M361.5 183.5h0.95M362 183.5h0.95M362.5 183.5h0.95M363 183.5h0.95M363.5 183.5h0.95M364 183.5h0.95M364.5 183.5h0.95M365 183.5h0.95M365.5 183.5h0.95M366 183.5h0.95M366.5 183.5h0.95M367 183.5h0.95M367.5 183.5h0.95M368 183.5h0.95M368.5 183.5h0.95M369.5 183.5h0.95M370 183.5h0.95M370.5 183.5h0.95M371 183.5h0.95M371.5 183.5h0.95M374 183.5h0.95M356.5 184h0.95M358.5 184h0.95M359.5 184h0.95M360 184h0.95M360.5 184h0.95M361 184h0.95M361.5 184h0.95M362 184h0.95M362.5 184h0.95M363 184h0.95M363.5 184h0.95M364 184h0.95M364.5 184h0.95M365 184h0.95M365.5 184h0.95M366 184h0.95M366.5 184h0.95M367 184h0.95M367.5 184h0.95M368 184h0.95M368.5 184h0.95M369 184h0.95M369.5 184h0.95M370 184h0.95M370.5 184h0.95M371 184h0.95M372.5 184h0.95M357 184.5h0.95M357.5 184.5h0.95M358 184.5h0.95M358.5 184.5h0.95M359 184.5h0.95M359.5 184.5h0.95M360 184.5h0.95M360.5 184.5h0.95M361 184.5h0.95M361.5 184.5h0.95M362 184.5h0.95M362.5 184.5h0.95M363 184.5h0.95M363.5 184.5h0.95M364 184.5h0.95M364.5 184.5h0.95M365 184.5h0.95M365.5 184.5h0.95M366 184.5h0.95M366.5 184.5h0.95M367 184.5h0.95M367.5 184.5h0.95M368 184.5h0.95M368.5 184.5h0.95M369 184.5h0.95M369.5 184.5h0.95M370 184.5h0.95M371 184.5h0.95M372 184.5h0.95M353 185h0.95M357.5 185h0.95M358 185h0.95M358.5 185h0.95M359 185h0.95M359.5 185h0.95M360 185h0.95M360.5 185h0.95M361 185h0.95M361.5 185h0.95M362 185h0.95M362.5 185h0.95M363 185h0.95M363.5 185h0.95M364 185h0.95M364.5 185h0.95M365 185h0.95M365.5 185h0.95M366 185h0.95M366.5 185h0.95M367 185h0.95M367.5 185h0.95M368 185h0.95M368.5 185h0.95M369 185h0.95M369.5 185h0.95M370 185h0.95M371 185h0.95M371.5 185h0.95M372 185h0.95M372.5 185h0.95M374 185h0.95M357 185.5h0.95M358 185.5h0.95M359 185.5h0.95M359.5 185.5h0.95M360 185.5h0.95M360.5 185.5h0.95M361 185.5h0.95M361.5 185.5h0.95M362 185.5h0.95M362.5 185.5h0.95M363 185.5h0.95M363.5 185.5h0.95M364 185.5h0.95M364.5 185.5h0.95M365 185.5h0.95M365.5 185.5h0.95M366 185.5h0.95M366.5 185.5h0.95M367 185.5h0.95M367.5 185.5h0.95M368 185.5h0.95M368.5 185.5h0.95M369 185.5h0.95M369.5 185.5h0.95M370 185.5h0.95M371 185.5h0.95M371.5 185.5h0.95M355.5 186h0.95M357 186h0.95M357.5 186h0.95M358 186h0.95M358.5 186h0.95M359 186h0.95M359.5 186h0.95M360 186h0.95M360.5 186h0.95M361 186h0.95M361.5 186h0.95M362 186h0.95M362.5 186h0.95M363 186h0.95M363.5 186h0.95M364 186h0.95M364.5 186h0.95M365 186h0.95M365.5 186h0.95M366 186h0.95M366.5 186h0.95M367 186h0.95M367.5 186h0.95M368 186h0.95M368.5 186h0.95M369 186h0.95M369.5 186h0.95M370 186h0.95M370.5 186h0.95M354.5 186.5h0.95M355 186.5h0.95M356 186.5h0.95M357.5 186.5h0.95M358 186.5h0.95M358.5 186.5h0.95M359 186.5h0.95M359.5 186.5h0.95M360 186.5h0.95M360.5 186.5h0.95M361 186.5h0.95M361.5 186.5h0.95M362 186.5h0.95M362.5 186.5h0.95M363 186.5h0.95M363.5 186.5h0.95M364 186.5h0.95M364.5 186.5h0.95M365 186.5h0.95M365.5 186.5h0.95M366 186.5h0.95M366.5 186.5h0.95M367 186.5h0.95M367.5 186.5h0.95M368 186.5h0.95M368.5 186.5h0.95M369 186.5h0.95M369.5 186.5h0.95M370 186.5h0.95M370.5 186.5h0.95M355 187h0.95M356 187h0.95M356.5 187h0.95M357 187h0.95M357.5 187h0.95M358 187h0.95M358.5 187h0.95M359 187h0.95M359.5 187h0.95M360 187h0.95M360.5 187h0.95M361 187h0.95M361.5 187h0.95M362 187h0.95M362.5 187h0.95M363 187h0.95M363.5 187h0.95M364 187h0.95M364.5 187h0.95M365 187h0.95M365.5 187h0.95M366 187h0.95M366.5 187h0.95M367 187h0.95M367.5 187h0.95M368 187h0.95M368.5 187h0.95M369 187h0.95M369.5 187h0.95M370 187h0.95M354 187.5h0.95M355 187.5h0.95M355.5 187.5h0.95M356 187.5h0.95M357.5 187.5h0.95M358 187.5h0.95M358.5 187.5h0.95M359 187.5h0.95M359.5 187.5h0.95M360 187.5h0.95M360.5 187.5h0.95M361 187.5h0.95M361.5 187.5h0.95M362 187.5h0.95M362.5 187.5h0.95M363 187.5h0.95M363.5 187.5h0.95M364 187.5h0.95M364.5 187.5h0.95M365 187.5h0.95M365.5 187.5h0.95M366 187.5h0.95M366.5 187.5h0.95M367 187.5h0.95M367.5 187.5h0.95M368 187.5h0.95M368.5 187.5h0.95M369.5 187.5h0.95M371 187.5h0.95M372 187.5h0.95M353.5 188h0.95M356 188h0.95M356.5 188h0.95M357 188h0.95M357.5 188h0.95M358 188h0.95M358.5 188h0.95M359 188h0.95M359.5 188h0.95M360 188h0.95M360.5 188h0.95M361 188h0.95M361.5 188h0.95M362 188h0.95M362.5 188h0.95M363 188h0.95M363.5 188h0.95M364 188h0.95M364.5 188h0.95M365 188h0.95M365.5 188h0.95M366 188h0.95M366.5 188h0.95M367 188h0.95M368 188h0.95M368.5 188h0.95M369 188h0.95M369.5 188h0.95M354.5 188.5h0.95M356.5 188.5h0.95M357 188.5h0.95M357.5 188.5h0.95M358 188.5h0.95M358.5 188.5h0.95M359 188.5h0.95M359.5 188.5h0.95M360 188.5h0.95M360.5 188.5h0.95M361 188.5h0.95M361.5 188.5h0.95M362 188.5h0.95M362.5 188.5h0.95M363 188.5h0.95M363.5 188.5h0.95M364 188.5h0.95M364.5 188.5h0.95M365 188.5h0.95M365.5 188.5h0.95M366 188.5h0.95M366.5 188.5h0.95M367 188.5h0.95M367.5 188.5h0.95M368 188.5h0.95M369 188.5h0.95M356 189h0.95M356.5 189h0.95M357 189h0.95M357.5 189h0.95M358.5 189h0.95M359 189h0.95M359.5 189h0.95M360 189h0.95M360.5 189h0.95M361 189h0.95M361.5 189h0.95M362 189h0.95M362.5 189h0.95M363 189h0.95M363.5 189h0.95M364 189h0.95M364.5 189h0.95M365 189h0.95M365.5 189h0.95M366 189h0.95M366.5 189h0.95M367 189h0.95M367.5 189h0.95M368.5 189h0.95M369 189h0.95M372.5 189h0.95M352.5 189.5h0.95M355 189.5h0.95M357 189.5h0.95M358 189.5h0.95M358.5 189.5h0.95M359 189.5h0.95M359.5 189.5h0.95M360 189.5h0.95M360.5 189.5h0.95M361 189.5h0.95M361.5 189.5h0.95M362 189.5h0.95M362.5 189.5h0.95M363 189.5h0.95M363.5 189.5h0.95M364 189.5h0.95M364.5 189.5h0.95M365 189.5h0.95M365.5 189.5h0.95M366 189.5h0.95M366.5 189.5h0.95M367.5 189.5h0.95M355.5 190h0.95M357.5 190h0.95M358 190h0.95M358.5 190h0.95M359 190h0.95M359.5 190h0.95M360 190h0.95M360.5 190h0.95M361 190h0.95M361.5 190h0.95M362 190h0.95M362.5 190h0.95M363 190h0.95M363.5 190h0.95M364 190h0.95M364.5 190h0.95M365 190h0.95M365.5 190h0.95M369 190h0.95M358.5 190.5h0.95M359 190.5h0.95M360 190.5h0.95M360.5 190.5h0.95M361 190.5h0.95M361.5 190.5h0.95M362 190.5h0.95M362.5 190.5h0.95M363 190.5h0.95M363.5 190.5h0.95M364.5 190.5h0.95M354 191h0.95M356.5 191h0.95M357 191h0.95M357.5 191h0.95M359.5 191h0.95M360.5 191h0.95M361.5 191h0.95M363 191h0.95M363.5 191h0.95M368 191h0.95M357 191.5h0.95M359 191.5h0.95M360.5 191.5h0.95M362 191.5h0.95M363 191.5h0.95M366 191.5h0.95M368 191.5h0.95M360 192h0.95M362 192h0.95M362.5 192h0.95M359 193h0.95M359.5 193h0.95" stroke="#000" stroke-width="0.95" fill="none"/>
<rect x="350.6" y="162.6" width="46.7" height="32.6" rx="1.5" fill="none" stroke="#555" stroke-width="1.1"/>
<line x1="326.5" y1="159.5" x2="398.5" y2="159.5" stroke="#555" stroke-width="1"/>
<line x1="398.5" y1="159.5" x2="398.5" y2="226.5" stroke="#8a8a8a" stroke-width="1"/>
<line x1="326.5" y1="159" x2="326.5" y2="227" stroke="#222" stroke-width="1"/>
<line x1="326" y1="226.5" x2="399" y2="226.5" stroke="#222" stroke-width="1"/>
<path d="M326.5 226.5v2.2M326.5 226.5h-2.2M331.92 226.5v1.3M326.5 221.46h-1.3M335.09 226.5v1.3M326.5 218.51h-1.3M337.34 226.5v1.3M326.5 216.42h-1.3M339.08 226.5v1.3M326.5 214.79h-1.3M340.51 226.5v1.3M326.5 213.47h-1.3M341.71 226.5v1.3M326.5 212.34h-1.3M342.76 226.5v1.3M326.5 211.37h-1.3M343.68 226.5v1.3M326.5 210.52h-1.3M344.5 226.5v2.2M326.5 209.75h-2.2M349.92 226.5v1.3M326.5 204.71h-1.3M353.09 226.5v1.3M326.5 201.76h-1.3M355.34 226.5v1.3M326.5 199.67h-1.3M357.08 226.5v1.3M326.5 198.04h-1.3M358.51 226.5v1.3M326.5 196.72h-1.3M359.71 226.5v1.3M326.5 195.59h-1.3M360.76 226.5v1.3M326.5 194.62h-1.3M361.68 226.5v1.3M326.5 193.77h-1.3M362.5 226.5v2.2M326.5 193h-2.2M367.92 226.5v1.3M326.5 187.96h-1.3M371.09 226.5v1.3M326.5 185.01h-1.3M373.34 226.5v1.3M326.5 182.92h-1.3M375.08 226.5v1.3M326.5 181.29h-1.3M376.51 226.5v1.3M326.5 179.97h-1.3M377.71 226.5v1.3M326.5 178.84h-1.3M378.76 226.5v1.3M326.5 177.87h-1.3M379.68 226.5v1.3M326.5 177.02h-1.3M380.5 226.5v2.2M326.5 176.25h-2.2M385.92 226.5v1.3M326.5 171.21h-1.3M389.09 226.5v1.3M326.5 168.26h-1.3M391.34 226.5v1.3M326.5 166.17h-1.3M393.08 226.5v1.3M326.5 164.54h-1.3M394.51 226.5v1.3M326.5 163.22h-1.3M395.71 226.5v1.3M326.5 162.09h-1.3M396.76 226.5v1.3M326.5 161.12h-1.3M397.68 226.5v1.3M326.5 160.27h-1.3M398.5 226.5v2.2M326.5 159.5h-2.2" stroke="#222" stroke-width="0.7" fill="none"/>
<text x="322.24" y="234.54" font-size="5.2" fill="#111">10<tspan dy="-2.34" font-size="4.37">0</tspan></text>
<text x="322.4" y="231.18" font-size="5.2" fill="#111" transform="rotate(-90 322.4 231.18)">10<tspan dy="-2.34" font-size="4.37">0</tspan></text>
<text x="340.24" y="234.54" font-size="5.2" fill="#111">10<tspan dy="-2.34" font-size="4.37">1</tspan></text>
<text x="322.4" y="214.43" font-size="5.2" fill="#111" transform="rotate(-90 322.4 214.43)">10<tspan dy="-2.34" font-size="4.37">1</tspan></text>
<text x="358.24" y="234.54" font-size="5.2" fill="#111">10<tspan dy="-2.34" font-size="4.37">2</tspan></text>
<text x="322.4" y="197.68" font-size="5.2" fill="#111" transform="rotate(-90 322.4 197.68)">10<tspan dy="-2.34" font-size="4.37">2</tspan></text>
<text x="376.24" y="234.54" font-size="5.2" fill="#111">10<tspan dy="-2.34" font-size="4.37">3</tspan></text>
<text x="322.4" y="180.93" font-size="5.2" fill="#111" transform="rotate(-90 322.4 180.93)">10<tspan dy="-2.34" font-size="4.37">3</tspan></text>
<text x="394.24" y="234.54" font-size="5.2" fill="#111">10<tspan dy="-2.34" font-size="4.37">4</tspan></text>
<text x="322.4" y="164.18" font-size="5.2" fill="#111" transform="rotate(-90 322.4 164.18)">10<tspan dy="-2.34" font-size="4.37">4</tspan></text>
<text x="334.2" y="158" font-size="17.2" font-weight="bold">H</text>
<text x="311.3" y="193" font-size="13.8" text-anchor="middle" transform="rotate(-90 311.3 193)">CD45</text>
<text x="363.5" y="250" font-size="13.8" text-anchor="middle">CD3</text>
<path d="M483.5 167.5h0.72M476 174h0.72M479 175.5h0.72M475 177.5h0.72M475.5 177.5h0.72M480.5 178h0.72M475.5 178.5h0.72M482.5 179h0.72M483 179h0.72M475 179.5h0.72M474.5 180h0.72M482.5 180h0.72M477 180.5h0.72M478.5 180.5h0.72M485.5 180.5h0.72M476 181h0.72M477 181.5h0.72M482.5 182h0.72M479 182.5h0.72M479.5 182.5h0.72M480.5 182.5h0.72M482.5 182.5h0.72M475 183h0.72M478 183h0.72M474 183.5h0.72M478.5 183.5h0.72M481.5 183.5h0.72M475.5 184h0.72M483 184h0.72M486.5 184h0.72M473.5 184.5h0.72M475 184.5h0.72M475 185h0.72M477 185h0.72M478.5 185h0.72M481 185h0.72M483 185h0.72M474 185.5h0.72M479.5 185.5h0.72M482.5 185.5h0.72M472.5 186h0.72M474.5 186h0.72M475 186h0.72M478 186h0.72M484.5 186h0.72M478 186.5h0.72M481.5 186.5h0.72M485 186.5h0.72M478 187h0.72M481.5 187h0.72M470 187.5h0.72M473.5 187.5h0.72M475.5 187.5h0.72M477.5 187.5h0.72M479 187.5h0.72M483 187.5h0.72M490 187.5h0.72M474 188h0.72M474.5 188.5h0.72M481.5 188.5h0.72M486 188.5h0.72M473.5 189h0.72M475 189h0.72M479.5 189h0.72M485 189h0.72M473.5 189.5h0.72M480 189.5h0.72M480.5 189.5h0.72M481 189.5h0.72M487 189.5h0.72M472.5 190h0.72M477.5 190h0.72M478.5 190h0.72M481 190h0.72M474.5 190.5h0.72M483 190.5h0.72M473 191h0.72M473.5 191h0.72M474 191h0.72M475 191h0.72M476 191h0.72M479.5 191h0.72M475.5 191.5h0.72M478 191.5h0.72M478.5 191.5h0.72M483 192h0.72M474 192.5h0.72M474.5 192.5h0.72M482.5 192.5h0.72M470.5 193h0.72M472.5 193h0.72M474 193h0.72M476.5 193h0.72M489 193h0.72M473.5 193.5h0.72M482.5 193.5h0.72M469.5 194h0.72M473.5 194h0.72M474 194h0.72M475 194h0.72M478.5 194h0.72M468 194.5h0.72M473.5 194.5h0.72M480.5 194.5h0.72M482.5 194.5h0.72M485.5 194.5h0.72M492.5 194.5h0.72M481 195h0.72M486 195h0.72M491.5 195h0.72M473 195.5h0.72M479 195.5h0.72M484.5 195.5h0.72M472.5 196h0.72M473 196h0.72M473.5 196h0.72M484 196h0.72M473.5 196.5h0.72M477 196.5h0.72M483 196.5h0.72M484 196.5h0.72M484.5 196.5h0.72M487 196.5h0.72M474.5 197h0.72M476 197h0.72M479.5 197h0.72M484.5 197h0.72M476 197.5h0.72M480.5 197.5h0.72M482.5 197.5h0.72M483.5 197.5h0.72M477 198h0.72M477.5 198h0.72M475.5 198.5h0.72M480.5 198.5h0.72M473.5 199h0.72M475.5 199h0.72M479.5 199h0.72M483.5 199h0.72M485 199h0.72M472.5 199.5h0.72M474.5 199.5h0.72M479.5 199.5h0.72M484 199.5h0.72M476 200h0.72M477 200h0.72M482.5 200h0.72M483 200h0.72M484 200h0.72M472 200.5h0.72M475 200.5h0.72M475.5 200.5h0.72M472 201h0.72M484 201h0.72M486 201h0.72M469 201.5h0.72M476 201.5h0.72M481.5 201.5h0.72M483.5 201.5h0.72M485.5 201.5h0.72M488 201.5h0.72M476.5 202h0.72M480.5 202h0.72M472 202.5h0.72M473 202.5h0.72M485 202.5h0.72M471 203h0.72M473.5 203h0.72M484.5 203h0.72M490 203h0.72M472.5 203.5h0.72M474.5 203.5h0.72M475.5 203.5h0.72M480 203.5h0.72M481 203.5h0.72M474 204h0.72M476.5 204h0.72M482 204h0.72M472 204.5h0.72M483.5 204.5h0.72M473.5 205h0.72M474.5 205h0.72M480.5 205h0.72M485 205h0.72M471.5 205.5h0.72M472.5 205.5h0.72M473 205.5h0.72M473.5 205.5h0.72M474 205.5h0.72M474.5 205.5h0.72M475.5 205.5h0.72M479 205.5h0.72M475.5 206h0.72M476.5 206h0.72M481 206h0.72M482 206h0.72M484.5 206h0.72M476 206.5h0.72M474.5 207h0.72M483.5 207h0.72M480 207.5h0.72M484 207.5h0.72M485 207.5h0.72M472 208h0.72M486 208h0.72M491.5 208h0.72M472.5 208.5h0.72M480 208.5h0.72M481.5 208.5h0.72M486 208.5h0.72M474.5 209h0.72M475 209h0.72M479 209h0.72M486.5 209h0.72M475 209.5h0.72M478 209.5h0.72M481 209.5h0.72M484 210h0.72M472 210.5h0.72M474 210.5h0.72M475 210.5h0.72M479 210.5h0.72M482.5 210.5h0.72M485 210.5h0.72M476.5 211h0.72M478.5 211h0.72M482.5 211h0.72M472.5 211.5h0.72M474 211.5h0.72M477.5 211.5h0.72M480.5 211.5h0.72M484 211.5h0.72M488 211.5h0.72M479.5 212h0.72M481.5 212.5h0.72M482 212.5h0.72M483 212.5h0.72M484 212.5h0.72M479.5 213h0.72M480 213h0.72M471.5 213.5h0.72M475 213.5h0.72M476.5 213.5h0.72M480 213.5h0.72M480.5 213.5h0.72M484 213.5h0.72M473.5 214h0.72M478.5 214h0.72M479 214h0.72M480.5 215h0.72M474 215.5h0.72M474 216h0.72M475 216h0.72M477.5 216h0.72M482.5 216h0.72M475 216.5h0.72M476 217h0.72M478.5 217h0.72M481.5 217h0.72M478 217.5h0.72M479.5 217.5h0.72M483 217.5h0.72M473 218h0.72M480.5 218h0.72M483.5 219h0.72M472 220h0.72M480 220h0.72M480 220.5h0.72M476 222h0.72M474.5 222.5h0.72M480.5 222.5h0.72M476 223h0.72M483 223h0.72M477.5 223.5h0.72M477.5 224.5h0.72M480.5 225.5h0.72M480 226h0.72" stroke="#5a5a5a" stroke-width="0.72" fill="none"/>
<path d="M476 166h0.95M486.5 175.5h0.95M482 176.5h0.95M481.5 177h0.95M479 178h0.95M477.5 179h0.95M478 179h0.95M477 179.5h0.95M483.5 179.5h0.95M487.5 179.5h0.95M484.5 180h0.95M474.5 180.5h0.95M478 180.5h0.95M473 181.5h0.95M473.5 182h0.95M477.5 182h0.95M478.5 182h0.95M480 182.5h0.95M483.5 182.5h0.95M485 182.5h0.95M475.5 183h0.95M476 183h0.95M480.5 183h0.95M481 183h0.95M484.5 183h0.95M480.5 183.5h0.95M474.5 184h0.95M479.5 184h0.95M480 184h0.95M482.5 184h0.95M478 184.5h0.95M480 184.5h0.95M481.5 184.5h0.95M484 184.5h0.95M476 185h0.95M476.5 185h0.95M479 185h0.95M479.5 185h0.95M480.5 185h0.95M479 185.5h0.95M480 185.5h0.95M480.5 185.5h0.95M473 186h0.95M476 186h0.95M477 186h0.95M478.5 186h0.95M479.5 186h0.95M480.5 186h0.95M476.5 186.5h0.95M482.5 186.5h0.95M475.5 187h0.95M477 187h0.95M478.5 187h0.95M479.5 187h0.95M480 187h0.95M482.5 187h0.95M484.5 187h0.95M475 187.5h0.95M476 187.5h0.95M477 187.5h0.95M478 187.5h0.95M478.5 187.5h0.95M480 187.5h0.95M484.5 187.5h0.95M478 188h0.95M479 188h0.95M480 188h0.95M481 188h0.95M481.5 188h0.95M482 188h0.95M483 188h0.95M472 188.5h0.95M477.5 188.5h0.95M478.5 188.5h0.95M480 188.5h0.95M481 188.5h0.95M477 189h0.95M478 189h0.95M483.5 189h0.95M484 189h0.95M475 189.5h0.95M475.5 189.5h0.95M476.5 189.5h0.95M478.5 189.5h0.95M479.5 189.5h0.95M471.5 190h0.95M475 190h0.95M476 190h0.95M479.5 190h0.95M480 190h0.95M480.5 190h0.95M483.5 190h0.95M484 190h0.95M484.5 190h0.95M488.5 190h0.95M475.5 190.5h0.95M477.5 190.5h0.95M478 190.5h0.95M478.5 190.5h0.95M479 190.5h0.95M479.5 190.5h0.95M480 190.5h0.95M480.5 190.5h0.95M481 190.5h0.95M481.5 190.5h0.95M484 190.5h0.95M484.5 190.5h0.95M475.5 191h0.95M478.5 191h0.95M479 191h0.95M480 191h0.95M480.5 191h0.95M481.5 191h0.95M482.5 191h0.95M486 191h0.95M474.5 191.5h0.95M476.5 191.5h0.95M477.5 191.5h0.95M479.5 191.5h0.95M480 191.5h0.95M480.5 191.5h0.95M481 191.5h0.95M481.5 191.5h0.95M482 191.5h0.95M483.5 191.5h0.95M475.5 192h0.95M476 192h0.95M476.5 192h0.95M478.5 192h0.95M479 192h0.95M481.5 192h0.95M482.5 192h0.95M485.5 192h0.95M486 192h0.95M475 192.5h0.95M477 192.5h0.95M477.5 192.5h0.95M478.5 192.5h0.95M479 192.5h0.95M479.5 192.5h0.95M480 192.5h0.95M481.5 192.5h0.95M483 192.5h0.95M485 192.5h0.95M488 192.5h0.95M475 193h0.95M476 193h0.95M477 193h0.95M477.5 193h0.95M479 193h0.95M479.5 193h0.95M480 193h0.95M480.5 193h0.95M481.5 193h0.95M482 193h0.95M483.5 193h0.95M484 193h0.95M486 193h0.95M487 193h0.95M474 193.5h0.95M474.5 193.5h0.95M476 193.5h0.95M477 193.5h0.95M477.5 193.5h0.95M478 193.5h0.95M478.5 193.5h0.95M479 193.5h0.95M479.5 193.5h0.95M480.5 193.5h0.95M481 193.5h0.95M483 193.5h0.95M484 193.5h0.95M485.5 193.5h0.95M476 194h0.95M477 194h0.95M478 194h0.95M479 194h0.95M480 194h0.95M480.5 194h0.95M481.5 194h0.95M484 194h0.95M485.5 194h0.95M486 194h0.95M472 194.5h0.95M474.5 194.5h0.95M475 194.5h0.95M475.5 194.5h0.95M476 194.5h0.95M476.5 194.5h0.95M477.5 194.5h0.95M478 194.5h0.95M478.5 194.5h0.95M479.5 194.5h0.95M484 194.5h0.95M487 194.5h0.95M471 195h0.95M472 195h0.95M474 195h0.95M475 195h0.95M476.5 195h0.95M477 195h0.95M477.5 195h0.95M478 195h0.95M478.5 195h0.95M479 195h0.95M480 195h0.95M480.5 195h0.95M482 195h0.95M482.5 195h0.95M483 195h0.95M483.5 195h0.95M484 195h0.95M474 195.5h0.95M474.5 195.5h0.95M475.5 195.5h0.95M476 195.5h0.95M478.5 195.5h0.95M479.5 195.5h0.95M480 195.5h0.95M481 195.5h0.95M481.5 195.5h0.95M482 195.5h0.95M482.5 195.5h0.95M483 195.5h0.95M474 196h0.95M474.5 196h0.95M475.5 196h0.95M477 196h0.95M477.5 196h0.95M478 196h0.95M478.5 196h0.95M479 196h0.95M480 196h0.95M480.5 196h0.95M481 196h0.95M481.5 196h0.95M482 196h0.95M483 196h0.95M483.5 196h0.95M484.5 196h0.95M485.5 196h0.95M466 196.5h0.95M474.5 196.5h0.95M475 196.5h0.95M475.5 196.5h0.95M476.5 196.5h0.95M477.5 196.5h0.95M478 196.5h0.95M478.5 196.5h0.95M479.5 196.5h0.95M480 196.5h0.95M480.5 196.5h0.95M481 196.5h0.95M481.5 196.5h0.95M482 196.5h0.95M482.5 196.5h0.95M485 196.5h0.95M486 196.5h0.95M472 197h0.95M476.5 197h0.95M477 197h0.95M477.5 197h0.95M478 197h0.95M478.5 197h0.95M479 197h0.95M480 197h0.95M480.5 197h0.95M481 197h0.95M481.5 197h0.95M482 197h0.95M482.5 197h0.95M483 197h0.95M483.5 197h0.95M484 197h0.95M486 197h0.95M486.5 197h0.95M474 197.5h0.95M475.5 197.5h0.95M477 197.5h0.95M477.5 197.5h0.95M478 197.5h0.95M478.5 197.5h0.95M479 197.5h0.95M479.5 197.5h0.95M480 197.5h0.95M481 197.5h0.95M481.5 197.5h0.95M482 197.5h0.95M484 197.5h0.95M489 197.5h0.95M474.5 198h0.95M475 198h0.95M476 198h0.95M476.5 198h0.95M478.5 198h0.95M479 198h0.95M479.5 198h0.95M480 198h0.95M480.5 198h0.95M481 198h0.95M481.5 198h0.95M482.5 198h0.95M483 198h0.95M483.5 198h0.95M484 198h0.95M470.5 198.5h0.95M472.5 198.5h0.95M473.5 198.5h0.95M475 198.5h0.95M476.5 198.5h0.95M477 198.5h0.95M477.5 198.5h0.95M478 198.5h0.95M478.5 198.5h0.95M479 198.5h0.95M479.5 198.5h0.95M480 198.5h0.95M481 198.5h0.95M481.5 198.5h0.95M482 198.5h0.95M482.5 198.5h0.95M483 198.5h0.95M483.5 198.5h0.95M484 198.5h0.95M484.5 198.5h0.95M485 198.5h0.95M486 198.5h0.95M486.5 198.5h0.95M487.5 198.5h0.95M471 199h0.95M475 199h0.95M476 199h0.95M476.5 199h0.95M477 199h0.95M478 199h0.95M478.5 199h0.95M479 199h0.95M480 199h0.95M480.5 199h0.95M481 199h0.95M481.5 199h0.95M482 199h0.95M482.5 199h0.95M483 199h0.95M484 199h0.95M474 199.5h0.95M475 199.5h0.95M475.5 199.5h0.95M476 199.5h0.95M476.5 199.5h0.95M477.5 199.5h0.95M478 199.5h0.95M478.5 199.5h0.95M479 199.5h0.95M480 199.5h0.95M480.5 199.5h0.95M481 199.5h0.95M481.5 199.5h0.95M482 199.5h0.95M482.5 199.5h0.95M483.5 199.5h0.95M484.5 199.5h0.95M469 200h0.95M472.5 200h0.95M473 200h0.95M473.5 200h0.95M474 200h0.95M474.5 200h0.95M475 200h0.95M476.5 200h0.95M477.5 200h0.95M478 200h0.95M478.5 200h0.95M479 200h0.95M479.5 200h0.95M480 200h0.95M480.5 200h0.95M481 200h0.95M481.5 200h0.95M482 200h0.95M483.5 200h0.95M484.5 200h0.95M485 200h0.95M486 200h0.95M488 200h0.95M474 200.5h0.95M474.5 200.5h0.95M476.5 200.5h0.95M477 200.5h0.95M477.5 200.5h0.95M478 200.5h0.95M478.5 200.5h0.95M479 200.5h0.95M480 200.5h0.95M480.5 200.5h0.95M481 200.5h0.95M481.5 200.5h0.95M482 200.5h0.95M482.5 200.5h0.95M483 200.5h0.95M474.5 201h0.95M475 201h0.95M475.5 201h0.95M476 201h0.95M476.5 201h0.95M477.5 201h0.95M478 201h0.95M478.5 201h0.95M479 201h0.95M479.5 201h0.95M480 201h0.95M481 201h0.95M481.5 201h0.95M482.5 201h0.95M483.5 201h0.95M484.5 201h0.95M485 201h0.95M490.5 201h0.95M471.5 201.5h0.95M472.5 201.5h0.95M475 201.5h0.95M475.5 201.5h0.95M476.5 201.5h0.95M477.5 201.5h0.95M478 201.5h0.95M478.5 201.5h0.95M479 201.5h0.95M480 201.5h0.95M480.5 201.5h0.95M481 201.5h0.95M482 201.5h0.95M482.5 201.5h0.95M483 201.5h0.95M484.5 201.5h0.95M473 202h0.95M474.5 202h0.95M475 202h0.95M475.5 202h0.95M476 202h0.95M477 202h0.95M478.5 202h0.95M479 202h0.95M479.5 202h0.95M480 202h0.95M481 202h0.95M481.5 202h0.95M483 202h0.95M483.5 202h0.95M473.5 202.5h0.95M475 202.5h0.95M475.5 202.5h0.95M476 202.5h0.95M476.5 202.5h0.95M477 202.5h0.95M477.5 202.5h0.95M478 202.5h0.95M478.5 202.5h0.95M479 202.5h0.95M479.5 202.5h0.95M480 202.5h0.95M480.5 202.5h0.95M481 202.5h0.95M481.5 202.5h0.95M482 202.5h0.95M482.5 202.5h0.95M483 202.5h0.95M483.5 202.5h0.95M485.5 202.5h0.95M486 202.5h0.95M474 203h0.95M474.5 203h0.95M475 203h0.95M475.5 203h0.95M476 203h0.95M476.5 203h0.95M477 203h0.95M477.5 203h0.95M478 203h0.95M478.5 203h0.95M479 203h0.95M479.5 203h0.95M480 203h0.95M480.5 203h0.95M481 203h0.95M481.5 203h0.95M482 203h0.95M483.5 203h0.95M485.5 203h0.95M473 203.5h0.95M476 203.5h0.95M476.5 203.5h0.95M477 203.5h0.95M477.5 203.5h0.95M478 203.5h0.95M478.5 203.5h0.95M479 203.5h0.95M479.5 203.5h0.95M480.5 203.5h0.95M481.5 203.5h0.95M482 203.5h0.95M484 203.5h0.95M485 203.5h0.95M487 203.5h0.95M472.5 204h0.95M473.5 204h0.95M475 204h0.95M476 204h0.95M477 204h0.95M477.5 204h0.95M478 204h0.95M478.5 204h0.95M479 204h0.95M479.5 204h0.95M480 204h0.95M480.5 204h0.95M481 204h0.95M481.5 204h0.95M482.5 204h0.95M483 204h0.95M483.5 204h0.95M484 204h0.95M485 204h0.95M485.5 204h0.95M473.5 204.5h0.95M474.5 204.5h0.95M476.5 204.5h0.95M477 204.5h0.95M477.5 204.5h0.95M478 204.5h0.95M478.5 204.5h0.95M479 204.5h0.95M479.5 204.5h0.95M480 204.5h0.95M480.5 204.5h0.95M481.5 204.5h0.95M482 204.5h0.95M482.5 204.5h0.95M483 204.5h0.95M484 204.5h0.95M485 204.5h0.95M475 205h0.95M475.5 205h0.95M476 205h0.95M476.5 205h0.95M477 205h0.95M477.5 205h0.95M478 205h0.95M479 205h0.95M480 205h0.95M481 205h0.95M481.5 205h0.95M483 205h0.95M484 205h0.95M484.5 205h0.95M485.5 205h0.95M475 205.5h0.95M476 205.5h0.95M477 205.5h0.95M477.5 205.5h0.95M478 205.5h0.95M478.5 205.5h0.95M479.5 205.5h0.95M480 205.5h0.95M480.5 205.5h0.95M481.5 205.5h0.95M482.5 205.5h0.95M483 205.5h0.95M484 205.5h0.95M484.5 205.5h0.95M487.5 205.5h0.95M469 206h0.95M471.5 206h0.95M476 206h0.95M477 206h0.95M477.5 206h0.95M478 206h0.95M478.5 206h0.95M479 206h0.95M479.5 206h0.95M480 206h0.95M480.5 206h0.95M481.5 206h0.95M482.5 206h0.95M483.5 206h0.95M484 206h0.95M485 206h0.95M485.5 206h0.95M471.5 206.5h0.95M473 206.5h0.95M474.5 206.5h0.95M475 206.5h0.95M477 206.5h0.95M477.5 206.5h0.95M478 206.5h0.95M478.5 206.5h0.95M479 206.5h0.95M479.5 206.5h0.95M480 206.5h0.95M480.5 206.5h0.95M481 206.5h0.95M481.5 206.5h0.95M482 206.5h0.95M482.5 206.5h0.95M483 206.5h0.95M483.5 206.5h0.95M484 206.5h0.95M484.5 206.5h0.95M486.5 206.5h0.95M472 207h0.95M473.5 207h0.95M474 207h0.95M475 207h0.95M475.5 207h0.95M476 207h0.95M476.5 207h0.95M477 207h0.95M478 207h0.95M478.5 207h0.95M479 207h0.95M479.5 207h0.95M480.5 207h0.95M481 207h0.95M481.5 207h0.95M482 207h0.95M483 207h0.95M484 207h0.95M485.5 207h0.95M476 207.5h0.95M476.5 207.5h0.95M477 207.5h0.95M477.5 207.5h0.95M478 207.5h0.95M478.5 207.5h0.95M479 207.5h0.95M479.5 207.5h0.95M481 207.5h0.95M481.5 207.5h0.95M482 207.5h0.95M482.5 207.5h0.95M483.5 207.5h0.95M484.5 207.5h0.95M485.5 207.5h0.95M474.5 208h0.95M475 208h0.95M476.5 208h0.95M477 208h0.95M477.5 208h0.95M479 208h0.95M479.5 208h0.95M480 208h0.95M480.5 208h0.95M481 208h0.95M481.5 208h0.95M482 208h0.95M482.5 208h0.95M483 208h0.95M483.5 208h0.95M484 208h0.95M484.5 208h0.95M472 208.5h0.95M475.5 208.5h0.95M476 208.5h0.95M476.5 208.5h0.95M477 208.5h0.95M478 208.5h0.95M478.5 208.5h0.95M479.5 208.5h0.95M480.5 208.5h0.95M481 208.5h0.95M482.5 208.5h0.95M484.5 208.5h0.95M485 208.5h0.95M477 209h0.95M477.5 209h0.95M478 209h0.95M478.5 209h0.95M479.5 209h0.95M480 209h0.95M480.5 209h0.95M481.5 209h0.95M482 209h0.95M482.5 209h0.95M483 209h0.95M484 209h0.95M485 209h0.95M471 209.5h0.95M472 209.5h0.95M473 209.5h0.95M476 209.5h0.95M477 209.5h0.95M479 209.5h0.95M479.5 209.5h0.95M480 209.5h0.95M480.5 209.5h0.95M481.5 209.5h0.95M482.5 209.5h0.95M483 209.5h0.95M484.5 209.5h0.95M485 209.5h0.95M489 209.5h0.95M474 210h0.95M476.5 210h0.95M477 210h0.95M478 210h0.95M478.5 210h0.95M479 210h0.95M480.5 210h0.95M481.5 210h0.95M482.5 210h0.95M483.5 210h0.95M468 210.5h0.95M473 210.5h0.95M476 210.5h0.95M477 210.5h0.95M477.5 210.5h0.95M478 210.5h0.95M478.5 210.5h0.95M479.5 210.5h0.95M480 210.5h0.95M482 210.5h0.95M483 210.5h0.95M484.5 210.5h0.95M472.5 211h0.95M477.5 211h0.95M478 211h0.95M479 211h0.95M480.5 211h0.95M481.5 211h0.95M483.5 211h0.95M474.5 211.5h0.95M476.5 211.5h0.95M477 211.5h0.95M478.5 211.5h0.95M479 211.5h0.95M480 211.5h0.95M481 211.5h0.95M481.5 211.5h0.95M482.5 211.5h0.95M483 211.5h0.95M483.5 211.5h0.95M476 212h0.95M478 212h0.95M478.5 212h0.95M479 212h0.95M480 212h0.95M480.5 212h0.95M481 212h0.95M482 212h0.95M482.5 212h0.95M484 212h0.95M484.5 212h0.95M476.5 212.5h0.95M478 212.5h0.95M479.5 212.5h0.95M480 212.5h0.95M482.5 212.5h0.95M485.5 212.5h0.95M477.5 213h0.95M479 213h0.95M480.5 213h0.95M481 213h0.95M481.5 213h0.95M482 213h0.95M477 213.5h0.95M482 213.5h0.95M482.5 213.5h0.95M483 213.5h0.95M479.5 214h0.95M480 214h0.95M475 214.5h0.95M479.5 214.5h0.95M480 214.5h0.95M482.5 214.5h0.95M483.5 214.5h0.95M484.5 214.5h0.95M474 215h0.95M476 215h0.95M477 215h0.95M477.5 215h0.95M479 215h0.95M476.5 215.5h0.95M479 215.5h0.95M479.5 215.5h0.95M480 215.5h0.95M482.5 215.5h0.95M472.5 216h0.95M479 216h0.95M479.5 216h0.95M473.5 216.5h0.95M475.5 216.5h0.95M477.5 216.5h0.95M478.5 216.5h0.95M479 216.5h0.95M482 216.5h0.95M478.5 219h0.95M475.5 221h0.95M473.5 221.5h0.95M481 222h0.95M477 224h0.95" stroke="#000" stroke-width="0.95" fill="none"/>
<line x1="462.4" y1="158.5" x2="462.4" y2="226.5" stroke="#5c5c5c" stroke-width="1.2"/>
<line x1="441.5" y1="202.2" x2="514.5" y2="202.2" stroke="#5c5c5c" stroke-width="1.2"/>
<line x1="441.5" y1="158.5" x2="514.5" y2="158.5" stroke="#555" stroke-width="1"/>
<line x1="514.5" y1="158.5" x2="514.5" y2="226.5" stroke="#8a8a8a" stroke-width="1"/>
<line x1="441.5" y1="158" x2="441.5" y2="227" stroke="#222" stroke-width="1"/>
<line x1="441" y1="226.5" x2="515" y2="226.5" stroke="#222" stroke-width="1"/>
<path d="M441.5 226.5v2.2M441.5 226.5h-2.2M446.99 226.5v1.3M441.5 221.38h-1.3M450.21 226.5v1.3M441.5 218.39h-1.3M452.49 226.5v1.3M441.5 216.26h-1.3M454.26 226.5v1.3M441.5 214.62h-1.3M455.7 226.5v1.3M441.5 213.27h-1.3M456.92 226.5v1.3M441.5 212.13h-1.3M457.98 226.5v1.3M441.5 211.15h-1.3M458.91 226.5v1.3M441.5 210.28h-1.3M459.75 226.5v2.2M441.5 209.5h-2.2M465.24 226.5v1.3M441.5 204.38h-1.3M468.46 226.5v1.3M441.5 201.39h-1.3M470.74 226.5v1.3M441.5 199.26h-1.3M472.51 226.5v1.3M441.5 197.62h-1.3M473.95 226.5v1.3M441.5 196.27h-1.3M475.17 226.5v1.3M441.5 195.13h-1.3M476.23 226.5v1.3M441.5 194.15h-1.3M477.16 226.5v1.3M441.5 193.28h-1.3M478 226.5v2.2M441.5 192.5h-2.2M483.49 226.5v1.3M441.5 187.38h-1.3M486.71 226.5v1.3M441.5 184.39h-1.3M488.99 226.5v1.3M441.5 182.26h-1.3M490.76 226.5v1.3M441.5 180.62h-1.3M492.2 226.5v1.3M441.5 179.27h-1.3M493.42 226.5v1.3M441.5 178.13h-1.3M494.48 226.5v1.3M441.5 177.15h-1.3M495.41 226.5v1.3M441.5 176.28h-1.3M496.25 226.5v2.2M441.5 175.5h-2.2M501.74 226.5v1.3M441.5 170.38h-1.3M504.96 226.5v1.3M441.5 167.39h-1.3M507.24 226.5v1.3M441.5 165.26h-1.3M509.01 226.5v1.3M441.5 163.62h-1.3M510.45 226.5v1.3M441.5 162.27h-1.3M511.67 226.5v1.3M441.5 161.13h-1.3M512.73 226.5v1.3M441.5 160.15h-1.3M513.66 226.5v1.3M441.5 159.28h-1.3M514.5 226.5v2.2M441.5 158.5h-2.2" stroke="#222" stroke-width="0.7" fill="none"/>
<text x="437.24" y="234.54" font-size="5.2" fill="#111">10<tspan dy="-2.34" font-size="4.37">0</tspan></text>
<text x="437.4" y="231.18" font-size="5.2" fill="#111" transform="rotate(-90 437.4 231.18)">10<tspan dy="-2.34" font-size="4.37">0</tspan></text>
<text x="455.49" y="234.54" font-size="5.2" fill="#111">10<tspan dy="-2.34" font-size="4.37">1</tspan></text>
<text x="437.4" y="214.18" font-size="5.2" fill="#111" transform="rotate(-90 437.4 214.18)">10<tspan dy="-2.34" font-size="4.37">1</tspan></text>
<text x="473.74" y="234.54" font-size="5.2" fill="#111">10<tspan dy="-2.34" font-size="4.37">2</tspan></text>
<text x="437.4" y="197.18" font-size="5.2" fill="#111" transform="rotate(-90 437.4 197.18)">10<tspan dy="-2.34" font-size="4.37">2</tspan></text>
<text x="491.99" y="234.54" font-size="5.2" fill="#111">10<tspan dy="-2.34" font-size="4.37">3</tspan></text>
<text x="437.4" y="180.18" font-size="5.2" fill="#111" transform="rotate(-90 437.4 180.18)">10<tspan dy="-2.34" font-size="4.37">3</tspan></text>
<text x="510.24" y="234.54" font-size="5.2" fill="#111">10<tspan dy="-2.34" font-size="4.37">4</tspan></text>
<text x="437.4" y="163.18" font-size="5.2" fill="#111" transform="rotate(-90 437.4 163.18)">10<tspan dy="-2.34" font-size="4.37">4</tspan></text>
<text x="451.6" y="157.3" font-size="17.2" font-weight="bold">I</text>
<text x="427.5" y="193.4" font-size="13.9" text-anchor="middle" transform="rotate(-90 427.5 193.4)">CD25</text>
<text x="476.5" y="250" font-size="13.8" text-anchor="middle">CD3</text>
<path d="M333 293h0.72M351 293.5h0.72M355 294h0.72M352 294.5h0.72M378 295h0.72M337.5 295.5h0.72M358 295.5h0.72M383.5 295.5h0.72M337.5 296h0.72M341 296h0.72M340 297h0.72M336.5 297.5h0.72M337.5 297.5h0.72M341 297.5h0.72M343 297.5h0.72M334 298h0.72M335.5 298h0.72M336.5 298h0.72M338 298h0.72M340.5 298h0.72M341 298h0.72M338 298.5h0.72M339.5 298.5h0.72M341.5 298.5h0.72M369.5 298.5h0.72M335 299h0.72M337 299h0.72M339 299h0.72M344.5 299h0.72M369.5 299h0.72M328.5 299.5h0.72M336.5 299.5h0.72M337.5 299.5h0.72M338.5 299.5h0.72M341.5 299.5h0.72M345 299.5h0.72M332 300h0.72M338 300h0.72M342.5 300h0.72M343.5 300h0.72M344 300h0.72M344.5 300h0.72M377 300h0.72M337.5 300.5h0.72M340 300.5h0.72M342.5 300.5h0.72M343 300.5h0.72M379 300.5h0.72M332 301h0.72M335 301h0.72M337.5 301h0.72M338.5 301h0.72M341 301h0.72M343 301h0.72M349 301h0.72M369.5 301h0.72M328.5 301.5h0.72M340.5 301.5h0.72M345.5 301.5h0.72M363.5 301.5h0.72M331.5 302h0.72M333 302h0.72M337.5 302h0.72M338.5 302h0.72M340 302h0.72M341.5 302h0.72M344.5 302h0.72M345.5 302h0.72M348.5 302h0.72M327.5 302.5h0.72M328 302.5h0.72M329.5 302.5h0.72M332.5 302.5h0.72M333 302.5h0.72M334.5 302.5h0.72M336 302.5h0.72M339.5 302.5h0.72M341.5 302.5h0.72M343.5 302.5h0.72M345.5 302.5h0.72M347.5 302.5h0.72M369 302.5h0.72M327 303h0.72M329 303h0.72M333 303h0.72M340 303h0.72M341.5 303h0.72M343.5 303h0.72M374 303h0.72M342.5 303.5h0.72M344 303.5h0.72M356 303.5h0.72M375 303.5h0.72M327.5 304h0.72M329 304h0.72M329.5 304h0.72M332.5 304h0.72M339.5 304h0.72M340.5 304h0.72M328 304.5h0.72M330.5 304.5h0.72M331.5 304.5h0.72M332.5 304.5h0.72M343 304.5h0.72M345.5 304.5h0.72M346.5 304.5h0.72M375 304.5h0.72M339 305h0.72M339.5 305h0.72M342 305h0.72M343 305h0.72M345 305h0.72M348.5 305h0.72M350.5 305h0.72M328.5 305.5h0.72M337.5 305.5h0.72M346 305.5h0.72M346.5 305.5h0.72M352.5 305.5h0.72M374 305.5h0.72M329.5 306h0.72M330 306h0.72M334.5 306h0.72M335.5 306h0.72M339.5 306h0.72M342.5 306h0.72M343 306h0.72M344.5 306h0.72M345 306h0.72M345.5 306h0.72M346.5 306h0.72M347.5 306h0.72M328 306.5h0.72M340 306.5h0.72M342 306.5h0.72M382 306.5h0.72M330 307h0.72M332.5 307h0.72M341 307h0.72M342.5 307h0.72M347.5 307h0.72M379 307h0.72M331 307.5h0.72M332 307.5h0.72M332.5 307.5h0.72M334 307.5h0.72M336 307.5h0.72M339.5 307.5h0.72M340 307.5h0.72M345.5 307.5h0.72M376.5 307.5h0.72M330.5 308h0.72M333 308h0.72M333.5 308h0.72M334.5 308h0.72M338 308h0.72M338.5 308h0.72M339.5 308h0.72M340 308h0.72M341.5 308h0.72M344.5 308h0.72M345 308h0.72M330 308.5h0.72M337.5 308.5h0.72M327 309h0.72M329.5 309h0.72M335 309h0.72M336.5 309h0.72M340 309h0.72M350.5 309h0.72M364 309h0.72M371 309h0.72M327 309.5h0.72M332 309.5h0.72M342.5 309.5h0.72M356 309.5h0.72M376 309.5h0.72M383.5 309.5h0.72M331.5 310h0.72M333.5 310h0.72M339 310h0.72M348.5 310h0.72M373.5 310h0.72M328.5 310.5h0.72M333.5 310.5h0.72M336 310.5h0.72M337.5 310.5h0.72M342 310.5h0.72M370.5 310.5h0.72M383 310.5h0.72M332 311h0.72M346 311h0.72M364.5 311h0.72M365 311h0.72M366.5 311h0.72M372 311h0.72M375.5 311h0.72M336.5 311.5h0.72M343.5 311.5h0.72M367.5 311.5h0.72M377 311.5h0.72M340.5 312h0.72M343.5 312h0.72M371.5 312h0.72M372 312h0.72M374 312h0.72M334.5 312.5h0.72M338 312.5h0.72M334.5 313h0.72M369 313h0.72M369.5 313h0.72M370 313.5h0.72M375 313.5h0.72M377 313.5h0.72M333.5 314h0.72M368 314h0.72M371 314h0.72M375 314h0.72M332 314.5h0.72M342 314.5h0.72M360 314.5h0.72M365.5 314.5h0.72M369 314.5h0.72M369.5 314.5h0.72M367 315h0.72M371 315h0.72M372.5 315h0.72M378 315h0.72M378.5 315h0.72M351 315.5h0.72M353.5 315.5h0.72M358.5 315.5h0.72M371 315.5h0.72M373 315.5h0.72M374.5 315.5h0.72M365 316h0.72M367 316h0.72M368.5 316h0.72M369.5 316h0.72M370 316h0.72M371.5 316h0.72M372 316h0.72M373 316h0.72M375 316h0.72M379.5 316h0.72M383 316h0.72M348 316.5h0.72M359 316.5h0.72M365 316.5h0.72M366.5 316.5h0.72M369.5 316.5h0.72M370 316.5h0.72M371 316.5h0.72M337.5 317h0.72M363.5 317h0.72M369.5 317h0.72M373 317h0.72M376.5 317h0.72M366.5 317.5h0.72M367 317.5h0.72M369.5 317.5h0.72M371.5 317.5h0.72M372 317.5h0.72M364.5 318h0.72M368 318h0.72M370 318h0.72M341 318.5h0.72M361.5 318.5h0.72M368 318.5h0.72M369 318.5h0.72M369.5 318.5h0.72M370 318.5h0.72M372.5 318.5h0.72M373 318.5h0.72M374.5 318.5h0.72M376 318.5h0.72M346.5 319h0.72M364.5 319h0.72M367 319h0.72M370.5 319h0.72M371 319h0.72M373 319h0.72M375 319h0.72M351.5 319.5h0.72M360.5 319.5h0.72M367.5 319.5h0.72M368 319.5h0.72M368.5 319.5h0.72M370.5 319.5h0.72M382.5 319.5h0.72M355.5 320h0.72M367.5 320h0.72M370 320h0.72M371.5 320h0.72M374.5 320h0.72M377.5 320h0.72M328.5 320.5h0.72M330 320.5h0.72M366.5 320.5h0.72M369 320.5h0.72M369.5 320.5h0.72M372 320.5h0.72M380.5 320.5h0.72M366.5 321h0.72M367 321h0.72M369 321h0.72M369.5 321h0.72M370 321h0.72M370.5 321h0.72M380 321h0.72M367.5 321.5h0.72M369.5 321.5h0.72M372.5 321.5h0.72M375 321.5h0.72M378.5 321.5h0.72M371.5 322h0.72M368 322.5h0.72M371.5 322.5h0.72M373 322.5h0.72M375 322.5h0.72M376.5 322.5h0.72M363 323h0.72M363.5 323h0.72M365.5 323h0.72M366 323h0.72M372 323h0.72M382 323h0.72M362.5 323.5h0.72M366.5 323.5h0.72M370.5 323.5h0.72M371 323.5h0.72M371.5 323.5h0.72M373 323.5h0.72M374.5 323.5h0.72M343 324h0.72M364 324h0.72M364.5 324h0.72M367.5 324h0.72M371 324h0.72M376.5 324h0.72M377 324h0.72M379.5 324h0.72M343 324.5h0.72M344.5 324.5h0.72M367.5 324.5h0.72M368.5 324.5h0.72M371.5 324.5h0.72M377 324.5h0.72M376 325h0.72M377 325h0.72M345.5 325.5h0.72M367 325.5h0.72M369 325.5h0.72M373.5 325.5h0.72M374 325.5h0.72M370.5 326h0.72M371 326h0.72M376.5 326h0.72M385.5 326h0.72M369.5 326.5h0.72M353 327h0.72M363 327h0.72M366.5 327h0.72M377 327h0.72M380.5 327h0.72M366.5 327.5h0.72M368 327.5h0.72M368.5 327.5h0.72M376 327.5h0.72M340 328h0.72M375.5 328h0.72M352 328.5h0.72M361.5 328.5h0.72M367.5 328.5h0.72M368.5 328.5h0.72M369.5 328.5h0.72M375 328.5h0.72M373.5 329h0.72M359 329.5h0.72M369.5 329.5h0.72M370 329.5h0.72M377 329.5h0.72M371.5 330h0.72M375.5 330h0.72M376.5 330h0.72M383 330h0.72M368.5 330.5h0.72M376 330.5h0.72M370.5 331h0.72M344 331.5h0.72M370 331.5h0.72M338 332h0.72M355.5 332h0.72M367 332h0.72M368.5 332h0.72M375.5 332h0.72M366 332.5h0.72M367 332.5h0.72M369 332.5h0.72M373 332.5h0.72M376 332.5h0.72M352 333h0.72M352.5 333h0.72M367 333h0.72M373 333h0.72M373.5 333h0.72M378 333h0.72M327.5 333.5h0.72M332 333.5h0.72M340 333.5h0.72M380 334h0.72M356.5 334.5h0.72M371 334.5h0.72M348 335h0.72M365 335h0.72M370 335h0.72M374.5 335h0.72M375.5 335h0.72M377 335h0.72M340 336h0.72M368 336h0.72M368.5 336h0.72M370 336h0.72M371.5 336h0.72M380 336h0.72M357 336.5h0.72M366.5 336.5h0.72M378 336.5h0.72M359 337h0.72M366.5 337h0.72M369.5 337h0.72M373 337h0.72M345 337.5h0.72M363 338h0.72M375 338h0.72" stroke="#5a5a5a" stroke-width="0.72" fill="none"/>
<path d="M335.5 297h0.95M339.5 297h0.95M334 297.5h0.95M333 298.5h0.95M328.5 299h0.95M331.5 299h0.95M341.5 299h0.95M342 299h0.95M334.5 299.5h0.95M335 299.5h0.95M335.5 299.5h0.95M339 299.5h0.95M334 300h0.95M334.5 300h0.95M335 300h0.95M336.5 300h0.95M339 300h0.95M340.5 300h0.95M330.5 300.5h0.95M331 300.5h0.95M334 300.5h0.95M335.5 300.5h0.95M336 300.5h0.95M338 300.5h0.95M338.5 300.5h0.95M341.5 300.5h0.95M343.5 300.5h0.95M328.5 301h0.95M329 301h0.95M330.5 301h0.95M331 301h0.95M331.5 301h0.95M332.5 301h0.95M334 301h0.95M334.5 301h0.95M336 301h0.95M339 301h0.95M339.5 301h0.95M340 301h0.95M342 301h0.95M342.5 301h0.95M345 301h0.95M330 301.5h0.95M333 301.5h0.95M334 301.5h0.95M335 301.5h0.95M335.5 301.5h0.95M336.5 301.5h0.95M337.5 301.5h0.95M338 301.5h0.95M338.5 301.5h0.95M339 301.5h0.95M339.5 301.5h0.95M340 301.5h0.95M341 301.5h0.95M342 301.5h0.95M343.5 301.5h0.95M344 301.5h0.95M348.5 301.5h0.95M328.5 302h0.95M329.5 302h0.95M330.5 302h0.95M332.5 302h0.95M333.5 302h0.95M334 302h0.95M334.5 302h0.95M335 302h0.95M335.5 302h0.95M336 302h0.95M336.5 302h0.95M338 302h0.95M339 302h0.95M339.5 302h0.95M340.5 302h0.95M341 302h0.95M343 302h0.95M344 302h0.95M327 302.5h0.95M330 302.5h0.95M330.5 302.5h0.95M331 302.5h0.95M332 302.5h0.95M333.5 302.5h0.95M334 302.5h0.95M335 302.5h0.95M335.5 302.5h0.95M336.5 302.5h0.95M337.5 302.5h0.95M338 302.5h0.95M338.5 302.5h0.95M339 302.5h0.95M340 302.5h0.95M340.5 302.5h0.95M342 302.5h0.95M330 303h0.95M330.5 303h0.95M331.5 303h0.95M332 303h0.95M332.5 303h0.95M333.5 303h0.95M334 303h0.95M334.5 303h0.95M335 303h0.95M335.5 303h0.95M336 303h0.95M336.5 303h0.95M337 303h0.95M338 303h0.95M338.5 303h0.95M339 303h0.95M339.5 303h0.95M340.5 303h0.95M341 303h0.95M342 303h0.95M342.5 303h0.95M343 303h0.95M345 303h0.95M327 303.5h0.95M328 303.5h0.95M328.5 303.5h0.95M329 303.5h0.95M329.5 303.5h0.95M330.5 303.5h0.95M331 303.5h0.95M332 303.5h0.95M332.5 303.5h0.95M333 303.5h0.95M333.5 303.5h0.95M334 303.5h0.95M334.5 303.5h0.95M335 303.5h0.95M335.5 303.5h0.95M336 303.5h0.95M336.5 303.5h0.95M337 303.5h0.95M338 303.5h0.95M338.5 303.5h0.95M339 303.5h0.95M339.5 303.5h0.95M340 303.5h0.95M340.5 303.5h0.95M341 303.5h0.95M341.5 303.5h0.95M345 303.5h0.95M345.5 303.5h0.95M330 304h0.95M331.5 304h0.95M332 304h0.95M333 304h0.95M333.5 304h0.95M334 304h0.95M334.5 304h0.95M335 304h0.95M335.5 304h0.95M336 304h0.95M336.5 304h0.95M337 304h0.95M337.5 304h0.95M338 304h0.95M338.5 304h0.95M339 304h0.95M340 304h0.95M341 304h0.95M341.5 304h0.95M342 304h0.95M342.5 304h0.95M343 304h0.95M344 304h0.95M329.5 304.5h0.95M331 304.5h0.95M333 304.5h0.95M333.5 304.5h0.95M334 304.5h0.95M334.5 304.5h0.95M335.5 304.5h0.95M336 304.5h0.95M336.5 304.5h0.95M337 304.5h0.95M337.5 304.5h0.95M338 304.5h0.95M338.5 304.5h0.95M339 304.5h0.95M339.5 304.5h0.95M340 304.5h0.95M340.5 304.5h0.95M341 304.5h0.95M341.5 304.5h0.95M342.5 304.5h0.95M343.5 304.5h0.95M344.5 304.5h0.95M346 304.5h0.95M329 305h0.95M330 305h0.95M330.5 305h0.95M331 305h0.95M331.5 305h0.95M332 305h0.95M332.5 305h0.95M333 305h0.95M333.5 305h0.95M334 305h0.95M334.5 305h0.95M335 305h0.95M335.5 305h0.95M336 305h0.95M336.5 305h0.95M337 305h0.95M337.5 305h0.95M338 305h0.95M338.5 305h0.95M340 305h0.95M340.5 305h0.95M341 305h0.95M342.5 305h0.95M343.5 305h0.95M344 305h0.95M344.5 305h0.95M346 305h0.95M347 305h0.95M327 305.5h0.95M329 305.5h0.95M331 305.5h0.95M331.5 305.5h0.95M332.5 305.5h0.95M333.5 305.5h0.95M334.5 305.5h0.95M335 305.5h0.95M335.5 305.5h0.95M336 305.5h0.95M336.5 305.5h0.95M337 305.5h0.95M338 305.5h0.95M338.5 305.5h0.95M339 305.5h0.95M339.5 305.5h0.95M340 305.5h0.95M340.5 305.5h0.95M341 305.5h0.95M341.5 305.5h0.95M342.5 305.5h0.95M343.5 305.5h0.95M327 306h0.95M327.5 306h0.95M328 306h0.95M328.5 306h0.95M329 306h0.95M330.5 306h0.95M331 306h0.95M331.5 306h0.95M332 306h0.95M332.5 306h0.95M333 306h0.95M334 306h0.95M335 306h0.95M336 306h0.95M336.5 306h0.95M337 306h0.95M337.5 306h0.95M338 306h0.95M338.5 306h0.95M339 306h0.95M340 306h0.95M340.5 306h0.95M341 306h0.95M342 306h0.95M327 306.5h0.95M328.5 306.5h0.95M329 306.5h0.95M331 306.5h0.95M333.5 306.5h0.95M334 306.5h0.95M334.5 306.5h0.95M335 306.5h0.95M335.5 306.5h0.95M336 306.5h0.95M336.5 306.5h0.95M337 306.5h0.95M337.5 306.5h0.95M338 306.5h0.95M339 306.5h0.95M339.5 306.5h0.95M340.5 306.5h0.95M343.5 306.5h0.95M327 307h0.95M330.5 307h0.95M331 307h0.95M331.5 307h0.95M332 307h0.95M333 307h0.95M333.5 307h0.95M334 307h0.95M335 307h0.95M335.5 307h0.95M336 307h0.95M336.5 307h0.95M337 307h0.95M337.5 307h0.95M338 307h0.95M338.5 307h0.95M339 307h0.95M340.5 307h0.95M341.5 307h0.95M343 307h0.95M327.5 307.5h0.95M329.5 307.5h0.95M330.5 307.5h0.95M331.5 307.5h0.95M333 307.5h0.95M334.5 307.5h0.95M335 307.5h0.95M336.5 307.5h0.95M337 307.5h0.95M337.5 307.5h0.95M338 307.5h0.95M338.5 307.5h0.95M341 307.5h0.95M342 307.5h0.95M342.5 307.5h0.95M344 307.5h0.95M344.5 307.5h0.95M327 308h0.95M329 308h0.95M329.5 308h0.95M330 308h0.95M331 308h0.95M331.5 308h0.95M332 308h0.95M334 308h0.95M335 308h0.95M336 308h0.95M336.5 308h0.95M337 308h0.95M337.5 308h0.95M339 308h0.95M340.5 308h0.95M343 308h0.95M343.5 308h0.95M344 308h0.95M333.5 308.5h0.95M335.5 308.5h0.95M336 308.5h0.95M338 308.5h0.95M339 308.5h0.95M339.5 308.5h0.95M340.5 308.5h0.95M330.5 309h0.95M336 309h0.95M337.5 309h0.95M339.5 309h0.95M342 309h0.95M344.5 309h0.95M347.5 309h0.95M333 309.5h0.95M336.5 309.5h0.95M337 309.5h0.95M339 309.5h0.95M342 309.5h0.95M344.5 309.5h0.95M330 310h0.95M337.5 310h0.95M338.5 310h0.95M334 310.5h0.95M373.5 311h0.95M372.5 313h0.95M369.5 314h0.95M370 314h0.95M373 314h0.95M372 314.5h0.95M373 315h0.95M370.5 315.5h0.95M372.5 315.5h0.95M374 315.5h0.95M375 315.5h0.95M372 316.5h0.95M375.5 316.5h0.95M370 317h0.95M371 317h0.95M372 317h0.95M373.5 317h0.95M369 317.5h0.95M371 317.5h0.95M374.5 317.5h0.95M369.5 318h0.95M371 318h0.95M371.5 318h0.95M371 318.5h0.95M372 318.5h0.95M373.5 318.5h0.95M374 318.5h0.95M376.5 318.5h0.95M378 318.5h0.95M380 318.5h0.95M369 319h0.95M370 319h0.95M372.5 319h0.95M373.5 319h0.95M375.5 319h0.95M370 319.5h0.95M371 319.5h0.95M371.5 319.5h0.95M372 319.5h0.95M372.5 319.5h0.95M375.5 319.5h0.95M376.5 319.5h0.95M368 320h0.95M372.5 320h0.95M373 320h0.95M373.5 320h0.95M374 320h0.95M376.5 320h0.95M377 320h0.95M370.5 320.5h0.95M371.5 320.5h0.95M372.5 320.5h0.95M374.5 320.5h0.95M375 320.5h0.95M377 320.5h0.95M371 321h0.95M372 321h0.95M373 321h0.95M374 321h0.95M376.5 321h0.95M367 321.5h0.95M368 321.5h0.95M371 321.5h0.95M372 321.5h0.95M373 321.5h0.95M373.5 321.5h0.95M374 321.5h0.95M374.5 321.5h0.95M376 321.5h0.95M369 322h0.95M369.5 322h0.95M372 322h0.95M373 322h0.95M373.5 322h0.95M374 322h0.95M374.5 322h0.95M375.5 322h0.95M376 322h0.95M376.5 322h0.95M379 322h0.95M369 322.5h0.95M370 322.5h0.95M370.5 322.5h0.95M372 322.5h0.95M372.5 322.5h0.95M373.5 322.5h0.95M374 322.5h0.95M374.5 322.5h0.95M375.5 322.5h0.95M377.5 322.5h0.95M379 322.5h0.95M367 323h0.95M369 323h0.95M369.5 323h0.95M370.5 323h0.95M371 323h0.95M372.5 323h0.95M373 323h0.95M373.5 323h0.95M374 323h0.95M374.5 323h0.95M375 323h0.95M376 323h0.95M369 323.5h0.95M370 323.5h0.95M372 323.5h0.95M373.5 323.5h0.95M375 323.5h0.95M375.5 323.5h0.95M376 323.5h0.95M377.5 323.5h0.95M368.5 324h0.95M369 324h0.95M369.5 324h0.95M371.5 324h0.95M372 324h0.95M372.5 324h0.95M374.5 324h0.95M375 324h0.95M375.5 324h0.95M378.5 324h0.95M370 324.5h0.95M372 324.5h0.95M372.5 324.5h0.95M373 324.5h0.95M373.5 324.5h0.95M374 324.5h0.95M374.5 324.5h0.95M376 324.5h0.95M369 325h0.95M370 325h0.95M370.5 325h0.95M371.5 325h0.95M372 325h0.95M372.5 325h0.95M373 325h0.95M373.5 325h0.95M374 325h0.95M375 325h0.95M368 325.5h0.95M369.5 325.5h0.95M370 325.5h0.95M370.5 325.5h0.95M371 325.5h0.95M372 325.5h0.95M373 325.5h0.95M375 325.5h0.95M376 325.5h0.95M376.5 325.5h0.95M377 325.5h0.95M370 326h0.95M371.5 326h0.95M372.5 326h0.95M373 326h0.95M374 326h0.95M375 326h0.95M375.5 326h0.95M377 326h0.95M368 326.5h0.95M368.5 326.5h0.95M370 326.5h0.95M370.5 326.5h0.95M371 326.5h0.95M371.5 326.5h0.95M372 326.5h0.95M372.5 326.5h0.95M373 326.5h0.95M373.5 326.5h0.95M374 326.5h0.95M374.5 326.5h0.95M375 326.5h0.95M375.5 326.5h0.95M377 326.5h0.95M366 327h0.95M369 327h0.95M369.5 327h0.95M371 327h0.95M372 327h0.95M373 327h0.95M373.5 327h0.95M374 327h0.95M374.5 327h0.95M375.5 327h0.95M370 327.5h0.95M371 327.5h0.95M371.5 327.5h0.95M372 327.5h0.95M372.5 327.5h0.95M373 327.5h0.95M373.5 327.5h0.95M374 327.5h0.95M374.5 327.5h0.95M377 327.5h0.95M370 328h0.95M370.5 328h0.95M371.5 328h0.95M372 328h0.95M372.5 328h0.95M373 328h0.95M374 328h0.95M375 328h0.95M377.5 328h0.95M367 328.5h0.95M371.5 328.5h0.95M372 328.5h0.95M373 328.5h0.95M373.5 328.5h0.95M374 328.5h0.95M374.5 328.5h0.95M375.5 328.5h0.95M378 328.5h0.95M369 329h0.95M369.5 329h0.95M372.5 329h0.95M373 329h0.95M374 329h0.95M374.5 329h0.95M375.5 329h0.95M376.5 329h0.95M377 329h0.95M368 329.5h0.95M371 329.5h0.95M371.5 329.5h0.95M372.5 329.5h0.95M373.5 329.5h0.95M374.5 329.5h0.95M375 329.5h0.95M375.5 329.5h0.95M376 329.5h0.95M376.5 329.5h0.95M369 330h0.95M372 330h0.95M372.5 330h0.95M373 330h0.95M373.5 330h0.95M374.5 330h0.95M375 330h0.95M369.5 330.5h0.95M370.5 330.5h0.95M371 330.5h0.95M371.5 330.5h0.95M372 330.5h0.95M373 330.5h0.95M374 330.5h0.95M374.5 330.5h0.95M375.5 330.5h0.95M370 331h0.95M371 331h0.95M372 331h0.95M372.5 331h0.95M373 331h0.95M373.5 331h0.95M374 331h0.95M376.5 331h0.95M378.5 331h0.95M369 331.5h0.95M372 331.5h0.95M372.5 331.5h0.95M373 331.5h0.95M374.5 331.5h0.95M370.5 332h0.95M371 332h0.95M371.5 332h0.95M373.5 332h0.95M375 332h0.95M376.5 332h0.95M372.5 332.5h0.95M374.5 332.5h0.95M375 332.5h0.95M365.5 333h0.95M369 333h0.95M369.5 333h0.95M370 333h0.95M372 333h0.95M375.5 333h0.95M369 333.5h0.95M372.5 333.5h0.95M373 333.5h0.95M373.5 333.5h0.95M374.5 333.5h0.95M370 334h0.95M371 334h0.95M371.5 334h0.95M372.5 334h0.95M373 334h0.95M375.5 334h0.95M379 334h0.95M368 334.5h0.95M371.5 334.5h0.95M372.5 334.5h0.95M373 334.5h0.95M372 335h0.95M372.5 335h0.95M374.5 335.5h0.95M378 335.5h0.95M374 336h0.95M371 336.5h0.95M374 336.5h0.95M373.5 337h0.95M376.5 337.5h0.95M371 338h0.95M371.5 338h0.95M374 338h0.95" stroke="#000" stroke-width="0.95" fill="none"/>
<line x1="347.5" y1="272.5" x2="347.5" y2="338.5" stroke="#5c5c5c" stroke-width="1.2"/>
<line x1="326.5" y1="315" x2="398.5" y2="315" stroke="#5c5c5c" stroke-width="1.3"/>
<line x1="326.5" y1="272.5" x2="398.5" y2="272.5" stroke="#777" stroke-width="1"/>
<line x1="398.5" y1="272.5" x2="398.5" y2="338.5" stroke="#8a8a8a" stroke-width="1"/>
<line x1="326.5" y1="272" x2="326.5" y2="339" stroke="#222" stroke-width="1"/>
<line x1="326" y1="338.5" x2="399" y2="338.5" stroke="#222" stroke-width="1"/>
<path d="M326.5 338.5v2.2M326.5 338.5h-2.2M331.92 338.5v1.3M326.5 333.53h-1.3M335.09 338.5v1.3M326.5 330.63h-1.3M337.34 338.5v1.3M326.5 328.57h-1.3M339.08 338.5v1.3M326.5 326.97h-1.3M340.51 338.5v1.3M326.5 325.66h-1.3M341.71 338.5v1.3M326.5 324.56h-1.3M342.76 338.5v1.3M326.5 323.6h-1.3M343.68 338.5v1.3M326.5 322.75h-1.3M344.5 338.5v2.2M326.5 322h-2.2M349.92 338.5v1.3M326.5 317.03h-1.3M353.09 338.5v1.3M326.5 314.13h-1.3M355.34 338.5v1.3M326.5 312.07h-1.3M357.08 338.5v1.3M326.5 310.47h-1.3M358.51 338.5v1.3M326.5 309.16h-1.3M359.71 338.5v1.3M326.5 308.06h-1.3M360.76 338.5v1.3M326.5 307.1h-1.3M361.68 338.5v1.3M326.5 306.25h-1.3M362.5 338.5v2.2M326.5 305.5h-2.2M367.92 338.5v1.3M326.5 300.53h-1.3M371.09 338.5v1.3M326.5 297.63h-1.3M373.34 338.5v1.3M326.5 295.57h-1.3M375.08 338.5v1.3M326.5 293.97h-1.3M376.51 338.5v1.3M326.5 292.66h-1.3M377.71 338.5v1.3M326.5 291.56h-1.3M378.76 338.5v1.3M326.5 290.6h-1.3M379.68 338.5v1.3M326.5 289.75h-1.3M380.5 338.5v2.2M326.5 289h-2.2M385.92 338.5v1.3M326.5 284.03h-1.3M389.09 338.5v1.3M326.5 281.13h-1.3M391.34 338.5v1.3M326.5 279.07h-1.3M393.08 338.5v1.3M326.5 277.47h-1.3M394.51 338.5v1.3M326.5 276.16h-1.3M395.71 338.5v1.3M326.5 275.06h-1.3M396.76 338.5v1.3M326.5 274.1h-1.3M397.68 338.5v1.3M326.5 273.25h-1.3M398.5 338.5v2.2M326.5 272.5h-2.2" stroke="#222" stroke-width="0.7" fill="none"/>
<text x="322.24" y="346.54" font-size="5.2" fill="#111">10<tspan dy="-2.34" font-size="4.37">0</tspan></text>
<text x="322.4" y="343.18" font-size="5.2" fill="#111" transform="rotate(-90 322.4 343.18)">10<tspan dy="-2.34" font-size="4.37">0</tspan></text>
<text x="340.24" y="346.54" font-size="5.2" fill="#111">10<tspan dy="-2.34" font-size="4.37">1</tspan></text>
<text x="322.4" y="326.68" font-size="5.2" fill="#111" transform="rotate(-90 322.4 326.68)">10<tspan dy="-2.34" font-size="4.37">1</tspan></text>
<text x="358.24" y="346.54" font-size="5.2" fill="#111">10<tspan dy="-2.34" font-size="4.37">2</tspan></text>
<text x="322.4" y="310.18" font-size="5.2" fill="#111" transform="rotate(-90 322.4 310.18)">10<tspan dy="-2.34" font-size="4.37">2</tspan></text>
<text x="376.24" y="346.54" font-size="5.2" fill="#111">10<tspan dy="-2.34" font-size="4.37">3</tspan></text>
<text x="322.4" y="293.68" font-size="5.2" fill="#111" transform="rotate(-90 322.4 293.68)">10<tspan dy="-2.34" font-size="4.37">3</tspan></text>
<text x="394.24" y="346.54" font-size="5.2" fill="#111">10<tspan dy="-2.34" font-size="4.37">4</tspan></text>
<text x="322.4" y="277.18" font-size="5.2" fill="#111" transform="rotate(-90 322.4 277.18)">10<tspan dy="-2.34" font-size="4.37">4</tspan></text>
<text x="334.2" y="268" font-size="17.2" font-weight="bold">J</text>
<text x="311.3" y="306.6" font-size="13.5" text-anchor="middle" transform="rotate(-90 311.3 306.6)">CD4</text>
<text x="363.5" y="361.3" font-size="13.8" text-anchor="middle">CD8</text>
<path d="M455.5 293.5h0.72M446 299h0.72M454.5 300h0.72M456 300h0.72M453 300.5h0.72M450.5 301h0.72M452.5 301h0.72M462 301h0.72M461 301.5h0.72M457.5 302h0.72M464.5 302.5h0.72M479 302.5h0.72M445 303h0.72M471 303h0.72M483 303h0.72M466 303.5h0.72M471.5 303.5h0.72M472 303.5h0.72M473 303.5h0.72M476 303.5h0.72M466.5 304h0.72M467 304h0.72M466 304.5h0.72M467 304.5h0.72M468 304.5h0.72M472 304.5h0.72M476 304.5h0.72M470 305h0.72M470.5 305h0.72M471 305h0.72M475.5 305h0.72M480.5 305h0.72M459.5 305.5h0.72M467 305.5h0.72M469 305.5h0.72M477 305.5h0.72M458.5 306h0.72M465 306h0.72M466 306h0.72M466.5 306h0.72M467 306h0.72M467.5 306h0.72M469 306h0.72M470.5 306h0.72M471.5 306h0.72M473 306h0.72M487 306h0.72M467 306.5h0.72M468.5 306.5h0.72M469.5 306.5h0.72M473 306.5h0.72M474.5 306.5h0.72M493.5 306.5h0.72M447.5 307h0.72M466.5 307h0.72M467 307h0.72M469 307h0.72M471.5 307h0.72M472 307h0.72M475.5 307h0.72M482.5 307h0.72M442.5 307.5h0.72M461 307.5h0.72M464.5 307.5h0.72M469.5 307.5h0.72M470 307.5h0.72M470.5 307.5h0.72M471 307.5h0.72M471.5 307.5h0.72M472.5 307.5h0.72M457.5 308h0.72M463.5 308h0.72M465.5 308h0.72M468 308h0.72M468.5 308h0.72M476.5 308h0.72M477.5 308h0.72M444.5 308.5h0.72M446 308.5h0.72M456 308.5h0.72M464.5 308.5h0.72M466.5 308.5h0.72M467.5 308.5h0.72M469 308.5h0.72M470.5 308.5h0.72M471 308.5h0.72M472 308.5h0.72M472.5 308.5h0.72M473 308.5h0.72M473.5 308.5h0.72M475.5 308.5h0.72M478.5 308.5h0.72M459 309h0.72M460 309h0.72M462 309h0.72M468 309h0.72M473 309h0.72M475 309h0.72M475.5 309h0.72M452.5 309.5h0.72M453.5 309.5h0.72M458 309.5h0.72M461.5 309.5h0.72M462.5 309.5h0.72M467 309.5h0.72M467.5 309.5h0.72M468.5 309.5h0.72M469 309.5h0.72M470 309.5h0.72M470.5 309.5h0.72M471 309.5h0.72M471.5 309.5h0.72M456 310h0.72M460 310h0.72M460.5 310h0.72M465 310h0.72M469.5 310h0.72M442 310.5h0.72M446 310.5h0.72M448 310.5h0.72M451.5 310.5h0.72M458 310.5h0.72M463.5 310.5h0.72M467.5 310.5h0.72M470 310.5h0.72M470.5 310.5h0.72M471 310.5h0.72M473.5 310.5h0.72M442 311h0.72M450.5 311h0.72M452 311h0.72M455.5 311h0.72M457 311h0.72M458.5 311h0.72M469.5 311h0.72M478 311h0.72M453 311.5h0.72M473 311.5h0.72M476 311.5h0.72M442.5 312h0.72M445 312h0.72M446 312h0.72M459.5 312h0.72M462 312h0.72M467 312h0.72M467.5 312h0.72M449 312.5h0.72M452 312.5h0.72M454.5 312.5h0.72M456 312.5h0.72M477.5 312.5h0.72M491 312.5h0.72M462 313h0.72M462.5 313h0.72M483.5 313h0.72M442 313.5h0.72M443 313.5h0.72M451.5 313.5h0.72M484.5 313.5h0.72M447 314h0.72M452 314.5h0.72M458 314.5h0.72M468.5 314.5h0.72M480 314.5h0.72M487 314.5h0.72M449.5 315h0.72M453 315h0.72M478.5 315h0.72M485.5 315h0.72M451.5 315.5h0.72M454.5 315.5h0.72M485.5 315.5h0.72M486.5 315.5h0.72M448 316h0.72M452 316h0.72M487 316h0.72M457 316.5h0.72M445.5 317h0.72M459.5 317h0.72M489 317h0.72M455.5 317.5h0.72M462.5 317.5h0.72M473 317.5h0.72M484 317.5h0.72M489.5 317.5h0.72M449 318h0.72M487.5 318h0.72M490 318h0.72M454 318.5h0.72M455.5 318.5h0.72M488.5 318.5h0.72M452.5 319h0.72M489 319h0.72M492 319h0.72M443 319.5h0.72M455 319.5h0.72M445.5 320h0.72M451.5 320h0.72M455 320h0.72M459.5 320h0.72M482.5 320h0.72M488 320h0.72M456 320.5h0.72M486 320.5h0.72M487.5 320.5h0.72M489 320.5h0.72M455.5 321h0.72M461.5 321h0.72M470 321h0.72M484.5 321h0.72M485 321h0.72M465.5 321.5h0.72M482.5 321.5h0.72M483.5 321.5h0.72M491 321.5h0.72M490.5 322h0.72M491 322h0.72M496 322h0.72M456.5 322.5h0.72M458.5 322.5h0.72M489.5 322.5h0.72M459.5 323h0.72M462.5 323h0.72M483 323h0.72M489.5 323h0.72M446 323.5h0.72M451.5 323.5h0.72M489.5 323.5h0.72M443 324h0.72M457.5 324h0.72M460 324h0.72M483 324h0.72M484 324h0.72M488.5 324h0.72M442 324.5h0.72M450 324.5h0.72M459.5 324.5h0.72M480 324.5h0.72M449 325h0.72M477.5 325h0.72M486.5 325h0.72M445.5 325.5h0.72M449.5 325.5h0.72M484.5 325.5h0.72M443.5 326h0.72M484 326h0.72M454.5 326.5h0.72M456.5 326.5h0.72M486.5 326.5h0.72M450 327h0.72M455 327h0.72M464.5 327h0.72M443 327.5h0.72M453.5 327.5h0.72M457 327.5h0.72M488.5 327.5h0.72M450.5 328h0.72M462 328h0.72M481 328h0.72M444.5 328.5h0.72M454.5 328.5h0.72M456 328.5h0.72M460 328.5h0.72M465 328.5h0.72M470 328.5h0.72M485.5 328.5h0.72M477.5 329h0.72M484 329h0.72M442 329.5h0.72M460.5 329.5h0.72M491.5 329.5h0.72M442 330h0.72M447 330h0.72M457 330h0.72M458.5 330h0.72M481.5 330.5h0.72M491.5 330.5h0.72M442 331h0.72M451.5 331h0.72M453.5 331h0.72M484.5 331h0.72M490.5 331h0.72M484 332h0.72M489 332h0.72M495.5 332h0.72M445.5 332.5h0.72M452.5 332.5h0.72M453.5 332.5h0.72M455.5 332.5h0.72M477 332.5h0.72M462.5 333.5h0.72M485 333.5h0.72M494.5 333.5h0.72M452.5 334h0.72M448 334.5h0.72M461 334.5h0.72M468.5 334.5h0.72M486 334.5h0.72M455 335h0.72M484.5 335h0.72M462 335.5h0.72M442 336h0.72M478 336h0.72M485 336h0.72M485.5 336h0.72M488.5 336h0.72M485.5 336.5h0.72M489 337h0.72M489.5 337h0.72M461 338h0.72M480.5 338h0.72M485 338h0.72M491.5 338h0.72" stroke="#5a5a5a" stroke-width="0.72" fill="none"/>
<path d="M442 296h0.95M442 296.5h0.95M452.5 297h0.95M457 298.5h0.95M451 299h0.95M455.5 299h0.95M444.5 299.5h0.95M447.5 299.5h0.95M451 299.5h0.95M454 299.5h0.95M455.5 299.5h0.95M446 300h0.95M449 300h0.95M450.5 300h0.95M451.5 300h0.95M455 300h0.95M455.5 300h0.95M442 300.5h0.95M445.5 300.5h0.95M448 300.5h0.95M450 300.5h0.95M451.5 300.5h0.95M453.5 300.5h0.95M456 300.5h0.95M442 301h0.95M444 301h0.95M445 301h0.95M445.5 301h0.95M446 301h0.95M447 301h0.95M447.5 301h0.95M448 301h0.95M449.5 301h0.95M450 301h0.95M453 301h0.95M453.5 301h0.95M454 301h0.95M455.5 301h0.95M457 301h0.95M458 301h0.95M458.5 301h0.95M442 301.5h0.95M443.5 301.5h0.95M444 301.5h0.95M445 301.5h0.95M446.5 301.5h0.95M447 301.5h0.95M448.5 301.5h0.95M449 301.5h0.95M450 301.5h0.95M451 301.5h0.95M451.5 301.5h0.95M453 301.5h0.95M454 301.5h0.95M455 301.5h0.95M456 301.5h0.95M457 301.5h0.95M463.5 301.5h0.95M442 302h0.95M443.5 302h0.95M444 302h0.95M444.5 302h0.95M445.5 302h0.95M446.5 302h0.95M447.5 302h0.95M448 302h0.95M448.5 302h0.95M449 302h0.95M449.5 302h0.95M450 302h0.95M450.5 302h0.95M451 302h0.95M451.5 302h0.95M452 302h0.95M452.5 302h0.95M453 302h0.95M453.5 302h0.95M454 302h0.95M454.5 302h0.95M455 302h0.95M456 302h0.95M456.5 302h0.95M457 302h0.95M459 302h0.95M459.5 302h0.95M460.5 302h0.95M463 302h0.95M442 302.5h0.95M443.5 302.5h0.95M444 302.5h0.95M444.5 302.5h0.95M445 302.5h0.95M445.5 302.5h0.95M446 302.5h0.95M447 302.5h0.95M447.5 302.5h0.95M448 302.5h0.95M448.5 302.5h0.95M449 302.5h0.95M449.5 302.5h0.95M450 302.5h0.95M450.5 302.5h0.95M451 302.5h0.95M451.5 302.5h0.95M452 302.5h0.95M452.5 302.5h0.95M453 302.5h0.95M453.5 302.5h0.95M454 302.5h0.95M454.5 302.5h0.95M455 302.5h0.95M455.5 302.5h0.95M456 302.5h0.95M456.5 302.5h0.95M457.5 302.5h0.95M458 302.5h0.95M458.5 302.5h0.95M459 302.5h0.95M460 302.5h0.95M460.5 302.5h0.95M442 303h0.95M442.5 303h0.95M443 303h0.95M443.5 303h0.95M444 303h0.95M444.5 303h0.95M445.5 303h0.95M446.5 303h0.95M447 303h0.95M447.5 303h0.95M448 303h0.95M448.5 303h0.95M449 303h0.95M449.5 303h0.95M450 303h0.95M450.5 303h0.95M451 303h0.95M451.5 303h0.95M452 303h0.95M452.5 303h0.95M453 303h0.95M453.5 303h0.95M454 303h0.95M454.5 303h0.95M455 303h0.95M455.5 303h0.95M456 303h0.95M456.5 303h0.95M457 303h0.95M457.5 303h0.95M458 303h0.95M458.5 303h0.95M459 303h0.95M461 303h0.95M465 303h0.95M442 303.5h0.95M442.5 303.5h0.95M443.5 303.5h0.95M444 303.5h0.95M444.5 303.5h0.95M445 303.5h0.95M445.5 303.5h0.95M446 303.5h0.95M446.5 303.5h0.95M447 303.5h0.95M447.5 303.5h0.95M448 303.5h0.95M448.5 303.5h0.95M449 303.5h0.95M449.5 303.5h0.95M450 303.5h0.95M450.5 303.5h0.95M451 303.5h0.95M451.5 303.5h0.95M452 303.5h0.95M452.5 303.5h0.95M453 303.5h0.95M453.5 303.5h0.95M454 303.5h0.95M454.5 303.5h0.95M455 303.5h0.95M455.5 303.5h0.95M456 303.5h0.95M456.5 303.5h0.95M457 303.5h0.95M458 303.5h0.95M458.5 303.5h0.95M460 303.5h0.95M460.5 303.5h0.95M463.5 303.5h0.95M465 303.5h0.95M442 304h0.95M442.5 304h0.95M443 304h0.95M443.5 304h0.95M444 304h0.95M444.5 304h0.95M445.5 304h0.95M446 304h0.95M446.5 304h0.95M447 304h0.95M447.5 304h0.95M448 304h0.95M448.5 304h0.95M449 304h0.95M449.5 304h0.95M450 304h0.95M450.5 304h0.95M451 304h0.95M451.5 304h0.95M452 304h0.95M452.5 304h0.95M453 304h0.95M453.5 304h0.95M454 304h0.95M454.5 304h0.95M455 304h0.95M455.5 304h0.95M456 304h0.95M456.5 304h0.95M457 304h0.95M457.5 304h0.95M458 304h0.95M458.5 304h0.95M459.5 304h0.95M460 304h0.95M461 304h0.95M461.5 304h0.95M463.5 304h0.95M442 304.5h0.95M443 304.5h0.95M443.5 304.5h0.95M444 304.5h0.95M444.5 304.5h0.95M445 304.5h0.95M445.5 304.5h0.95M446 304.5h0.95M446.5 304.5h0.95M447 304.5h0.95M447.5 304.5h0.95M448 304.5h0.95M448.5 304.5h0.95M449 304.5h0.95M449.5 304.5h0.95M450 304.5h0.95M450.5 304.5h0.95M451 304.5h0.95M451.5 304.5h0.95M452 304.5h0.95M452.5 304.5h0.95M453 304.5h0.95M453.5 304.5h0.95M454 304.5h0.95M454.5 304.5h0.95M455 304.5h0.95M455.5 304.5h0.95M456 304.5h0.95M456.5 304.5h0.95M457.5 304.5h0.95M458 304.5h0.95M458.5 304.5h0.95M459 304.5h0.95M459.5 304.5h0.95M460 304.5h0.95M460.5 304.5h0.95M461 304.5h0.95M461.5 304.5h0.95M463 304.5h0.95M442 305h0.95M442.5 305h0.95M443 305h0.95M443.5 305h0.95M444 305h0.95M444.5 305h0.95M445 305h0.95M445.5 305h0.95M446 305h0.95M446.5 305h0.95M447 305h0.95M447.5 305h0.95M448 305h0.95M448.5 305h0.95M449 305h0.95M449.5 305h0.95M450 305h0.95M450.5 305h0.95M451 305h0.95M451.5 305h0.95M452 305h0.95M452.5 305h0.95M453 305h0.95M453.5 305h0.95M454 305h0.95M454.5 305h0.95M455 305h0.95M456 305h0.95M456.5 305h0.95M457 305h0.95M457.5 305h0.95M458 305h0.95M458.5 305h0.95M459.5 305h0.95M460.5 305h0.95M461.5 305h0.95M462 305h0.95M442 305.5h0.95M442.5 305.5h0.95M443 305.5h0.95M443.5 305.5h0.95M444 305.5h0.95M444.5 305.5h0.95M445 305.5h0.95M445.5 305.5h0.95M446 305.5h0.95M446.5 305.5h0.95M447 305.5h0.95M447.5 305.5h0.95M448 305.5h0.95M448.5 305.5h0.95M449 305.5h0.95M449.5 305.5h0.95M450 305.5h0.95M450.5 305.5h0.95M451 305.5h0.95M451.5 305.5h0.95M452 305.5h0.95M452.5 305.5h0.95M453 305.5h0.95M453.5 305.5h0.95M454 305.5h0.95M454.5 305.5h0.95M455 305.5h0.95M455.5 305.5h0.95M456 305.5h0.95M456.5 305.5h0.95M457 305.5h0.95M457.5 305.5h0.95M458 305.5h0.95M458.5 305.5h0.95M459 305.5h0.95M460 305.5h0.95M460.5 305.5h0.95M462 305.5h0.95M442 306h0.95M442.5 306h0.95M443 306h0.95M443.5 306h0.95M444 306h0.95M444.5 306h0.95M445 306h0.95M445.5 306h0.95M446 306h0.95M446.5 306h0.95M447 306h0.95M447.5 306h0.95M448 306h0.95M448.5 306h0.95M449 306h0.95M449.5 306h0.95M450 306h0.95M450.5 306h0.95M451 306h0.95M451.5 306h0.95M452 306h0.95M452.5 306h0.95M453 306h0.95M453.5 306h0.95M454 306h0.95M454.5 306h0.95M455 306h0.95M455.5 306h0.95M456 306h0.95M456.5 306h0.95M457 306h0.95M457.5 306h0.95M458 306h0.95M459 306h0.95M459.5 306h0.95M460 306h0.95M460.5 306h0.95M461 306h0.95M461.5 306h0.95M462 306h0.95M463.5 306h0.95M442 306.5h0.95M442.5 306.5h0.95M443.5 306.5h0.95M444 306.5h0.95M444.5 306.5h0.95M445 306.5h0.95M445.5 306.5h0.95M446 306.5h0.95M446.5 306.5h0.95M447 306.5h0.95M447.5 306.5h0.95M448 306.5h0.95M448.5 306.5h0.95M449 306.5h0.95M449.5 306.5h0.95M450 306.5h0.95M450.5 306.5h0.95M451 306.5h0.95M451.5 306.5h0.95M452 306.5h0.95M452.5 306.5h0.95M453 306.5h0.95M453.5 306.5h0.95M454 306.5h0.95M455 306.5h0.95M455.5 306.5h0.95M456 306.5h0.95M456.5 306.5h0.95M457 306.5h0.95M457.5 306.5h0.95M458 306.5h0.95M458.5 306.5h0.95M459 306.5h0.95M460 306.5h0.95M460.5 306.5h0.95M461.5 306.5h0.95M462 306.5h0.95M463 306.5h0.95M464 306.5h0.95M465.5 306.5h0.95M466 306.5h0.95M442 307h0.95M443 307h0.95M443.5 307h0.95M444 307h0.95M444.5 307h0.95M445 307h0.95M445.5 307h0.95M446 307h0.95M446.5 307h0.95M447 307h0.95M448 307h0.95M448.5 307h0.95M449 307h0.95M449.5 307h0.95M450 307h0.95M450.5 307h0.95M451 307h0.95M451.5 307h0.95M452 307h0.95M452.5 307h0.95M453 307h0.95M453.5 307h0.95M454 307h0.95M455 307h0.95M456 307h0.95M456.5 307h0.95M457 307h0.95M457.5 307h0.95M458 307h0.95M458.5 307h0.95M459 307h0.95M459.5 307h0.95M460.5 307h0.95M461 307h0.95M462.5 307h0.95M463 307h0.95M464.5 307h0.95M442 307.5h0.95M443 307.5h0.95M444 307.5h0.95M445 307.5h0.95M445.5 307.5h0.95M446 307.5h0.95M446.5 307.5h0.95M447 307.5h0.95M447.5 307.5h0.95M448 307.5h0.95M448.5 307.5h0.95M449 307.5h0.95M449.5 307.5h0.95M450.5 307.5h0.95M451 307.5h0.95M451.5 307.5h0.95M452 307.5h0.95M452.5 307.5h0.95M453 307.5h0.95M453.5 307.5h0.95M454.5 307.5h0.95M455 307.5h0.95M455.5 307.5h0.95M456 307.5h0.95M456.5 307.5h0.95M457 307.5h0.95M457.5 307.5h0.95M458 307.5h0.95M458.5 307.5h0.95M459.5 307.5h0.95M460 307.5h0.95M460.5 307.5h0.95M465 307.5h0.95M442 308h0.95M443 308h0.95M443.5 308h0.95M444 308h0.95M444.5 308h0.95M445.5 308h0.95M446 308h0.95M446.5 308h0.95M447 308h0.95M447.5 308h0.95M448 308h0.95M448.5 308h0.95M449 308h0.95M449.5 308h0.95M450 308h0.95M450.5 308h0.95M451 308h0.95M451.5 308h0.95M452 308h0.95M452.5 308h0.95M453 308h0.95M453.5 308h0.95M454 308h0.95M454.5 308h0.95M455 308h0.95M455.5 308h0.95M456 308h0.95M457 308h0.95M459 308h0.95M459.5 308h0.95M463 308h0.95M464 308h0.95M442 308.5h0.95M442.5 308.5h0.95M443 308.5h0.95M444 308.5h0.95M445 308.5h0.95M445.5 308.5h0.95M446.5 308.5h0.95M447 308.5h0.95M447.5 308.5h0.95M448.5 308.5h0.95M449 308.5h0.95M449.5 308.5h0.95M450 308.5h0.95M450.5 308.5h0.95M451 308.5h0.95M451.5 308.5h0.95M452 308.5h0.95M452.5 308.5h0.95M453.5 308.5h0.95M454 308.5h0.95M454.5 308.5h0.95M455 308.5h0.95M455.5 308.5h0.95M456.5 308.5h0.95M457 308.5h0.95M457.5 308.5h0.95M459 308.5h0.95M460 308.5h0.95M462.5 308.5h0.95M442 309h0.95M442.5 309h0.95M443.5 309h0.95M444 309h0.95M444.5 309h0.95M446 309h0.95M446.5 309h0.95M447 309h0.95M447.5 309h0.95M448.5 309h0.95M449 309h0.95M449.5 309h0.95M450 309h0.95M451.5 309h0.95M452 309h0.95M452.5 309h0.95M453 309h0.95M453.5 309h0.95M454 309h0.95M454.5 309h0.95M455 309h0.95M455.5 309h0.95M456.5 309h0.95M457 309h0.95M458 309h0.95M442 309.5h0.95M443 309.5h0.95M443.5 309.5h0.95M444 309.5h0.95M445 309.5h0.95M445.5 309.5h0.95M446.5 309.5h0.95M447.5 309.5h0.95M448.5 309.5h0.95M449 309.5h0.95M449.5 309.5h0.95M450 309.5h0.95M451 309.5h0.95M451.5 309.5h0.95M452 309.5h0.95M454.5 309.5h0.95M455 309.5h0.95M457 309.5h0.95M464.5 309.5h0.95M443.5 310h0.95M444 310h0.95M445.5 310h0.95M447.5 310h0.95M450.5 310h0.95M451.5 310h0.95M452 310h0.95M453.5 310h0.95M454.5 310h0.95M455 310h0.95M457 310h0.95M457.5 310h0.95M444.5 310.5h0.95M445.5 310.5h0.95M446.5 310.5h0.95M447 310.5h0.95M447.5 310.5h0.95M448.5 310.5h0.95M449.5 310.5h0.95M450.5 310.5h0.95M451 310.5h0.95M452.5 310.5h0.95M453 310.5h0.95M455.5 310.5h0.95M456 310.5h0.95M457 310.5h0.95M460 310.5h0.95M465 310.5h0.95M446.5 311h0.95M447.5 311h0.95M452.5 311h0.95M453.5 311h0.95M444 311.5h0.95M449.5 311.5h0.95M452.5 311.5h0.95M454 311.5h0.95M454.5 311.5h0.95M449.5 312.5h0.95M456.5 312.5h0.95M454 313h0.95M487.5 313.5h0.95M488.5 313.5h0.95M484 316h0.95M485 317.5h0.95M486.5 317.5h0.95M488.5 317.5h0.95M486 318h0.95M488.5 318h0.95M485 318.5h0.95M487.5 318.5h0.95M489 318.5h0.95M485 319h0.95M486 319h0.95M486.5 319h0.95M489.5 319h0.95M490.5 319h0.95M484 319.5h0.95M485 319.5h0.95M487 319.5h0.95M487.5 319.5h0.95M488.5 319.5h0.95M489 319.5h0.95M486.5 320h0.95M487.5 320h0.95M485.5 320.5h0.95M487 320.5h0.95M488 320.5h0.95M488.5 320.5h0.95M490.5 320.5h0.95M486 321h0.95M488 321h0.95M489.5 321h0.95M490 321h0.95M490.5 321h0.95M485.5 321.5h0.95M486.5 321.5h0.95M487.5 321.5h0.95M488 321.5h0.95M490 321.5h0.95M484.5 322h0.95M485.5 322h0.95M486.5 322h0.95M487 322h0.95M487.5 322h0.95M488 322h0.95M488.5 322h0.95M490 322h0.95M485 322.5h0.95M486 322.5h0.95M487 322.5h0.95M488 322.5h0.95M488.5 322.5h0.95M489 322.5h0.95M490 322.5h0.95M484.5 323h0.95M485 323h0.95M486 323h0.95M486.5 323h0.95M487 323h0.95M487.5 323h0.95M488 323h0.95M488.5 323h0.95M490 323h0.95M490.5 323h0.95M491 323h0.95M492.5 323h0.95M485 323.5h0.95M485.5 323.5h0.95M487 323.5h0.95M487.5 323.5h0.95M488 323.5h0.95M488.5 323.5h0.95M490.5 323.5h0.95M491 323.5h0.95M491.5 323.5h0.95M484.5 324h0.95M485 324h0.95M485.5 324h0.95M486.5 324h0.95M487 324h0.95M487.5 324h0.95M488 324h0.95M489 324h0.95M489.5 324h0.95M490 324h0.95M492.5 324h0.95M484 324.5h0.95M485 324.5h0.95M485.5 324.5h0.95M486 324.5h0.95M486.5 324.5h0.95M487 324.5h0.95M487.5 324.5h0.95M488 324.5h0.95M488.5 324.5h0.95M489.5 324.5h0.95M490 324.5h0.95M490.5 324.5h0.95M483 325h0.95M484 325h0.95M485 325h0.95M485.5 325h0.95M486 325h0.95M487 325h0.95M487.5 325h0.95M488 325h0.95M488.5 325h0.95M489 325h0.95M489.5 325h0.95M490 325h0.95M490.5 325h0.95M486 325.5h0.95M486.5 325.5h0.95M487 325.5h0.95M487.5 325.5h0.95M488 325.5h0.95M488.5 325.5h0.95M489 325.5h0.95M490 325.5h0.95M490.5 325.5h0.95M492.5 325.5h0.95M485 326h0.95M486 326h0.95M486.5 326h0.95M487 326h0.95M487.5 326h0.95M488 326h0.95M488.5 326h0.95M489 326h0.95M489.5 326h0.95M490 326h0.95M491.5 326h0.95M492 326h0.95M482.5 326.5h0.95M484.5 326.5h0.95M485 326.5h0.95M485.5 326.5h0.95M486 326.5h0.95M487 326.5h0.95M487.5 326.5h0.95M488 326.5h0.95M488.5 326.5h0.95M489 326.5h0.95M489.5 326.5h0.95M490 326.5h0.95M491 326.5h0.95M483.5 327h0.95M485 327h0.95M485.5 327h0.95M486 327h0.95M486.5 327h0.95M487 327h0.95M487.5 327h0.95M488 327h0.95M488.5 327h0.95M489 327h0.95M489.5 327h0.95M490 327h0.95M490.5 327h0.95M491.5 327h0.95M483.5 327.5h0.95M484 327.5h0.95M484.5 327.5h0.95M485 327.5h0.95M485.5 327.5h0.95M486 327.5h0.95M486.5 327.5h0.95M487 327.5h0.95M487.5 327.5h0.95M488 327.5h0.95M489 327.5h0.95M489.5 327.5h0.95M491 327.5h0.95M484.5 328h0.95M485 328h0.95M485.5 328h0.95M486.5 328h0.95M487 328h0.95M487.5 328h0.95M488 328h0.95M488.5 328h0.95M489 328h0.95M489.5 328h0.95M490 328h0.95M491 328h0.95M492 328h0.95M484.5 328.5h0.95M485 328.5h0.95M486 328.5h0.95M486.5 328.5h0.95M487 328.5h0.95M487.5 328.5h0.95M488 328.5h0.95M488.5 328.5h0.95M489 328.5h0.95M489.5 328.5h0.95M490 328.5h0.95M490.5 328.5h0.95M491 328.5h0.95M492 328.5h0.95M483 329h0.95M484.5 329h0.95M485 329h0.95M485.5 329h0.95M486 329h0.95M487 329h0.95M487.5 329h0.95M488 329h0.95M488.5 329h0.95M489 329h0.95M489.5 329h0.95M490 329h0.95M490.5 329h0.95M484 329.5h0.95M485 329.5h0.95M485.5 329.5h0.95M486 329.5h0.95M486.5 329.5h0.95M487 329.5h0.95M487.5 329.5h0.95M488 329.5h0.95M488.5 329.5h0.95M489 329.5h0.95M489.5 329.5h0.95M490 329.5h0.95M493 329.5h0.95M484.5 330h0.95M486 330h0.95M486.5 330h0.95M487 330h0.95M487.5 330h0.95M488 330h0.95M488.5 330h0.95M489 330h0.95M489.5 330h0.95M490 330h0.95M492.5 330h0.95M484.5 330.5h0.95M485 330.5h0.95M486 330.5h0.95M486.5 330.5h0.95M487 330.5h0.95M487.5 330.5h0.95M488 330.5h0.95M488.5 330.5h0.95M489 330.5h0.95M489.5 330.5h0.95M490 330.5h0.95M491 330.5h0.95M484 331h0.95M485 331h0.95M486 331h0.95M486.5 331h0.95M487 331h0.95M487.5 331h0.95M488 331h0.95M488.5 331h0.95M489 331h0.95M489.5 331h0.95M490 331h0.95M484 331.5h0.95M485 331.5h0.95M485.5 331.5h0.95M486.5 331.5h0.95M487 331.5h0.95M487.5 331.5h0.95M488 331.5h0.95M488.5 331.5h0.95M490 331.5h0.95M490.5 331.5h0.95M484.5 332h0.95M485 332h0.95M485.5 332h0.95M486 332h0.95M486.5 332h0.95M487 332h0.95M487.5 332h0.95M488 332h0.95M488.5 332h0.95M490 332h0.95M490.5 332h0.95M491 332h0.95M484.5 332.5h0.95M486 332.5h0.95M486.5 332.5h0.95M487 332.5h0.95M487.5 332.5h0.95M488 332.5h0.95M489 332.5h0.95M489.5 332.5h0.95M490.5 332.5h0.95M491 332.5h0.95M491.5 332.5h0.95M485 333h0.95M485.5 333h0.95M486.5 333h0.95M487.5 333h0.95M488 333h0.95M488.5 333h0.95M489 333h0.95M491 333h0.95M492 333h0.95M486 333.5h0.95M486.5 333.5h0.95M488 333.5h0.95M488.5 333.5h0.95M489 333.5h0.95M490 333.5h0.95M492 333.5h0.95M484 334h0.95M485 334h0.95M486 334h0.95M486.5 334h0.95M487 334h0.95M487.5 334h0.95M488.5 334h0.95M489.5 334h0.95M491.5 334h0.95M483.5 334.5h0.95M486.5 334.5h0.95M487.5 334.5h0.95M488.5 334.5h0.95M489 334.5h0.95M489.5 334.5h0.95M490 334.5h0.95M492 334.5h0.95M485.5 335h0.95M486 335h0.95M487.5 335h0.95M488 335h0.95M488.5 335h0.95M490 335h0.95M491 335h0.95M485 335.5h0.95M487 335.5h0.95M487.5 335.5h0.95M488.5 335.5h0.95M489 335.5h0.95M490 335.5h0.95M488 336h0.95M489 336h0.95M490 336h0.95M487.5 336.5h0.95M488 336.5h0.95M489.5 336.5h0.95M486.5 337h0.95M487.5 337h0.95M488.5 337h0.95M489.5 337.5h0.95M490 337.5h0.95M491 337.5h0.95M485.5 338h0.95M486.5 338h0.95M487 338h0.95M487.5 338h0.95M489 338h0.95M490 338h0.95M491 338h0.95" stroke="#000" stroke-width="0.95" fill="none"/>
<line x1="462.4" y1="272.5" x2="462.4" y2="338.5" stroke="#5c5c5c" stroke-width="1.2"/>
<line x1="441.5" y1="315" x2="514.5" y2="315" stroke="#5c5c5c" stroke-width="1.3"/>
<line x1="441.5" y1="272.5" x2="514.5" y2="272.5" stroke="#555" stroke-width="1"/>
<line x1="514.5" y1="272.5" x2="514.5" y2="338.5" stroke="#8a8a8a" stroke-width="1"/>
<line x1="441.5" y1="272" x2="441.5" y2="339" stroke="#222" stroke-width="1"/>
<line x1="441" y1="338.5" x2="515" y2="338.5" stroke="#222" stroke-width="1"/>
<path d="M441.5 338.5v2.2M441.5 338.5h-2.2M446.99 338.5v1.3M441.5 333.53h-1.3M450.21 338.5v1.3M441.5 330.63h-1.3M452.49 338.5v1.3M441.5 328.57h-1.3M454.26 338.5v1.3M441.5 326.97h-1.3M455.7 338.5v1.3M441.5 325.66h-1.3M456.92 338.5v1.3M441.5 324.56h-1.3M457.98 338.5v1.3M441.5 323.6h-1.3M458.91 338.5v1.3M441.5 322.75h-1.3M459.75 338.5v2.2M441.5 322h-2.2M465.24 338.5v1.3M441.5 317.03h-1.3M468.46 338.5v1.3M441.5 314.13h-1.3M470.74 338.5v1.3M441.5 312.07h-1.3M472.51 338.5v1.3M441.5 310.47h-1.3M473.95 338.5v1.3M441.5 309.16h-1.3M475.17 338.5v1.3M441.5 308.06h-1.3M476.23 338.5v1.3M441.5 307.1h-1.3M477.16 338.5v1.3M441.5 306.25h-1.3M478 338.5v2.2M441.5 305.5h-2.2M483.49 338.5v1.3M441.5 300.53h-1.3M486.71 338.5v1.3M441.5 297.63h-1.3M488.99 338.5v1.3M441.5 295.57h-1.3M490.76 338.5v1.3M441.5 293.97h-1.3M492.2 338.5v1.3M441.5 292.66h-1.3M493.42 338.5v1.3M441.5 291.56h-1.3M494.48 338.5v1.3M441.5 290.6h-1.3M495.41 338.5v1.3M441.5 289.75h-1.3M496.25 338.5v2.2M441.5 289h-2.2M501.74 338.5v1.3M441.5 284.03h-1.3M504.96 338.5v1.3M441.5 281.13h-1.3M507.24 338.5v1.3M441.5 279.07h-1.3M509.01 338.5v1.3M441.5 277.47h-1.3M510.45 338.5v1.3M441.5 276.16h-1.3M511.67 338.5v1.3M441.5 275.06h-1.3M512.73 338.5v1.3M441.5 274.1h-1.3M513.66 338.5v1.3M441.5 273.25h-1.3M514.5 338.5v2.2M441.5 272.5h-2.2" stroke="#222" stroke-width="0.7" fill="none"/>
<text x="437.24" y="346.54" font-size="5.2" fill="#111">10<tspan dy="-2.34" font-size="4.37">0</tspan></text>
<text x="437.4" y="343.18" font-size="5.2" fill="#111" transform="rotate(-90 437.4 343.18)">10<tspan dy="-2.34" font-size="4.37">0</tspan></text>
<text x="455.49" y="346.54" font-size="5.2" fill="#111">10<tspan dy="-2.34" font-size="4.37">1</tspan></text>
<text x="437.4" y="326.68" font-size="5.2" fill="#111" transform="rotate(-90 437.4 326.68)">10<tspan dy="-2.34" font-size="4.37">1</tspan></text>
<text x="473.74" y="346.54" font-size="5.2" fill="#111">10<tspan dy="-2.34" font-size="4.37">2</tspan></text>
<text x="437.4" y="310.18" font-size="5.2" fill="#111" transform="rotate(-90 437.4 310.18)">10<tspan dy="-2.34" font-size="4.37">2</tspan></text>
<text x="491.99" y="346.54" font-size="5.2" fill="#111">10<tspan dy="-2.34" font-size="4.37">3</tspan></text>
<text x="437.4" y="293.68" font-size="5.2" fill="#111" transform="rotate(-90 437.4 293.68)">10<tspan dy="-2.34" font-size="4.37">3</tspan></text>
<text x="510.24" y="346.54" font-size="5.2" fill="#111">10<tspan dy="-2.34" font-size="4.37">4</tspan></text>
<text x="437.4" y="277.18" font-size="5.2" fill="#111" transform="rotate(-90 437.4 277.18)">10<tspan dy="-2.34" font-size="4.37">4</tspan></text>
<text x="446.6" y="268.4" font-size="17.2" font-weight="bold">K</text>
<text x="427.5" y="306.3" font-size="13.5" text-anchor="middle" transform="rotate(-90 427.5 306.3)">CD4</text>
<text x="476.8" y="361.3" font-size="13.8" text-anchor="middle">CD8</text>
<text x="290.3" y="74.6" font-size="14" text-anchor="middle" font-style="italic" transform="rotate(-90 290.3 74.6)">pre-culture</text>
<text x="290.3" y="239" font-size="14" text-anchor="middle" font-style="italic" transform="rotate(-90 290.3 239)">post-culture</text>
<line x1="76.7" y1="160.6" x2="246.6" y2="160.6" stroke="#686868" stroke-width="1"/>
<text x="72.8" y="165.4" font-size="13.4" text-anchor="end">100</text>
<line x1="76.7" y1="176.92" x2="246.6" y2="176.92" stroke="#686868" stroke-width="1"/>
<text x="72.8" y="181.72" font-size="13.4" text-anchor="end">80</text>
<line x1="76.7" y1="193.24" x2="246.6" y2="193.24" stroke="#686868" stroke-width="1"/>
<text x="72.8" y="198.04" font-size="13.4" text-anchor="end">60</text>
<line x1="76.7" y1="209.56" x2="246.6" y2="209.56" stroke="#686868" stroke-width="1"/>
<text x="72.8" y="214.36" font-size="13.4" text-anchor="end">40</text>
<line x1="76.7" y1="225.88" x2="246.6" y2="225.88" stroke="#686868" stroke-width="1"/>
<text x="72.8" y="230.68" font-size="13.4" text-anchor="end">20</text>
<line x1="76.7" y1="242.2" x2="246.6" y2="242.2" stroke="#686868" stroke-width="1"/>
<text x="72.8" y="247" font-size="13.4" text-anchor="end">0</text>
<line x1="76.7" y1="160.6" x2="76.7" y2="242.2" stroke="#686868" stroke-width="1"/>
<line x1="246.6" y1="160.6" x2="246.6" y2="242.2" stroke="#686868" stroke-width="1"/>
<text x="80" y="154.5" font-size="17.2" font-weight="bold">C</text>
<text x="42.4" y="200.5" font-size="14" text-anchor="middle" transform="rotate(-90 42.4 200.5)">% CD4<tspan dy="-4.5" font-size="11.5">+</tspan><tspan dy="4.5">8</tspan><tspan dy="-4.5" font-size="11.5">+</tspan></text>
<text x="103.7" y="260.4" font-size="11.2" text-anchor="middle" font-family='"DejaVu Sans", Verdana, "Liberation Sans", sans-serif'>0.3</text>
<text x="133.4" y="260.4" font-size="11.2" text-anchor="middle" font-family='"DejaVu Sans", Verdana, "Liberation Sans", sans-serif'>1</text>
<text x="160.6" y="260.4" font-size="11.2" text-anchor="middle" font-family='"DejaVu Sans", Verdana, "Liberation Sans", sans-serif'>3</text>
<text x="190.3" y="260.4" font-size="11.2" text-anchor="middle" font-family='"DejaVu Sans", Verdana, "Liberation Sans", sans-serif'>10</text>
<text x="217.3" y="260.4" font-size="11.2" text-anchor="middle" font-family='"DejaVu Sans", Verdana, "Liberation Sans", sans-serif'>30</text>
<path d="M98.1 241.5l2.9 -3l2.9 3l-2.9 3zM100.7 241.5l2.9 -3l2.9 3l-2.9 3zM103.7 241.5l2.9 -3l2.9 3l-2.9 3zM130.6 171.4l2.9 -3l2.9 3l-2.9 3zM130.6 180.4l2.9 -3l2.9 3l-2.9 3zM130.6 186.2l2.9 -3l2.9 3l-2.9 3zM125.4 241.5l2.9 -3l2.9 3l-2.9 3zM128.3 241.5l2.9 -3l2.9 3l-2.9 3zM131.3 241.5l2.9 -3l2.9 3l-2.9 3zM134.7 241.5l2.9 -3l2.9 3l-2.9 3zM158 177.2l2.9 -3l2.9 3l-2.9 3zM154.6 181.2l2.9 -3l2.9 3l-2.9 3zM160.2 180.5l2.9 -3l2.9 3l-2.9 3zM158 221.9l2.9 -3l2.9 3l-2.9 3zM155.2 241.4l2.9 -3l2.9 3l-2.9 3zM157.7 239.3l2.9 -3l2.9 3l-2.9 3zM161.3 241.5l2.9 -3l2.9 3l-2.9 3zM187.2 167.9l2.9 -3l2.9 3l-2.9 3zM184.4 181.2l2.9 -3l2.9 3l-2.9 3zM189.4 186l2.9 -3l2.9 3l-2.9 3zM187.2 221.3l2.9 -3l2.9 3l-2.9 3zM184.8 231.2l2.9 -3l2.9 3l-2.9 3zM189.8 232.7l2.9 -3l2.9 3l-2.9 3zM187.6 236.2l2.9 -3l2.9 3l-2.9 3zM185.3 239.2l2.9 -3l2.9 3l-2.9 3zM189.4 240.2l2.9 -3l2.9 3l-2.9 3zM187.6 241.8l2.9 -3l2.9 3l-2.9 3zM214.2 180.4l2.9 -3l2.9 3l-2.9 3z" fill="#000"/>
<line x1="76.7" y1="282.1" x2="247.2" y2="282.1" stroke="#686868" stroke-width="1"/>
<text x="68.9" y="288.3" font-size="13.3" text-anchor="end">1,000</text>
<line x1="76.7" y1="295.62" x2="247.2" y2="295.62" stroke="#686868" stroke-width="1"/>
<text x="68.9" y="301.82" font-size="13.3" text-anchor="end">100</text>
<line x1="76.7" y1="309.13" x2="247.2" y2="309.13" stroke="#686868" stroke-width="1"/>
<text x="68.9" y="315.33" font-size="13.3" text-anchor="end">10</text>
<line x1="76.7" y1="322.65" x2="247.2" y2="322.65" stroke="#686868" stroke-width="1"/>
<text x="68.9" y="328.85" font-size="13.3" text-anchor="end">1</text>
<line x1="76.7" y1="336.17" x2="247.2" y2="336.17" stroke="#686868" stroke-width="1"/>
<text x="68.9" y="342.37" font-size="13.3" text-anchor="end">0.1</text>
<line x1="76.7" y1="349.68" x2="247.2" y2="349.68" stroke="#686868" stroke-width="1"/>
<text x="68.9" y="355.88" font-size="13.3" text-anchor="end">0.01</text>
<line x1="76.7" y1="363.2" x2="247.2" y2="363.2" stroke="#686868" stroke-width="1"/>
<line x1="76.7" y1="282.1" x2="76.7" y2="363.2" stroke="#686868" stroke-width="1"/>
<line x1="247.2" y1="282.1" x2="247.2" y2="363.2" stroke="#686868" stroke-width="1"/>
<line x1="0" y1="357.3" x2="75.2" y2="357.3" stroke="#686868" stroke-width="1"/>
<text x="79.6" y="276.3" font-size="17.2" font-weight="bold">D</text>
<text x="15.2" y="313.5" font-size="13.5" text-anchor="middle" transform="rotate(-90 15.2 313.5)">TREC</text>
<text x="29.3" y="315.2" font-size="11.2" text-anchor="middle" font-style="italic" transform="rotate(-90 29.3 315.2)">per 1000 cells</text>
<text x="75.3" y="369.1" font-size="13.8" text-anchor="end" font-style="italic">undetected</text>
<text x="103.7" y="387" font-size="11.2" text-anchor="middle" font-family='"DejaVu Sans", Verdana, "Liberation Sans", sans-serif'>0.3</text>
<text x="133" y="387" font-size="11.2" text-anchor="middle" font-family='"DejaVu Sans", Verdana, "Liberation Sans", sans-serif'>1</text>
<text x="159.8" y="387" font-size="11.2" text-anchor="middle" font-family='"DejaVu Sans", Verdana, "Liberation Sans", sans-serif'>3</text>
<text x="189.6" y="387" font-size="11.2" text-anchor="middle" font-family='"DejaVu Sans", Verdana, "Liberation Sans", sans-serif'>10</text>
<text x="217.8" y="387" font-size="11.2" text-anchor="middle" font-family='"DejaVu Sans", Verdana, "Liberation Sans", sans-serif'>30</text>
<text x="165.1" y="403.3" font-size="14" text-anchor="middle">cell dose, <tspan font-style="italic">x1000</tspan></text>
<path d="M130.45 295.6l2.75 -2.85l2.75 2.85l-2.75 2.85zM157.45 293.7l2.75 -2.85l2.75 2.85l-2.75 2.85zM154.95 303.6l2.75 -2.85l2.75 2.85l-2.75 2.85zM187.05 294.8l2.75 -2.85l2.75 2.85l-2.75 2.85zM190.05 296.7l2.75 -2.85l2.75 2.85l-2.75 2.85zM187.05 306.5l2.75 -2.85l2.75 2.85l-2.75 2.85zM190.05 307.6l2.75 -2.85l2.75 2.85l-2.75 2.85zM214.15 300l2.75 -2.85l2.75 2.85l-2.75 2.85zM98.25 363.5l2.75 -2.85l2.75 2.85l-2.75 2.85zM103.45 363.5l2.75 -2.85l2.75 2.85l-2.75 2.85zM124.95 363.5l2.75 -2.85l2.75 2.85l-2.75 2.85zM130.85 363.5l2.75 -2.85l2.75 2.85l-2.75 2.85zM154.25 363.5l2.75 -2.85l2.75 2.85l-2.75 2.85zM157.15 363.5l2.75 -2.85l2.75 2.85l-2.75 2.85zM160.05 363.5l2.75 -2.85l2.75 2.85l-2.75 2.85zM189.65 363.5l2.75 -2.85l2.75 2.85l-2.75 2.85z" fill="#000"/>
<line x1="76.6" y1="434.8" x2="247.2" y2="434.8" stroke="#686868" stroke-width="1"/>
<text x="68.9" y="441" font-size="13.3" text-anchor="end">1,000</text>
<line x1="76.6" y1="448.6" x2="247.2" y2="448.6" stroke="#686868" stroke-width="1"/>
<text x="68.9" y="454.8" font-size="13.3" text-anchor="end">100</text>
<line x1="76.6" y1="462.4" x2="247.2" y2="462.4" stroke="#686868" stroke-width="1"/>
<text x="68.9" y="468.6" font-size="13.3" text-anchor="end">10</text>
<line x1="76.6" y1="476.2" x2="247.2" y2="476.2" stroke="#686868" stroke-width="1"/>
<text x="68.9" y="482.4" font-size="13.3" text-anchor="end">1</text>
<line x1="76.6" y1="490" x2="247.2" y2="490" stroke="#686868" stroke-width="1"/>
<text x="68.9" y="496.2" font-size="13.3" text-anchor="end">0.1</text>
<line x1="76.6" y1="503.8" x2="247.2" y2="503.8" stroke="#686868" stroke-width="1"/>
<text x="68.9" y="510" font-size="13.3" text-anchor="end">0.01</text>
<line x1="76.6" y1="517.6" x2="247.2" y2="517.6" stroke="#686868" stroke-width="1"/>
<line x1="76.6" y1="434.8" x2="76.6" y2="517.6" stroke="#686868" stroke-width="1"/>
<line x1="247.2" y1="434.8" x2="247.2" y2="517.6" stroke="#686868" stroke-width="1"/>
<line x1="0" y1="509.5" x2="76.6" y2="509.5" stroke="#686868" stroke-width="1"/>
<text x="81" y="428.2" font-size="17.2" font-weight="bold">E</text>
<text x="15.2" y="466.5" font-size="13.5" text-anchor="middle" transform="rotate(-90 15.2 466.5)">TREC</text>
<text x="29.3" y="468.2" font-size="11.2" text-anchor="middle" font-style="italic" transform="rotate(-90 29.3 468.2)">per 1000 cells</text>
<text x="75.3" y="522.8" font-size="13.8" text-anchor="end" font-style="italic">undetected</text>
<text x="76.6" y="535.8" font-size="11.1" text-anchor="middle" font-family='"DejaVu Sans", Verdana, "Liberation Sans", sans-serif'>0</text>
<text x="110.72" y="535.8" font-size="11.1" text-anchor="middle" font-family='"DejaVu Sans", Verdana, "Liberation Sans", sans-serif'>20</text>
<text x="144.84" y="535.8" font-size="11.1" text-anchor="middle" font-family='"DejaVu Sans", Verdana, "Liberation Sans", sans-serif'>40</text>
<text x="178.96" y="535.8" font-size="11.1" text-anchor="middle" font-family='"DejaVu Sans", Verdana, "Liberation Sans", sans-serif'>60</text>
<text x="213.08" y="535.8" font-size="11.1" text-anchor="middle" font-family='"DejaVu Sans", Verdana, "Liberation Sans", sans-serif'>80</text>
<text x="244.8" y="535.8" font-size="11.1" text-anchor="middle" font-family='"DejaVu Sans", Verdana, "Liberation Sans", sans-serif'>100</text>
<text x="162.2" y="555.6" font-size="14.3" text-anchor="middle">% CD4<tspan dy="-4.5" font-size="12">+</tspan><tspan dy="4.5">CD8</tspan><tspan dy="-4.5" font-size="12">+</tspan></text>
<path d="M84.75 460.9l2.75 -2.85l2.75 2.85l-2.75 2.85zM117.25 460.2l2.75 -2.85l2.75 2.85l-2.75 2.85zM190.75 448.3l2.75 -2.85l2.75 2.85l-2.75 2.85zM190.95 450.4l2.75 -2.85l2.75 2.85l-2.75 2.85zM203.15 448.1l2.75 -2.85l2.75 2.85l-2.75 2.85zM209.35 446.7l2.75 -2.85l2.75 2.85l-2.75 2.85zM227.25 448.1l2.75 -2.85l2.75 2.85l-2.75 2.85zM203.15 453.6l2.75 -2.85l2.75 2.85l-2.75 2.85zM201.55 455.8l2.75 -2.85l2.75 2.85l-2.75 2.85zM200.25 457.6l2.75 -2.85l2.75 2.85l-2.75 2.85zM74.45 517.5l2.75 -2.85l2.75 2.85l-2.75 2.85zM75.85 517.5l2.75 -2.85l2.75 2.85l-2.75 2.85zM77.25 517.5l2.75 -2.85l2.75 2.85l-2.75 2.85zM78.85 517.5l2.75 -2.85l2.75 2.85l-2.75 2.85zM92.85 517.5l2.75 -2.85l2.75 2.85l-2.75 2.85zM201.75 517.5l2.75 -2.85l2.75 2.85l-2.75 2.85zM221.45 517.5l2.75 -2.85l2.75 2.85l-2.75 2.85z" fill="#000"/>
<line x1="332.3" y1="387.6" x2="392.5" y2="387.6" stroke="#686868" stroke-width="1"/>
<text x="326.2" y="392.7" font-size="14" text-anchor="end">2.5</text>
<line x1="332.3" y1="416.72" x2="392.5" y2="416.72" stroke="#686868" stroke-width="1"/>
<text x="326.2" y="421.82" font-size="14" text-anchor="end">2.0</text>
<line x1="332.3" y1="445.84" x2="392.5" y2="445.84" stroke="#686868" stroke-width="1"/>
<text x="326.2" y="450.94" font-size="14" text-anchor="end">1.5</text>
<line x1="332.3" y1="474.96" x2="392.5" y2="474.96" stroke="#686868" stroke-width="1"/>
<text x="326.2" y="480.06" font-size="14" text-anchor="end">1.0</text>
<line x1="332.3" y1="504.08" x2="392.5" y2="504.08" stroke="#686868" stroke-width="1"/>
<text x="326.2" y="509.18" font-size="14" text-anchor="end">0.5</text>
<line x1="332.3" y1="533.2" x2="392.5" y2="533.2" stroke="#686868" stroke-width="1"/>
<text x="326.2" y="538.3" font-size="14" text-anchor="end">0</text>
<line x1="332.3" y1="387.6" x2="332.3" y2="533.2" stroke="#686868" stroke-width="1"/>
<line x1="392.5" y1="387.6" x2="392.5" y2="533.2" stroke="#686868" stroke-width="1"/>
<text x="342" y="381.2" font-size="17.2" font-weight="bold">L</text>
<text x="293.9" y="458.2" font-size="14.1" text-anchor="middle" font-style="italic" transform="rotate(-90 293.9 458.2)">fold-expansion</text>
<text x="357.3" y="542.6" font-size="14" text-anchor="end" font-style="italic" transform="rotate(-90 357.3 542.6)">beads</text>
<text x="378.2" y="542.9" font-size="14.4" text-anchor="end" font-style="italic" transform="rotate(-90 378.2 542.9)">+huvec</text>
<path d="M349.8 443.5l2.5 -2.55l2.5 2.55l-2.5 2.55zM349.8 517.5l2.5 -2.55l2.5 2.55l-2.5 2.55zM349.8 520.9l2.5 -2.55l2.5 2.55l-2.5 2.55zM348.1 532.5l2.5 -2.55l2.5 2.55l-2.5 2.55zM349.8 530.4l2.5 -2.55l2.5 2.55l-2.5 2.55zM351.9 532.5l2.5 -2.55l2.5 2.55l-2.5 2.55zM370 496.3l2.5 -2.55l2.5 2.55l-2.5 2.55zM370 504.1l2.5 -2.55l2.5 2.55l-2.5 2.55zM370 524l2.5 -2.55l2.5 2.55l-2.5 2.55zM370 527.2l2.5 -2.55l2.5 2.55l-2.5 2.55z" fill="#000"/>
<line x1="444.9" y1="387.6" x2="508" y2="387.6" stroke="#686868" stroke-width="1"/>
<text x="438.6" y="392.7" font-size="14" text-anchor="end">50</text>
<line x1="444.9" y1="416.72" x2="508" y2="416.72" stroke="#686868" stroke-width="1"/>
<text x="438.6" y="421.82" font-size="14" text-anchor="end">40</text>
<line x1="444.9" y1="445.84" x2="508" y2="445.84" stroke="#686868" stroke-width="1"/>
<text x="438.6" y="450.94" font-size="14" text-anchor="end">30</text>
<line x1="444.9" y1="474.96" x2="508" y2="474.96" stroke="#686868" stroke-width="1"/>
<text x="438.6" y="480.06" font-size="14" text-anchor="end">20</text>
<line x1="444.9" y1="504.08" x2="508" y2="504.08" stroke="#686868" stroke-width="1"/>
<text x="438.6" y="509.18" font-size="14" text-anchor="end">10</text>
<line x1="444.9" y1="533.2" x2="508" y2="533.2" stroke="#686868" stroke-width="1"/>
<text x="438.6" y="538.3" font-size="14" text-anchor="end">0</text>
<line x1="444.9" y1="387.6" x2="444.9" y2="533.2" stroke="#686868" stroke-width="1"/>
<line x1="508" y1="387.6" x2="508" y2="533.2" stroke="#686868" stroke-width="1"/>
<text x="447.8" y="381.2" font-size="17.2" font-weight="bold">M</text>
<text x="469.4" y="542.6" font-size="14" text-anchor="end" font-style="italic" transform="rotate(-90 469.4 542.6)">beads</text>
<text x="490.8" y="542.9" font-size="14.4" text-anchor="end" font-style="italic" transform="rotate(-90 490.8 542.9)">+huvec</text>
<path d="M463.7 404.8l2.5 -2.55l2.5 2.55l-2.5 2.55zM463.7 417.6l2.5 -2.55l2.5 2.55l-2.5 2.55zM463.7 427.7l2.5 -2.55l2.5 2.55l-2.5 2.55zM461 462.1l2.5 -2.55l2.5 2.55l-2.5 2.55zM466 459.4l2.5 -2.55l2.5 2.55l-2.5 2.55zM463.7 478l2.5 -2.55l2.5 2.55l-2.5 2.55zM484.2 440.8l2.5 -2.55l2.5 2.55l-2.5 2.55zM484.2 490.7l2.5 -2.55l2.5 2.55l-2.5 2.55zM484.2 506.2l2.5 -2.55l2.5 2.55l-2.5 2.55zM484.2 512l2.5 -2.55l2.5 2.55l-2.5 2.55z" fill="#000"/>
</svg>
</body>
</html>
